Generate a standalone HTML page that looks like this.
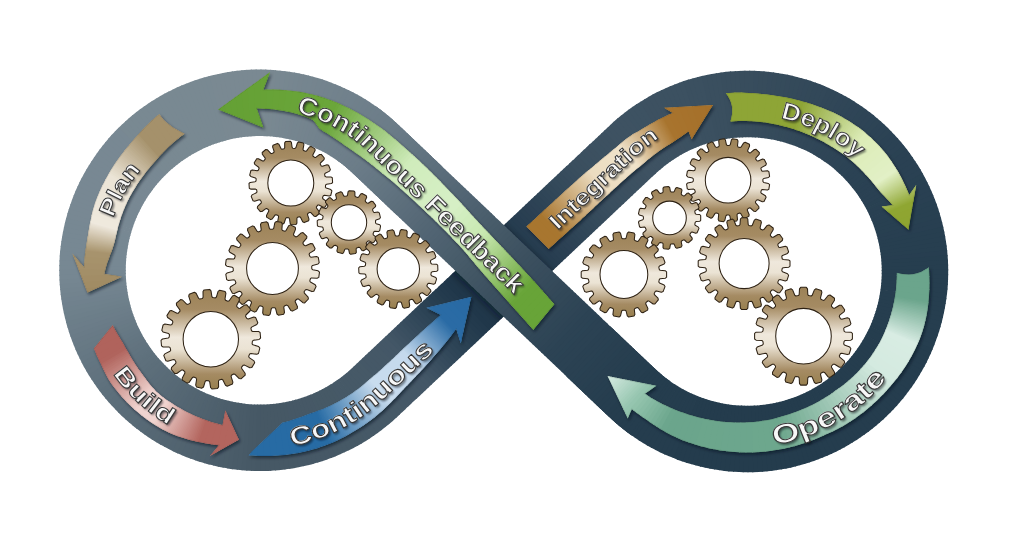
<!DOCTYPE html>
<html><head><meta charset="utf-8"><title>DevOps loop</title>
<style>html,body{margin:0;padding:0;background:#fff;overflow:hidden}svg{display:block}text{font-family:"Liberation Sans",sans-serif}</style>
</head><body>
<svg width="1024" height="544" viewBox="0 0 1024 544">
<defs>
<filter id="sh" x="-20%" y="-20%" width="140%" height="140%"><feGaussianBlur stdDeviation="1.8"/></filter>
<filter id="sh2" x="-20%" y="-20%" width="140%" height="140%"><feGaussianBlur stdDeviation="4"/></filter>
<filter id="tsh" x="-20%" y="-20%" width="140%" height="140%"><feGaussianBlur stdDeviation="0.9"/></filter>
<linearGradient id="gg" x1="0" y1="0" x2="0" y2="1">
<stop offset="0.000" stop-color="#9c8257"/>
<stop offset="0.200" stop-color="#a58b63"/>
<stop offset="0.480" stop-color="#efe8dc"/>
<stop offset="0.600" stop-color="#ebe3d4"/>
<stop offset="0.850" stop-color="#a58b63"/>
<stop offset="1.000" stop-color="#98804f"/>
</linearGradient>
<linearGradient id="tg" x1="0" y1="0" x2="0" y2="1"><stop offset="0" stop-color="#fff"/><stop offset="1" stop-color="#c4c4c4"/></linearGradient>
</defs>
<rect width="1024" height="544" fill="#fff"/>
<clipPath id="b1"><path d="M396.0,214.3 L393.1,211.6 L390.2,208.8 L387.3,206.1 L384.4,203.3 L381.5,200.5 L378.6,197.8 L375.7,195.0 L372.8,192.3 L369.9,189.5 L367.0,186.7 L364.1,184.0 L361.2,181.2 L358.3,178.5 L355.3,175.7 L352.5,173.0 L350.1,170.8 L347.7,168.7 L345.2,166.6 L342.7,164.6 L340.2,162.6 L337.6,160.7 L335.0,158.9 L332.3,157.2 L329.5,155.5 L326.8,153.8 L324.0,152.3 L321.1,150.8 L318.3,149.4 L315.4,148.0 L312.4,146.7 L309.4,145.5 L306.4,144.3 L303.4,143.3 L300.4,142.3 L297.3,141.3 L294.2,140.5 L291.1,139.7 L288.0,139.0 L284.8,138.4 L281.7,137.8 L278.5,137.3 L275.3,136.9 L272.1,136.6 L268.9,136.3 L265.7,136.2 L262.5,136.1 L259.3,136.1 L256.1,136.1 L252.9,136.2 L249.7,136.4 L246.5,136.7 L243.3,137.1 L240.1,137.5 L236.9,138.0 L233.8,138.6 L230.6,139.3 L227.5,140.0 L224.4,140.9 L221.3,141.7 L218.3,142.7 L215.2,143.7 L212.2,144.8 L209.2,146.0 L206.3,147.3 L203.3,148.6 L200.5,150.0 L197.6,151.4 L194.8,153.0 L192.0,154.6 L189.2,156.2 L186.5,157.9 L183.9,159.7 L181.2,161.6 L178.7,163.5 L176.1,165.5 L173.7,167.5 L171.2,169.6 L168.8,171.7 L166.5,174.0 L164.2,176.2 L162.0,178.5 L159.8,180.9 L157.7,183.3 L155.7,185.8 L153.7,188.3 L151.8,190.9 L149.9,193.5 L148.1,196.1 L146.4,198.8 L144.7,201.6 L143.1,204.3 L141.5,207.2 L140.1,210.0 L138.6,212.9 L137.3,215.8 L136.0,218.8 L134.8,221.7 L133.7,224.7 L132.7,227.8 L131.7,230.8 L130.8,233.9 L129.9,237.0 L129.2,240.1 L128.5,243.3 L127.9,246.4 L127.4,249.6 L126.9,252.8 L126.5,255.9 L126.2,259.1 L126.0,262.3 L125.8,265.5 L125.8,268.7 L125.8,272.0 L125.8,275.2 L126.0,278.4 L126.2,281.6 L126.5,284.8 L126.9,288.0 L127.4,291.1 L127.9,294.3 L128.5,297.4 L129.2,300.6 L130.0,303.7 L130.8,306.8 L131.7,309.9 L132.7,312.9 L133.8,316.0 L134.9,319.0 L136.1,321.9 L137.3,324.9 L138.7,327.8 L140.1,330.7 L141.6,333.5 L143.1,336.4 L144.7,339.1 L146.4,341.9 L148.2,344.6 L150.0,347.2 L151.8,349.8 L153.8,352.4 L155.8,354.9 L157.8,357.4 L159.9,359.8 L162.1,362.1 L164.3,364.5 L166.6,366.7 L168.9,368.9 L171.3,371.1 L173.7,373.2 L176.2,375.2 L178.8,377.2 L181.3,379.1 L184.0,380.9 L186.6,382.7 L189.3,384.4 L192.1,386.1 L194.9,387.7 L197.7,389.2 L200.5,390.7 L203.4,392.1 L206.4,393.4 L209.3,394.6 L212.3,395.8 L215.3,396.9 L218.4,397.9 L221.4,398.9 L224.5,399.8 L227.6,400.6 L230.7,401.3 L233.9,402.0 L237.0,402.6 L240.2,403.1 L243.4,403.5 L246.6,403.9 L249.8,404.2 L253.0,404.4 L256.2,404.5 L259.4,404.5 L262.6,404.5 L265.8,404.4 L269.0,404.2 L272.2,404.0 L275.4,403.7 L278.6,403.3 L281.8,402.8 L284.9,402.2 L288.1,401.6 L291.2,400.9 L294.3,400.1 L297.4,399.2 L300.5,398.3 L303.5,397.3 L306.5,396.2 L309.5,395.1 L312.5,393.9 L315.4,392.6 L318.4,391.2 L321.2,389.8 L324.1,388.3 L326.9,386.7 L329.6,385.1 L332.4,383.4 L335.0,381.6 L337.7,379.8 L340.3,377.9 L342.8,376.0 L345.3,373.9 L347.8,371.9 L350.2,369.8 L352.7,367.4 L355.6,364.7 L358.5,362.0 L361.4,359.2 L364.3,356.5 L367.2,353.7 L370.2,351.0 L373.1,348.2 L376.0,345.5 L378.9,342.7 L381.8,340.0 L384.7,337.3 L387.7,334.5 L390.6,331.8 L393.5,329.0 L396.4,326.3 L399.3,323.5 L402.2,320.8 L405.1,318.0 L408.1,315.3 L411.0,312.6 L413.9,309.8 L416.8,307.1 L419.7,304.3 L422.6,301.6 L425.6,298.8 L428.5,296.1 L431.4,293.3 L434.3,290.6 L437.2,287.9 L440.1,285.1 L443.1,282.4 L446.0,279.6 L448.9,276.9 L451.8,274.1 L454.7,271.4 L457.6,268.6 L460.5,265.9 L463.5,263.2 L466.4,260.4 L469.3,257.7 L472.2,254.9 L475.1,252.2 L478.0,249.4 L481.0,246.7 L483.9,243.9 L486.8,241.2 L489.7,238.5 L492.6,235.7 L495.5,233.0 L498.5,230.2 L501.4,227.5 L504.3,224.7 L507.2,222.0 L510.1,219.2 L513.0,216.5 L516.0,213.8 L518.9,211.0 L521.8,208.3 L524.7,205.5 L527.6,202.8 L530.5,200.0 L533.4,197.3 L536.4,194.5 L539.3,191.8 L542.2,189.1 L545.1,186.3 L548.0,183.6 L550.9,180.8 L553.9,178.1 L556.8,175.3 L559.7,172.6 L562.6,169.8 L565.5,167.1 L568.4,164.4 L571.4,161.6 L574.3,158.9 L577.2,156.1 L580.1,153.4 L583.0,150.6 L585.9,147.9 L588.8,145.1 L591.8,142.4 L594.7,139.7 L597.6,136.9 L600.5,134.2 L603.4,131.4 L606.3,128.7 L609.3,125.9 L612.6,122.8 L616.2,119.6 L619.9,116.5 L623.7,113.5 L627.5,110.6 L631.3,107.8 L635.3,105.0 L639.3,102.4 L643.4,99.9 L647.5,97.4 L651.7,95.1 L655.9,92.8 L660.2,90.7 L664.6,88.7 L669.0,86.7 L673.4,84.9 L677.9,83.2 L682.4,81.6 L687.0,80.1 L691.6,78.7 L696.2,77.4 L700.8,76.2 L705.5,75.2 L710.2,74.2 L715.0,73.4 L719.7,72.7 L724.5,72.1 L729.2,71.6 L734.0,71.2 L738.8,70.9 L743.6,70.8 L748.4,70.8 L753.2,70.8 L758.0,71.0 L762.8,71.3 L767.6,71.8 L772.3,72.3 L777.1,72.9 L781.8,73.7 L786.6,74.6 L791.2,75.6 L795.9,76.7 L800.6,77.9 L805.2,79.2 L809.8,80.6 L814.3,82.2 L818.8,83.8 L823.3,85.6 L827.7,87.5 L832.1,89.4 L836.4,91.5 L840.7,93.7 L844.9,96.0 L849.1,98.3 L853.2,100.8 L857.2,103.4 L861.2,106.1 L865.1,108.8 L869.0,111.7 L872.8,114.6 L876.5,117.7 L880.1,120.8 L883.7,124.0 L887.2,127.3 L890.6,130.7 L893.9,134.2 L897.2,137.7 L900.3,141.3 L903.4,145.0 L906.4,148.8 L909.2,152.6 L912.0,156.5 L914.7,160.5 L917.4,164.5 L919.9,168.6 L922.3,172.7 L924.6,176.9 L926.8,181.2 L928.9,185.5 L930.9,189.9 L932.8,194.3 L934.6,198.7 L936.3,203.2 L937.9,207.8 L939.3,212.3 L940.7,216.9 L941.9,221.6 L943.1,226.2 L944.1,230.9 L945.0,235.6 L945.8,240.4 L946.5,245.1 L947.1,249.9 L947.5,254.6 L947.9,259.4 L948.1,264.2 L948.2,269.0 L948.2,273.8 L948.1,278.6 L947.9,283.4 L947.6,288.2 L947.1,293.0 L946.5,297.7 L945.8,302.5 L945.0,307.2 L944.1,311.9 L943.1,316.6 L942.0,321.3 L940.7,325.9 L939.4,330.5 L937.9,335.1 L936.3,339.6 L934.7,344.1 L932.9,348.6 L931.0,353.0 L929.0,357.3 L926.9,361.7 L924.7,365.9 L922.4,370.1 L919.9,374.3 L917.4,378.4 L914.8,382.4 L912.1,386.4 L909.3,390.3 L906.5,394.1 L903.5,397.9 L900.4,401.6 L897.3,405.2 L894.0,408.7 L890.7,412.2 L887.3,415.6 L883.8,418.9 L880.3,422.1 L876.6,425.2 L872.9,428.3 L869.1,431.2 L865.3,434.1 L861.3,436.8 L857.4,439.5 L853.3,442.1 L849.2,444.6 L845.0,447.0 L840.8,449.2 L836.5,451.4 L832.2,453.5 L827.8,455.5 L823.4,457.3 L819.0,459.1 L814.5,460.8 L809.9,462.3 L805.3,463.7 L800.7,465.1 L796.1,466.3 L791.4,467.4 L786.7,468.4 L782.0,469.3 L777.3,470.0 L772.5,470.7 L767.7,471.2 L763.0,471.7 L758.2,472.0 L753.4,472.2 L748.6,472.2 L743.8,472.2 L739.0,472.1 L734.2,471.8 L729.4,471.4 L724.6,470.9 L719.9,470.3 L715.1,469.6 L710.4,468.8 L705.7,467.8 L701.0,466.8 L696.3,465.6 L691.7,464.3 L687.1,463.0 L682.6,461.5 L678.0,459.9 L673.6,458.1 L669.1,456.3 L664.7,454.4 L660.4,452.4 L656.1,450.2 L651.8,448.0 L647.6,445.7 L643.5,443.2 L639.4,440.7 L635.4,438.1 L631.5,435.3 L627.6,432.5 L623.8,429.6 L620.0,426.6 L616.4,423.5 L612.8,420.3 L609.2,417.1 L606.3,414.3 L603.4,411.5 L600.5,408.8 L597.6,406.0 L594.7,403.3 L591.8,400.5 L588.9,397.7 L586.0,395.0 L583.1,392.2 L580.2,389.5 L577.3,386.7 L574.4,383.9 L571.5,381.2 L568.6,378.4 L565.7,375.7 L611.5,327.5 L614.4,330.2 L617.3,333.0 L620.2,335.7 L623.1,338.5 L626.0,341.3 L628.9,344.0 L631.8,346.8 L634.7,349.5 L637.6,352.3 L640.5,355.1 L643.4,357.8 L646.3,360.6 L649.2,363.3 L652.2,366.1 L655.0,368.8 L657.4,371.0 L659.8,373.1 L662.3,375.2 L664.8,377.2 L667.3,379.2 L669.9,381.1 L672.5,382.9 L675.2,384.6 L678.0,386.3 L680.7,388.0 L683.5,389.5 L686.4,391.0 L689.2,392.4 L692.1,393.8 L695.1,395.1 L698.1,396.3 L701.1,397.5 L704.1,398.5 L707.1,399.5 L710.2,400.5 L713.3,401.3 L716.4,402.1 L719.5,402.8 L722.7,403.4 L725.8,404.0 L729.0,404.5 L732.2,404.9 L735.4,405.2 L738.6,405.5 L741.8,405.6 L745.0,405.7 L748.2,405.7 L751.4,405.7 L754.6,405.6 L757.8,405.4 L761.0,405.1 L764.2,404.7 L767.4,404.3 L770.6,403.8 L773.7,403.2 L776.9,402.5 L780.0,401.8 L783.1,400.9 L786.2,400.1 L789.2,399.1 L792.3,398.1 L795.3,397.0 L798.3,395.8 L801.2,394.5 L804.2,393.2 L807.0,391.8 L809.9,390.4 L812.7,388.8 L815.5,387.2 L818.3,385.6 L821.0,383.9 L823.6,382.1 L826.3,380.2 L828.8,378.3 L831.4,376.3 L833.8,374.3 L836.3,372.2 L838.7,370.1 L841.0,367.8 L843.3,365.6 L845.5,363.3 L847.7,360.9 L849.8,358.5 L851.8,356.0 L853.8,353.5 L855.7,350.9 L857.6,348.3 L859.4,345.7 L861.1,343.0 L862.8,340.2 L864.4,337.5 L866.0,334.6 L867.4,331.8 L868.9,328.9 L870.2,326.0 L871.5,323.0 L872.7,320.1 L873.8,317.1 L874.8,314.0 L875.8,311.0 L876.7,307.9 L877.6,304.8 L878.3,301.7 L879.0,298.5 L879.6,295.4 L880.1,292.2 L880.6,289.0 L881.0,285.9 L881.3,282.7 L881.5,279.5 L881.7,276.3 L881.7,273.1 L881.7,269.8 L881.7,266.6 L881.5,263.4 L881.3,260.2 L881.0,257.0 L880.6,253.8 L880.1,250.7 L879.6,247.5 L879.0,244.4 L878.3,241.2 L877.5,238.1 L876.7,235.0 L875.8,231.9 L874.8,228.9 L873.7,225.8 L872.6,222.8 L871.4,219.9 L870.2,216.9 L868.8,214.0 L867.4,211.1 L865.9,208.3 L864.4,205.4 L862.8,202.7 L861.1,199.9 L859.3,197.2 L857.5,194.6 L855.7,192.0 L853.7,189.4 L851.7,186.9 L849.7,184.4 L847.6,182.0 L845.4,179.7 L843.2,177.3 L840.9,175.1 L838.6,172.9 L836.2,170.7 L833.8,168.6 L831.3,166.6 L828.7,164.6 L826.2,162.7 L823.5,160.9 L820.9,159.1 L818.2,157.4 L815.4,155.7 L812.6,154.1 L809.8,152.6 L807.0,151.1 L804.1,149.7 L801.1,148.4 L798.2,147.2 L795.2,146.0 L792.2,144.9 L789.1,143.9 L786.1,142.9 L783.0,142.0 L779.9,141.2 L776.8,140.5 L773.6,139.8 L770.5,139.2 L767.3,138.7 L764.1,138.3 L760.9,137.9 L757.7,137.6 L754.5,137.4 L751.3,137.3 L748.1,137.3 L744.9,137.3 L741.7,137.4 L738.5,137.6 L735.3,137.8 L732.1,138.1 L728.9,138.5 L725.7,139.0 L722.6,139.6 L719.4,140.2 L716.3,140.9 L713.2,141.7 L710.1,142.6 L707.0,143.5 L704.0,144.5 L701.0,145.6 L698.0,146.7 L695.0,147.9 L692.1,149.2 L689.1,150.6 L686.3,152.0 L683.4,153.5 L680.6,155.1 L677.9,156.7 L675.1,158.4 L672.5,160.2 L669.8,162.0 L667.2,163.9 L664.7,165.8 L662.2,167.9 L659.7,169.9 L657.3,172.0 L654.8,174.4 L651.9,177.1 L649.0,179.8 L646.1,182.6 L643.2,185.3 L640.3,188.1 L637.3,190.8 L634.4,193.6 L631.5,196.3 L628.6,199.1 L625.7,201.8 L622.8,204.5 L619.8,207.3 L616.9,210.0 L614.0,212.8 L611.1,215.5 L608.2,218.3 L605.3,221.0 L602.4,223.8 L599.4,226.5 L596.5,229.2 L593.6,232.0 L590.7,234.7 L587.8,237.5 L584.9,240.2 L581.9,243.0 L579.0,245.7 L576.1,248.5 L573.2,251.2 L570.3,253.9 L567.4,256.7 L564.4,259.4 L561.5,262.2 L558.6,264.9 L555.7,267.7 L552.8,270.4 L549.9,273.2 L547.0,275.9 L544.0,278.6 L541.1,281.4 L538.2,284.1 L535.3,286.9 L532.4,289.6 L529.5,292.4 L526.5,295.1 L523.6,297.9 L520.7,300.6 L517.8,303.3 L514.9,306.1 L512.0,308.8 L509.0,311.6 L506.1,314.3 L503.2,317.1 L500.3,319.8 L497.4,322.6 L494.5,325.3 L491.5,328.0 L488.6,330.8 L485.7,333.5 L482.8,336.3 L479.9,339.0 L477.0,341.8 L474.1,344.5 L471.1,347.3 L468.2,350.0 L465.3,352.7 L462.4,355.5 L459.5,358.2 L456.6,361.0 L453.6,363.7 L450.7,366.5 L447.8,369.2 L444.9,372.0 L442.0,374.7 L439.1,377.4 L436.1,380.2 L433.2,382.9 L430.3,385.7 L427.4,388.4 L424.5,391.2 L421.6,393.9 L418.7,396.7 L415.7,399.4 L412.8,402.1 L409.9,404.9 L407.0,407.6 L404.1,410.4 L401.2,413.1 L398.2,415.9 L394.9,419.0 L391.3,422.2 L387.6,425.3 L383.8,428.3 L380.0,431.2 L376.2,434.0 L372.2,436.8 L368.2,439.4 L364.1,441.9 L360.0,444.4 L355.8,446.7 L351.6,449.0 L347.3,451.1 L342.9,453.1 L338.5,455.1 L334.1,456.9 L329.6,458.6 L325.1,460.2 L320.5,461.7 L315.9,463.1 L311.3,464.4 L306.7,465.6 L302.0,466.6 L297.3,467.6 L292.5,468.4 L287.8,469.1 L283.0,469.7 L278.3,470.2 L273.5,470.6 L268.7,470.9 L263.9,471.0 L259.1,471.0 L254.3,471.0 L249.5,470.8 L244.7,470.5 L239.9,470.0 L235.2,469.5 L230.4,468.9 L225.7,468.1 L220.9,467.2 L216.3,466.2 L211.6,465.1 L206.9,463.9 L202.3,462.6 L197.7,461.2 L193.2,459.6 L188.7,458.0 L184.2,456.2 L179.8,454.3 L175.4,452.4 L171.1,450.3 L166.8,448.1 L162.6,445.8 L158.4,443.5 L154.3,441.0 L150.3,438.4 L146.3,435.7 L142.4,433.0 L138.5,430.1 L134.7,427.2 L131.0,424.1 L127.4,421.0 L123.8,417.8 L120.3,414.5 L116.9,411.1 L113.6,407.6 L110.3,404.1 L107.2,400.5 L104.1,396.8 L101.1,393.0 L98.3,389.2 L95.5,385.3 L92.8,381.3 L90.1,377.3 L87.6,373.2 L85.2,369.1 L82.9,364.9 L80.7,360.6 L78.6,356.3 L76.6,351.9 L74.7,347.5 L72.9,343.1 L71.2,338.6 L69.6,334.0 L68.2,329.5 L66.8,324.9 L65.6,320.2 L64.4,315.6 L63.4,310.9 L62.5,306.2 L61.7,301.4 L61.0,296.7 L60.4,291.9 L60.0,287.2 L59.6,282.4 L59.4,277.6 L59.3,272.8 L59.3,268.0 L59.4,263.2 L59.6,258.4 L59.9,253.6 L60.4,248.8 L61.0,244.1 L61.7,239.3 L62.5,234.6 L63.4,229.9 L64.4,225.2 L65.5,220.5 L66.8,215.9 L68.1,211.3 L69.6,206.7 L71.2,202.2 L72.8,197.7 L74.6,193.2 L76.5,188.8 L78.5,184.5 L80.6,180.1 L82.8,175.9 L85.1,171.7 L87.6,167.5 L90.1,163.4 L92.7,159.4 L95.4,155.4 L98.2,151.5 L101.0,147.7 L104.0,143.9 L107.1,140.2 L110.2,136.6 L113.5,133.1 L116.8,129.6 L120.2,126.2 L123.7,122.9 L127.2,119.7 L130.9,116.6 L134.6,113.5 L138.4,110.6 L142.2,107.7 L146.2,105.0 L150.1,102.3 L154.2,99.7 L158.3,97.2 L162.5,94.8 L166.7,92.6 L171.0,90.4 L175.3,88.3 L179.7,86.3 L184.1,84.5 L188.5,82.7 L193.0,81.0 L197.6,79.5 L202.2,78.1 L206.8,76.7 L211.4,75.5 L216.1,74.4 L220.8,73.4 L225.5,72.5 L230.2,71.8 L235.0,71.1 L239.8,70.6 L244.5,70.1 L249.3,69.8 L254.1,69.6 L258.9,69.6 L263.7,69.6 L268.5,69.7 L273.3,70.0 L278.1,70.4 L282.9,70.9 L287.6,71.5 L292.4,72.2 L297.1,73.0 L301.8,74.0 L306.5,75.0 L311.2,76.2 L315.8,77.5 L320.4,78.8 L324.9,80.3 L329.5,81.9 L333.9,83.7 L338.4,85.5 L342.8,87.4 L347.1,89.4 L351.4,91.6 L355.7,93.8 L359.9,96.1 L364.0,98.6 L368.1,101.1 L372.1,103.7 L376.0,106.5 L379.9,109.3 L383.7,112.2 L387.5,115.2 L391.1,118.3 L394.7,121.5 L398.3,124.7 L401.2,127.5 L404.1,130.3 L407.0,133.0 L409.9,135.8 L412.8,138.5 L415.7,141.3 L418.6,144.1 L421.5,146.8 L424.4,149.6 L427.3,152.3 L430.2,155.1 L433.1,157.9 L436.0,160.6 L438.9,163.4 L441.8,166.1Z"/></clipPath>
<clipPath id="b2"><path d="M632.4,436.0 L628.5,433.2 L624.6,430.3 L620.9,427.3 L617.2,424.2 L613.6,421.1 L610.1,417.8 L607.0,414.9 L604.1,412.2 L601.2,409.4 L598.3,406.7 L595.4,403.9 L592.5,401.1 L589.6,398.4 L586.7,395.6 L583.8,392.9 L580.9,390.1 L578.0,387.4 L575.1,384.6 L572.2,381.8 L569.3,379.1 L566.4,376.3 L563.5,373.6 L560.6,370.8 L557.7,368.1 L554.8,365.3 L551.9,362.5 L549.0,359.8 L546.1,357.0 L543.2,354.3 L540.3,351.5 L537.4,348.8 L534.5,346.0 L531.6,343.2 L528.7,340.5 L525.8,337.7 L522.9,335.0 L520.0,332.2 L517.1,329.5 L514.2,326.7 L511.3,323.9 L508.4,321.2 L505.5,318.4 L502.6,315.7 L499.7,312.9 L496.8,310.2 L493.9,307.4 L491.0,304.6 L488.1,301.9 L485.2,299.1 L482.3,296.4 L479.4,293.6 L476.5,290.9 L473.6,288.1 L470.7,285.4 L467.8,282.6 L464.9,279.8 L462.0,277.1 L459.1,274.3 L456.2,271.6 L453.3,268.8 L450.4,266.1 L447.5,263.3 L444.6,260.5 L441.7,257.8 L438.8,255.0 L435.9,252.3 L433.0,249.5 L430.1,246.8 L427.2,244.0 L424.3,241.2 L421.4,238.5 L418.5,235.7 L415.6,233.0 L412.7,230.2 L409.8,227.5 L406.9,224.7 L404.0,221.9 L401.1,219.2 L398.2,216.4 L395.3,213.7 L392.4,210.9 L389.5,208.2 L386.6,205.4 L383.7,202.6 L380.8,199.9 L377.9,197.1 L375.0,194.4 L372.1,191.6 L369.2,188.9 L366.3,186.1 L363.4,183.3 L360.5,180.6 L357.6,177.8 L354.7,175.1 L351.9,172.5 L349.6,170.3 L347.1,168.2 L344.7,166.1 L342.2,164.1 L339.6,162.2 L337.0,160.3 L375.1,105.8 L379.0,108.6 L382.9,111.5 L386.6,114.5 L390.3,117.6 L393.9,120.7 L397.4,124.0 L400.5,126.9 L403.4,129.6 L406.3,132.4 L409.2,135.1 L412.1,137.9 L415.0,140.7 L417.9,143.4 L420.8,146.2 L423.7,148.9 L426.6,151.7 L429.5,154.4 L432.4,157.2 L435.3,160.0 L438.2,162.7 L441.1,165.5 L444.0,168.2 L446.9,171.0 L449.8,173.7 L452.7,176.5 L455.6,179.3 L458.5,182.0 L461.4,184.8 L464.3,187.5 L467.2,190.3 L470.1,193.0 L473.0,195.8 L475.9,198.6 L478.8,201.3 L481.7,204.1 L484.6,206.8 L487.5,209.6 L490.4,212.3 L493.3,215.1 L496.2,217.9 L499.1,220.6 L502.0,223.4 L504.9,226.1 L507.8,228.9 L510.7,231.6 L513.6,234.4 L516.5,237.2 L519.4,239.9 L522.3,242.7 L525.2,245.4 L528.1,248.2 L531.0,250.9 L533.9,253.7 L536.8,256.4 L539.7,259.2 L542.6,262.0 L545.5,264.7 L548.4,267.5 L551.3,270.2 L554.2,273.0 L557.1,275.7 L560.0,278.5 L562.9,281.3 L565.8,284.0 L568.7,286.8 L571.6,289.5 L574.5,292.3 L577.4,295.0 L580.3,297.8 L583.2,300.6 L586.1,303.3 L589.0,306.1 L591.9,308.8 L594.8,311.6 L597.7,314.3 L600.6,317.1 L603.5,319.9 L606.4,322.6 L609.3,325.4 L612.2,328.1 L615.1,330.9 L618.0,333.6 L620.9,336.4 L623.8,339.2 L626.7,341.9 L629.6,344.7 L632.5,347.4 L635.4,350.2 L638.3,352.9 L641.2,355.7 L644.1,358.5 L647.0,361.2 L649.9,364.0 L652.8,366.7 L655.6,369.3 L657.9,371.5 L660.4,373.6 L662.8,375.7 L665.3,377.7 L667.9,379.6 L670.5,381.5Z"/></clipPath>
<g clip-path="url(#b1)">
<path d="M395.4,217.9 L391.7,214.4 L441.7,161.9 L445.3,165.3Z" fill="#5b6e7b"/><path d="M392.5,215.1 L388.8,211.7 L438.8,159.1 L442.4,162.6Z" fill="#5d6f7c"/><path d="M389.6,212.4 L385.9,208.9 L435.9,156.4 L439.5,159.8Z" fill="#5e707d"/><path d="M386.7,209.6 L383.0,206.2 L433.0,153.6 L436.6,157.1Z" fill="#5f717e"/><path d="M383.8,206.9 L380.1,203.4 L430.1,150.9 L433.7,154.3Z" fill="#60727f"/><path d="M380.9,204.1 L377.2,200.7 L427.2,148.1 L430.8,151.6Z" fill="#61737f"/><path d="M378.0,201.4 L374.3,197.9 L424.3,145.4 L427.9,148.8Z" fill="#627480"/><path d="M375.1,198.6 L371.4,195.2 L421.4,142.6 L425.0,146.0Z" fill="#637481"/><path d="M372.2,195.8 L368.5,192.4 L418.5,139.8 L422.1,143.3Z" fill="#647582"/><path d="M369.3,193.1 L365.6,189.6 L415.6,137.1 L419.2,140.5Z" fill="#657683"/><path d="M366.4,190.3 L362.7,186.9 L412.7,134.3 L416.3,137.8Z" fill="#667784"/><path d="M363.5,187.6 L359.8,184.1 L409.8,131.6 L413.4,135.0Z" fill="#677885"/><path d="M360.6,184.8 L356.9,181.4 L406.9,128.8 L410.5,132.3Z" fill="#687985"/><path d="M357.7,182.1 L354.1,178.6 L404.0,126.1 L407.6,129.5Z" fill="#697a86"/><path d="M354.8,179.3 L351.2,175.9 L401.1,123.3 L404.7,126.8Z" fill="#6a7b87"/><path d="M351.9,176.5 L348.7,173.6 L397.7,120.1 L401.8,124.0Z" fill="#6b7c88"/><path d="M349.3,174.1 L346.4,171.5 L394.1,116.9 L398.6,121.0Z" fill="#6c7c88"/><path d="M347.0,172.0 L344.0,169.4 L390.4,113.7 L395.0,117.7Z" fill="#6c7d89"/><path d="M344.6,169.9 L341.6,167.5 L386.6,110.7 L391.3,114.5Z" fill="#6c7d89"/><path d="M342.2,168.0 L339.1,165.5 L382.8,107.7 L387.6,111.4Z" fill="#6d7e89"/><path d="M339.7,166.0 L336.6,163.7 L378.8,104.8 L383.7,108.4Z" fill="#6d7e8a"/><path d="M337.2,164.1 L334.0,161.9 L374.9,102.0 L379.8,105.5Z" fill="#6e7f8a"/><path d="M334.6,162.3 L331.4,160.2 L370.8,99.3 L375.9,102.7Z" fill="#6e7f8a"/><path d="M332.0,160.6 L328.7,158.5 L366.7,96.7 L371.8,100.0Z" fill="#6f7f8b"/><path d="M329.4,158.9 L326.0,156.9 L362.5,94.2 L367.7,97.4Z" fill="#6f808b"/><path d="M326.7,157.3 L323.3,155.3 L358.3,91.8 L363.6,94.8Z" fill="#70808b"/><path d="M324.0,155.7 L320.5,153.8 L354.0,89.5 L359.3,92.4Z" fill="#70818c"/><path d="M321.2,154.2 L317.7,152.4 L349.6,87.3 L355.1,90.1Z" fill="#71818c"/><path d="M318.5,152.8 L314.9,151.1 L345.3,85.2 L350.7,87.9Z" fill="#71818c"/><path d="M315.6,151.4 L312.1,149.8 L340.8,83.3 L346.4,85.8Z" fill="#72828c"/><path d="M312.8,150.1 L309.2,148.6 L336.3,81.4 L341.9,83.7Z" fill="#72828d"/><path d="M309.9,148.9 L306.2,147.5 L331.8,79.6 L337.4,81.8Z" fill="#73838d"/><path d="M307.0,147.7 L303.3,146.4 L327.2,78.0 L332.9,80.0Z" fill="#73838d"/><path d="M304.0,146.7 L300.3,145.4 L322.6,76.4 L328.4,78.4Z" fill="#74838e"/><path d="M301.1,145.6 L297.3,144.5 L318.0,75.0 L323.8,76.8Z" fill="#74848e"/><path d="M298.1,144.7 L294.3,143.6 L313.3,73.6 L319.1,75.3Z" fill="#75848e"/><path d="M295.1,143.8 L291.3,142.8 L308.6,72.4 L314.4,74.0Z" fill="#75858f"/><path d="M292.0,143.0 L288.2,142.1 L303.8,71.3 L309.7,72.7Z" fill="#75858f"/><path d="M289.0,142.3 L285.2,141.5 L299.1,70.3 L305.0,71.6Z" fill="#76858f"/><path d="M285.9,141.6 L282.1,140.9 L294.3,69.5 L300.3,70.6Z" fill="#768690"/><path d="M282.8,141.1 L279.0,140.4 L289.5,68.7 L295.5,69.7Z" fill="#778690"/><path d="M279.8,140.5 L275.9,140.0 L284.6,68.0 L290.7,68.9Z" fill="#778790"/><path d="M276.7,140.1 L272.8,139.7 L279.8,67.5 L285.9,68.2Z" fill="#788791"/><path d="M273.5,139.8 L269.6,139.4 L275.0,67.1 L281.0,67.6Z" fill="#788891"/><path d="M270.4,139.5 L266.5,139.2 L270.1,66.8 L276.2,67.2Z" fill="#798891"/><path d="M267.3,139.3 L263.4,139.1 L265.2,66.6 L271.3,66.9Z" fill="#798891"/><path d="M264.2,139.1 L260.2,139.1 L260.4,66.6 L266.5,66.7Z" fill="#7a8992"/><path d="M261.0,139.1 L257.1,139.1 L255.5,66.6 L261.6,66.6Z" fill="#7a8992"/><path d="M257.9,139.1 L254.0,139.2 L250.6,66.8 L256.7,66.6Z" fill="#7a8992"/><path d="M254.8,139.2 L250.8,139.4 L245.8,67.0 L251.9,66.7Z" fill="#7a8992"/><path d="M251.6,139.3 L247.7,139.6 L240.9,67.4 L247.0,67.0Z" fill="#7a8992"/><path d="M248.5,139.6 L244.6,140.0 L236.1,68.0 L242.2,67.3Z" fill="#7a8992"/><path d="M245.4,139.9 L241.5,140.4 L231.3,68.6 L237.3,67.8Z" fill="#7a8992"/><path d="M242.3,140.3 L238.4,140.8 L226.5,69.3 L232.5,68.4Z" fill="#7a8992"/><path d="M239.2,140.7 L235.3,141.4 L221.7,70.2 L227.7,69.1Z" fill="#7a8992"/><path d="M236.1,141.2 L232.2,142.0 L216.9,71.2 L222.9,70.0Z" fill="#7a8992"/><path d="M233.0,141.9 L229.2,142.7 L212.2,72.2 L218.1,70.9Z" fill="#7a8992"/><path d="M230.0,142.5 L226.2,143.5 L207.5,73.4 L213.4,72.0Z" fill="#7a8992"/><path d="M226.9,143.3 L223.1,144.3 L202.8,74.8 L208.6,73.1Z" fill="#798992"/><path d="M223.9,144.1 L220.1,145.3 L198.1,76.2 L203.9,74.4Z" fill="#798992"/><path d="M220.9,145.0 L217.2,146.2 L193.5,77.7 L199.3,75.8Z" fill="#798992"/><path d="M217.9,146.0 L214.2,147.3 L188.9,79.4 L194.6,77.3Z" fill="#798992"/><path d="M214.9,147.0 L211.3,148.4 L184.4,81.1 L190.1,78.9Z" fill="#798992"/><path d="M212.0,148.1 L208.4,149.6 L179.9,83.0 L185.5,80.7Z" fill="#798992"/><path d="M209.1,149.3 L205.5,150.9 L175.4,84.9 L181.0,82.5Z" fill="#798992"/><path d="M206.2,150.6 L202.7,152.2 L171.0,87.0 L176.5,84.4Z" fill="#798992"/><path d="M203.4,151.9 L199.9,153.6 L166.7,89.2 L172.1,86.5Z" fill="#798992"/><path d="M200.6,153.3 L197.1,155.1 L162.4,91.5 L167.8,88.6Z" fill="#798992"/><path d="M197.8,154.7 L194.4,156.6 L158.1,93.8 L163.5,90.9Z" fill="#798992"/><path d="M195.1,156.2 L191.7,158.2 L154.0,96.3 L159.2,93.2Z" fill="#798992"/><path d="M192.4,157.8 L189.0,159.9 L149.8,98.9 L155.0,95.7Z" fill="#798992"/><path d="M189.7,159.5 L186.4,161.6 L145.8,101.6 L150.9,98.2Z" fill="#798992"/><path d="M187.1,161.2 L183.8,163.4 L141.8,104.4 L146.8,100.9Z" fill="#798992"/><path d="M184.5,163.0 L181.3,165.3 L137.8,107.2 L142.8,103.7Z" fill="#798992"/><path d="M181.9,164.8 L178.8,167.2 L134.0,110.2 L138.8,106.5Z" fill="#798992"/><path d="M179.4,166.7 L176.4,169.1 L130.2,113.2 L134.9,109.4Z" fill="#798992"/><path d="M177.0,168.6 L174.0,171.2 L126.5,116.4 L131.1,112.5Z" fill="#798992"/><path d="M174.6,170.6 L171.7,173.2 L122.8,119.6 L127.4,115.6Z" fill="#798992"/><path d="M172.2,172.7 L169.4,175.4 L119.3,122.9 L123.7,118.8Z" fill="#798992"/><path d="M169.9,174.8 L167.1,177.6 L115.8,126.3 L120.2,122.1Z" fill="#798992"/><path d="M167.7,177.0 L164.9,179.8 L112.4,129.8 L116.7,125.5Z" fill="#788893"/><path d="M165.5,179.2 L162.8,182.1 L109.1,133.4 L113.3,128.9Z" fill="#788893"/><path d="M163.3,181.5 L160.7,184.5 L105.9,137.0 L109.9,132.5Z" fill="#788893"/><path d="M161.2,183.9 L158.7,186.8 L102.7,140.8 L106.7,136.1Z" fill="#788893"/><path d="M159.2,186.2 L156.7,189.3 L99.7,144.5 L103.5,139.8Z" fill="#788893"/><path d="M157.2,188.7 L154.8,191.8 L96.7,148.4 L100.4,143.6Z" fill="#788893"/><path d="M155.3,191.2 L153.0,194.3 L93.9,152.3 L97.5,147.4Z" fill="#788893"/><path d="M153.4,193.7 L151.2,196.9 L91.1,156.3 L94.6,151.4Z" fill="#788893"/><path d="M151.6,196.2 L149.5,199.5 L88.4,160.4 L91.8,155.3Z" fill="#788893"/><path d="M149.9,198.9 L147.8,202.2 L85.9,164.5 L89.1,159.4Z" fill="#788893"/><path d="M148.2,201.5 L146.2,204.9 L83.4,168.7 L86.5,163.5Z" fill="#788893"/><path d="M146.6,204.2 L144.7,207.6 L81.0,173.0 L84.0,167.7Z" fill="#788893"/><path d="M145.1,206.9 L143.2,210.4 L78.7,177.3 L81.6,171.9Z" fill="#788893"/><path d="M143.6,209.7 L141.8,213.2 L76.6,181.6 L79.3,176.2Z" fill="#788893"/><path d="M142.2,212.5 L140.5,216.0 L74.5,186.0 L77.1,180.5Z" fill="#788893"/><path d="M140.8,215.3 L139.2,218.9 L72.5,190.5 L75.0,184.9Z" fill="#788893"/><path d="M139.5,218.2 L138.0,221.8 L70.7,195.0 L73.0,189.4Z" fill="#788893"/><path d="M138.3,221.1 L136.9,224.7 L68.9,199.5 L71.1,193.9Z" fill="#788893"/><path d="M137.2,224.0 L135.9,227.7 L67.3,204.1 L69.4,198.4Z" fill="#788893"/><path d="M136.1,226.9 L134.9,230.6 L65.8,208.7 L67.7,203.0Z" fill="#788893"/><path d="M135.1,229.9 L134.0,233.6 L64.4,213.4 L66.1,207.6Z" fill="#788893"/><path d="M134.2,232.9 L133.1,236.7 L63.1,218.1 L64.7,212.2Z" fill="#788893"/><path d="M133.3,235.9 L132.4,239.7 L61.9,222.8 L63.4,216.9Z" fill="#778893"/><path d="M132.6,238.9 L131.7,242.8 L60.8,227.5 L62.2,221.6Z" fill="#778893"/><path d="M131.8,242.0 L131.1,245.8 L59.8,232.3 L61.0,226.3Z" fill="#778893"/><path d="M131.2,245.1 L130.5,248.9 L59.0,237.1 L60.1,231.1Z" fill="#778893"/><path d="M130.6,248.1 L130.0,252.0 L58.2,241.9 L59.2,235.9Z" fill="#778893"/><path d="M130.1,251.2 L129.6,255.1 L57.6,246.7 L58.4,240.7Z" fill="#778893"/><path d="M129.7,254.3 L129.3,258.2 L57.1,251.6 L57.8,245.5Z" fill="#778893"/><path d="M129.4,257.5 L129.1,261.4 L56.7,256.4 L57.2,250.4Z" fill="#778893"/><path d="M129.1,260.6 L128.9,264.5 L56.4,261.3 L56.8,255.2Z" fill="#778893"/><path d="M128.9,263.7 L128.8,267.6 L56.3,266.1 L56.5,260.1Z" fill="#778893"/><path d="M128.8,266.8 L128.8,270.8 L56.3,271.0 L56.3,264.9Z" fill="#778893"/><path d="M128.8,270.0 L128.8,273.9 L56.3,275.9 L56.3,269.8Z" fill="#768792"/><path d="M128.8,273.1 L128.9,277.0 L56.5,280.7 L56.3,274.7Z" fill="#768792"/><path d="M128.9,276.2 L129.1,280.1 L56.8,285.6 L56.5,279.5Z" fill="#758691"/><path d="M129.1,279.4 L129.4,283.3 L57.2,290.4 L56.7,284.4Z" fill="#748590"/><path d="M129.3,282.5 L129.7,286.4 L57.8,295.3 L57.1,289.2Z" fill="#73848f"/><path d="M129.6,285.6 L130.2,289.5 L58.4,300.1 L57.6,294.1Z" fill="#72838e"/><path d="M130.0,288.7 L130.7,292.6 L59.2,304.9 L58.3,298.9Z" fill="#71828e"/><path d="M130.5,291.8 L131.2,295.7 L60.1,309.7 L59.0,303.7Z" fill="#70818d"/><path d="M131.1,294.9 L131.9,298.7 L61.1,314.4 L59.9,308.5Z" fill="#6f818c"/><path d="M131.7,298.0 L132.6,301.8 L62.2,319.2 L60.8,313.3Z" fill="#6e808b"/><path d="M132.4,301.0 L133.4,304.8 L63.4,323.9 L61.9,318.0Z" fill="#6d7f8a"/><path d="M133.2,304.1 L134.2,307.8 L64.8,328.6 L63.1,322.7Z" fill="#6c7e89"/><path d="M134.0,307.1 L135.2,310.8 L66.2,333.2 L64.4,327.4Z" fill="#6c7d89"/><path d="M134.9,310.1 L136.2,313.8 L67.8,337.8 L65.8,332.1Z" fill="#6b7c88"/><path d="M135.9,313.1 L137.2,316.7 L69.4,342.4 L67.4,336.7Z" fill="#6a7b87"/><path d="M137.0,316.0 L138.4,319.7 L71.2,346.9 L69.0,341.3Z" fill="#697a86"/><path d="M138.1,318.9 L139.6,322.6 L73.1,351.4 L70.8,345.8Z" fill="#687a85"/><path d="M139.3,321.8 L140.9,325.4 L75.1,355.9 L72.6,350.3Z" fill="#677984"/><path d="M140.6,324.7 L142.2,328.2 L77.2,360.2 L74.6,354.7Z" fill="#667884"/><path d="M141.9,327.5 L143.6,331.0 L79.4,364.6 L76.6,359.2Z" fill="#657783"/><path d="M143.3,330.3 L145.1,333.8 L81.7,368.9 L78.8,363.5Z" fill="#647682"/><path d="M144.8,333.1 L146.7,336.5 L84.1,373.1 L81.1,367.8Z" fill="#637581"/><path d="M146.3,335.8 L148.3,339.2 L86.6,377.3 L83.5,372.0Z" fill="#637480"/><path d="M147.9,338.5 L150.0,341.9 L89.2,381.4 L86.0,376.2Z" fill="#62737f"/><path d="M149.5,341.2 L151.7,344.5 L91.9,385.4 L88.5,380.4Z" fill="#61737f"/><path d="M151.3,343.8 L153.5,347.0 L94.7,389.4 L91.2,384.4Z" fill="#60727e"/><path d="M153.1,346.4 L155.4,349.5 L97.6,393.3 L94.0,388.4Z" fill="#5f717d"/><path d="M154.9,348.9 L157.3,352.0 L100.6,397.2 L96.9,392.4Z" fill="#5e707c"/><path d="M156.8,351.4 L159.3,354.5 L103.6,400.9 L99.8,396.2Z" fill="#5e707c"/><path d="M158.8,353.8 L161.3,356.8 L106.8,404.6 L102.9,400.0Z" fill="#5d6f7b"/><path d="M160.8,356.2 L163.4,359.2 L110.1,408.3 L106.0,403.7Z" fill="#5c6e7a"/><path d="M162.9,358.6 L165.6,361.4 L113.4,411.8 L109.2,407.4Z" fill="#5c6e7a"/><path d="M165.0,360.9 L167.8,363.7 L116.8,415.3 L112.6,410.9Z" fill="#5b6d79"/><path d="M167.2,363.1 L170.0,365.9 L120.3,418.6 L116.0,414.4Z" fill="#5a6c79"/><path d="M169.5,365.3 L172.3,368.0 L123.9,421.9 L119.4,417.8Z" fill="#5a6c78"/><path d="M171.7,367.4 L174.7,370.0 L127.6,425.1 L123.0,421.1Z" fill="#596b77"/><path d="M174.1,369.5 L177.1,372.0 L131.3,428.3 L126.6,424.3Z" fill="#596b77"/><path d="M176.5,371.6 L179.5,374.0 L135.1,431.3 L130.4,427.5Z" fill="#586a76"/><path d="M178.9,373.5 L182.0,375.9 L139.0,434.2 L134.1,430.5Z" fill="#576976"/><path d="M181.4,375.4 L184.6,377.7 L142.9,437.1 L138.0,433.5Z" fill="#576975"/><path d="M183.9,377.3 L187.2,379.5 L146.9,439.8 L141.9,436.4Z" fill="#566874"/><path d="M186.5,379.1 L189.8,381.2 L151.0,442.5 L145.9,439.1Z" fill="#556774"/><path d="M189.1,380.8 L192.5,382.8 L155.2,445.0 L150.0,441.8Z" fill="#556773"/><path d="M191.8,382.4 L195.2,384.4 L159.4,447.5 L154.1,444.4Z" fill="#546673"/><path d="M194.5,384.0 L197.9,385.9 L163.6,449.8 L158.3,446.9Z" fill="#536572"/><path d="M197.2,385.6 L200.7,387.4 L167.9,452.1 L162.6,449.2Z" fill="#536571"/><path d="M200.0,387.0 L203.5,388.8 L172.3,454.2 L166.9,451.5Z" fill="#526471"/><path d="M202.8,388.4 L206.4,390.1 L176.7,456.3 L171.2,453.7Z" fill="#526470"/><path d="M205.6,389.8 L209.2,391.3 L181.2,458.2 L175.6,455.8Z" fill="#51636f"/><path d="M208.5,391.0 L212.1,392.5 L185.7,460.0 L180.1,457.7Z" fill="#50626f"/><path d="M211.4,392.2 L215.1,393.6 L190.2,461.7 L184.6,459.6Z" fill="#50626e"/><path d="M214.3,393.3 L218.0,394.7 L194.8,463.3 L189.1,461.3Z" fill="#4f616e"/><path d="M217.3,394.4 L221.0,395.6 L199.5,464.9 L193.7,463.0Z" fill="#4e606d"/><path d="M220.3,395.4 L224.0,396.5 L204.1,466.2 L198.3,464.5Z" fill="#4e606c"/><path d="M223.3,396.3 L227.0,397.3 L208.8,467.5 L203.0,465.9Z" fill="#4d5f6c"/><path d="M226.3,397.1 L230.1,398.1 L213.5,468.7 L207.6,467.2Z" fill="#4c5e6b"/><path d="M229.3,397.9 L233.1,398.8 L218.3,469.7 L212.4,468.4Z" fill="#4c5e6b"/><path d="M232.4,398.6 L236.2,399.4 L223.1,470.7 L217.1,469.5Z" fill="#4b5d6a"/><path d="M235.4,399.2 L239.3,399.9 L227.9,471.5 L221.9,470.5Z" fill="#4b5d69"/><path d="M238.5,399.8 L242.4,400.4 L232.7,472.2 L226.7,471.3Z" fill="#4a5c69"/><path d="M241.6,400.3 L245.5,400.7 L237.5,472.8 L231.5,472.0Z" fill="#495b68"/><path d="M244.7,400.7 L248.6,401.1 L242.4,473.3 L236.3,472.7Z" fill="#495b68"/><path d="M247.9,401.0 L251.8,401.3 L247.2,473.6 L241.1,473.2Z" fill="#485a67"/><path d="M251.0,401.2 L254.9,401.5 L252.1,473.9 L246.0,473.6Z" fill="#475966"/><path d="M254.1,401.4 L258.0,401.5 L256.9,474.0 L250.8,473.8Z" fill="#475966"/><path d="M257.2,401.5 L261.2,401.5 L261.8,474.0 L255.7,474.0Z" fill="#465865"/><path d="M260.4,401.5 L264.3,401.5 L266.7,473.9 L260.6,474.0Z" fill="#465865"/><path d="M263.5,401.5 L267.4,401.3 L271.5,473.7 L265.4,474.0Z" fill="#465865"/><path d="M266.6,401.4 L270.5,401.1 L276.4,473.4 L270.3,473.8Z" fill="#465865"/><path d="M269.8,401.2 L273.7,400.8 L281.2,472.9 L275.2,473.5Z" fill="#465865"/><path d="M272.9,400.9 L276.8,400.5 L286.0,472.4 L280.0,473.1Z" fill="#465865"/><path d="M276.0,400.6 L279.9,400.0 L290.9,471.7 L284.8,472.5Z" fill="#465865"/><path d="M279.1,400.2 L283.0,399.5 L295.7,470.9 L289.7,471.9Z" fill="#465865"/><path d="M282.2,399.7 L286.1,398.9 L300.4,470.0 L294.5,471.1Z" fill="#465865"/><path d="M285.3,399.1 L289.1,398.3 L305.2,469.0 L299.3,470.2Z" fill="#465866"/><path d="M288.4,398.5 L292.2,397.5 L309.9,467.8 L304.0,469.2Z" fill="#465866"/><path d="M291.4,397.7 L295.2,396.7 L314.6,466.6 L308.8,468.1Z" fill="#465866"/><path d="M294.4,397.0 L298.2,395.9 L319.3,465.2 L313.5,466.9Z" fill="#465866"/><path d="M297.5,396.1 L301.2,394.9 L323.9,463.8 L318.1,465.6Z" fill="#465866"/><path d="M300.4,395.2 L304.2,393.9 L328.5,462.2 L322.8,464.1Z" fill="#465866"/><path d="M303.4,394.2 L307.1,392.8 L333.1,460.5 L327.4,462.6Z" fill="#465866"/><path d="M306.4,393.1 L310.0,391.7 L337.6,458.7 L332.0,460.9Z" fill="#465866"/><path d="M309.3,391.9 L312.9,390.4 L342.1,456.8 L336.5,459.1Z" fill="#465966"/><path d="M312.2,390.7 L315.7,389.1 L346.5,454.8 L341.0,457.3Z" fill="#465966"/><path d="M315.0,389.5 L318.6,387.8 L350.9,452.6 L345.4,455.3Z" fill="#465966"/><path d="M317.9,388.1 L321.4,386.3 L355.2,450.4 L349.8,453.2Z" fill="#465966"/><path d="M320.7,386.7 L324.1,384.8 L359.5,448.1 L354.2,451.0Z" fill="#465966"/><path d="M323.4,385.2 L326.8,383.3 L363.7,445.7 L358.5,448.7Z" fill="#465966"/><path d="M326.1,383.7 L329.5,381.6 L367.9,443.1 L362.7,446.3Z" fill="#465966"/><path d="M328.8,382.1 L332.1,379.9 L372.0,440.5 L366.9,443.8Z" fill="#465967"/><path d="M331.5,380.4 L334.7,378.2 L376.0,437.8 L371.0,441.2Z" fill="#465967"/><path d="M334.1,378.6 L337.3,376.4 L380.0,435.0 L375.0,438.5Z" fill="#465967"/><path d="M336.7,376.8 L339.8,374.5 L383.9,432.1 L379.0,435.7Z" fill="#465967"/><path d="M339.2,375.0 L342.3,372.6 L387.7,429.1 L382.9,432.8Z" fill="#465967"/><path d="M341.7,373.1 L344.7,370.6 L391.5,426.0 L386.8,429.8Z" fill="#465967"/><path d="M344.1,371.1 L347.1,368.5 L395.1,422.8 L390.5,426.7Z" fill="#465967"/><path d="M346.5,369.0 L349.4,366.4 L398.7,419.5 L394.2,423.6Z" fill="#465967"/><path d="M348.8,366.9 L352.1,363.8 L401.8,416.6 L397.9,420.3Z" fill="#465967"/><path d="M351.4,364.5 L355.0,361.1 L404.7,413.9 L401.1,417.3Z" fill="#465967"/><path d="M354.3,361.8 L358.0,358.3 L407.6,411.1 L404.0,414.6Z" fill="#465967"/><path d="M357.2,359.0 L360.9,355.6 L410.6,408.4 L406.9,411.8Z" fill="#455867"/><path d="M360.1,356.3 L363.8,352.9 L413.5,405.7 L409.8,409.1Z" fill="#455867"/><path d="M363.1,353.5 L366.7,350.1 L416.4,402.9 L412.7,406.3Z" fill="#455867"/><path d="M366.0,350.8 L369.6,347.4 L419.3,400.2 L415.7,403.6Z" fill="#455867"/><path d="M368.9,348.1 L372.5,344.6 L422.2,397.4 L418.6,400.9Z" fill="#455867"/><path d="M371.8,345.3 L375.4,341.9 L425.1,394.7 L421.5,398.1Z" fill="#455867"/><path d="M374.7,342.6 L378.3,339.2 L428.0,391.9 L424.4,395.4Z" fill="#445767"/><path d="M377.6,339.8 L381.3,336.4 L431.0,389.2 L427.3,392.6Z" fill="#445767"/><path d="M380.5,337.1 L384.2,333.7 L433.9,386.5 L430.2,389.9Z" fill="#445767"/><path d="M383.4,334.4 L387.1,330.9 L436.8,383.7 L433.1,387.1Z" fill="#425666"/><path d="M386.4,331.6 L390.0,328.2 L439.7,381.0 L436.0,384.4Z" fill="#405464"/><path d="M389.3,328.9 L392.9,325.4 L442.6,378.2 L439.0,381.7Z" fill="#3e5263"/><path d="M392.2,326.1 L395.8,322.7 L445.5,375.5 L441.9,378.9Z" fill="#3c5061"/><path d="M395.1,323.4 L398.7,320.0 L448.4,372.8 L444.8,376.2Z" fill="#3a4f60"/><path d="M398.0,320.6 L401.6,317.2 L451.3,370.0 L447.7,373.4Z" fill="#384d5e"/><path d="M400.9,317.9 L404.6,314.5 L454.3,367.3 L450.6,370.7Z" fill="#364b5d"/><path d="M403.8,315.2 L407.5,311.7 L457.2,364.5 L453.5,368.0Z" fill="#344a5b"/><path d="M406.7,312.4 L410.4,309.0 L460.1,361.8 L456.4,365.2Z" fill="#32485a"/><path d="M409.7,309.7 L413.3,306.3 L463.0,359.0 L459.3,362.5Z" fill="#304658"/><path d="M412.6,306.9 L416.2,303.5 L465.9,356.3 L462.3,359.7Z" fill="#2e4557"/><path d="M415.5,304.2 L419.1,300.8 L468.8,353.6 L465.2,357.0Z" fill="#2c4355"/><path d="M418.4,301.5 L422.0,298.0 L471.7,350.8 L468.1,354.2Z" fill="#2b4254"/><path d="M421.3,298.7 L425.0,295.3 L474.6,348.1 L471.0,351.5Z" fill="#2a4153"/><path d="M424.2,296.0 L427.9,292.5 L477.6,345.3 L473.9,348.8Z" fill="#283f52"/><path d="M427.1,293.2 L430.8,289.8 L480.5,342.6 L476.8,346.0Z" fill="#273e50"/><path d="M430.0,290.5 L433.7,287.1 L483.4,339.9 L479.7,343.3Z" fill="#263d4f"/><path d="M433.0,287.7 L436.6,284.3 L486.3,337.1 L482.7,340.5Z" fill="#243b4e"/><path d="M435.9,285.0 L439.5,281.6 L489.2,334.4 L485.6,337.8Z" fill="#233a4d"/><path d="M438.8,282.3 L442.4,278.8 L492.1,331.6 L488.5,335.1Z" fill="#22394c"/><path d="M441.7,279.5 L445.3,276.1 L495.0,328.9 L491.4,332.3Z" fill="#20374a"/><path d="M444.6,276.8 L448.3,273.4 L497.9,326.1 L494.3,329.6Z" fill="#20374a"/><path d="M447.5,274.0 L451.2,270.6 L500.9,323.4 L497.2,326.8Z" fill="#20374a"/><path d="M450.4,271.3 L454.1,267.9 L503.8,320.7 L500.1,324.1Z" fill="#1f3649"/><path d="M453.3,268.6 L457.0,265.1 L506.7,317.9 L503.0,321.3Z" fill="#1f3649"/><path d="M456.3,265.8 L459.9,262.4 L509.6,315.2 L506.0,318.6Z" fill="#1f3649"/><path d="M459.2,263.1 L462.8,259.6 L512.5,312.4 L508.9,315.9Z" fill="#1e3648"/><path d="M462.1,260.3 L465.7,256.9 L515.4,309.7 L511.8,313.1Z" fill="#1e3548"/><path d="M465.0,257.6 L468.6,254.2 L518.3,307.0 L514.7,310.4Z" fill="#1e3548"/><path d="M467.9,254.8 L471.6,251.4 L521.2,304.2 L517.6,307.6Z" fill="#1e3649"/><path d="M470.8,252.1 L474.5,248.7 L524.2,301.5 L520.5,304.9Z" fill="#1f3649"/><path d="M473.7,249.4 L477.4,245.9 L527.1,298.7 L523.4,302.2Z" fill="#1f3649"/><path d="M476.7,246.6 L480.3,243.2 L530.0,296.0 L526.3,299.4Z" fill="#1f374a"/><path d="M479.6,243.9 L483.2,240.5 L532.9,293.2 L529.3,296.7Z" fill="#20374a"/><path d="M482.5,241.1 L486.1,237.7 L535.8,290.5 L532.2,293.9Z" fill="#20384b"/><path d="M485.4,238.4 L489.0,235.0 L538.7,287.8 L535.1,291.2Z" fill="#20384b"/><path d="M488.3,235.7 L491.9,232.2 L541.6,285.0 L538.0,288.5Z" fill="#21394c"/><path d="M491.2,232.9 L494.9,229.5 L544.5,282.3 L540.9,285.7Z" fill="#21394c"/><path d="M494.1,230.2 L497.8,226.7 L547.5,279.5 L543.8,283.0Z" fill="#223a4d"/><path d="M497.0,227.4 L500.7,224.0 L550.4,276.8 L546.7,280.2Z" fill="#233b4e"/><path d="M500.0,224.7 L503.6,221.3 L553.3,274.1 L549.6,277.5Z" fill="#243b4e"/><path d="M502.9,222.0 L506.5,218.5 L556.2,271.3 L552.6,274.7Z" fill="#253c4f"/><path d="M505.8,219.2 L509.4,215.8 L559.1,268.6 L555.5,272.0Z" fill="#263d50"/><path d="M508.7,216.5 L512.3,213.0 L562.0,265.8 L558.4,269.3Z" fill="#273d50"/><path d="M511.6,213.7 L515.2,210.3 L564.9,263.1 L561.3,266.5Z" fill="#283e51"/><path d="M514.5,211.0 L518.2,207.6 L567.8,260.4 L564.2,263.8Z" fill="#293f52"/><path d="M517.4,208.2 L521.1,204.8 L570.8,257.6 L567.1,261.0Z" fill="#2a4052"/><path d="M520.3,205.5 L524.0,202.1 L573.7,254.9 L570.0,258.3Z" fill="#2b4053"/><path d="M523.3,202.8 L526.9,199.3 L576.6,252.1 L572.9,255.6Z" fill="#2c4154"/><path d="M526.2,200.0 L529.8,196.6 L579.5,249.4 L575.9,252.8Z" fill="#2d4255"/><path d="M529.1,197.3 L532.7,193.8 L582.4,246.6 L578.8,250.1Z" fill="#2d4355"/><path d="M532.0,194.5 L535.6,191.1 L585.3,243.9 L581.7,247.3Z" fill="#2e4456"/><path d="M534.9,191.8 L538.5,188.4 L588.2,241.2 L584.6,244.6Z" fill="#2f4557"/><path d="M537.8,189.1 L541.5,185.6 L591.2,238.4 L587.5,241.8Z" fill="#304658"/><path d="M540.7,186.3 L544.4,182.9 L594.1,235.7 L590.4,239.1Z" fill="#314758"/><path d="M543.6,183.6 L547.3,180.1 L597.0,232.9 L593.3,236.4Z" fill="#324859"/><path d="M546.6,180.8 L550.2,177.4 L599.9,230.2 L596.2,233.6Z" fill="#33495a"/><path d="M549.5,178.1 L553.1,174.7 L602.8,227.5 L599.2,230.9Z" fill="#344a5b"/><path d="M552.4,175.3 L556.0,171.9 L605.7,224.7 L602.1,228.1Z" fill="#354b5b"/><path d="M555.3,172.6 L558.9,169.2 L608.6,222.0 L605.0,225.4Z" fill="#364b5c"/><path d="M558.2,169.9 L561.8,166.4 L611.5,219.2 L607.9,222.7Z" fill="#374c5d"/><path d="M561.1,167.1 L564.8,163.7 L614.5,216.5 L610.8,219.9Z" fill="#384d5e"/><path d="M564.0,164.4 L567.7,161.0 L617.4,213.7 L613.7,217.2Z" fill="#394e5e"/><path d="M566.9,161.6 L570.6,158.2 L620.3,211.0 L616.6,214.4Z" fill="#3a4f5f"/><path d="M569.9,158.9 L573.5,155.5 L623.2,208.3 L619.5,211.7Z" fill="#3a4f5f"/><path d="M572.8,156.2 L576.4,152.7 L626.1,205.5 L622.5,208.9Z" fill="#3b4f5f"/><path d="M575.7,153.4 L579.3,150.0 L629.0,202.8 L625.4,206.2Z" fill="#3b5060"/><path d="M578.6,150.7 L582.2,147.2 L631.9,200.0 L628.3,203.5Z" fill="#3b5060"/><path d="M581.5,147.9 L585.2,144.5 L634.8,197.3 L631.2,200.7Z" fill="#3c5060"/><path d="M584.4,145.2 L588.1,141.8 L637.8,194.6 L634.1,198.0Z" fill="#3c5060"/><path d="M587.3,142.4 L591.0,139.0 L640.7,191.8 L637.0,195.2Z" fill="#3c5161"/><path d="M590.2,139.7 L593.9,136.3 L643.6,189.1 L639.9,192.5Z" fill="#3c5161"/><path d="M593.2,137.0 L596.8,133.5 L646.5,186.3 L642.9,189.8Z" fill="#3d5161"/><path d="M596.1,134.2 L599.7,130.8 L649.4,183.6 L645.8,187.0Z" fill="#3d5161"/><path d="M599.0,131.5 L602.6,128.1 L652.3,180.8 L648.7,184.3Z" fill="#3d5161"/><path d="M601.9,128.7 L605.5,125.3 L655.2,178.1 L651.6,181.5Z" fill="#3e5262"/><path d="M604.8,126.0 L608.6,122.4 L658.0,175.5 L654.5,178.8Z" fill="#3e5262"/><path d="M607.7,123.3 L612.2,119.2 L660.3,173.4 L657.4,176.0Z" fill="#3e5262"/><path d="M611.3,120.0 L615.9,116.0 L662.7,171.3 L659.7,173.9Z" fill="#3e5262"/><path d="M614.9,116.8 L619.6,112.9 L665.1,169.3 L662.1,171.8Z" fill="#3e5262"/><path d="M618.7,113.7 L623.4,109.9 L667.6,167.4 L664.5,169.8Z" fill="#3e5262"/><path d="M622.5,110.6 L627.3,107.0 L670.1,165.5 L667.0,167.9Z" fill="#3d5262"/><path d="M626.3,107.7 L631.3,104.1 L672.6,163.7 L669.5,166.0Z" fill="#3d5262"/><path d="M630.3,104.8 L635.3,101.4 L675.2,161.9 L672.0,164.1Z" fill="#3d5262"/><path d="M634.3,102.1 L639.4,98.8 L677.9,160.2 L674.6,162.4Z" fill="#3d5262"/><path d="M638.4,99.4 L643.6,96.3 L680.6,158.6 L677.2,160.7Z" fill="#3d5161"/><path d="M642.5,96.9 L647.8,93.8 L683.3,157.0 L679.9,159.0Z" fill="#3d5161"/><path d="M646.7,94.4 L652.1,91.5 L686.0,155.5 L682.6,157.4Z" fill="#3d5161"/><path d="M651.0,92.1 L656.4,89.3 L688.8,154.1 L685.3,155.9Z" fill="#3d5161"/><path d="M655.3,89.8 L660.8,87.1 L691.6,152.7 L688.1,154.5Z" fill="#3c5161"/><path d="M659.7,87.7 L665.2,85.1 L694.5,151.4 L690.9,153.1Z" fill="#3c5161"/><path d="M664.1,85.6 L669.7,83.2 L697.4,150.2 L693.8,151.8Z" fill="#3c5161"/><path d="M668.5,83.7 L674.2,81.4 L700.3,149.0 L696.6,150.5Z" fill="#3c5161"/><path d="M673.0,81.8 L678.7,79.7 L703.2,148.0 L699.5,149.3Z" fill="#3c5161"/><path d="M677.6,80.1 L683.3,78.1 L706.2,146.9 L702.5,148.2Z" fill="#3c5161"/><path d="M682.2,78.5 L688.0,76.6 L709.2,146.0 L705.4,147.2Z" fill="#3b5060"/><path d="M686.8,77.0 L692.6,75.3 L712.2,145.1 L708.4,146.2Z" fill="#3b5060"/><path d="M691.5,75.6 L697.3,74.0 L715.2,144.3 L711.4,145.3Z" fill="#3b5060"/><path d="M696.2,74.3 L702.1,72.9 L718.2,143.6 L714.4,144.5Z" fill="#3b5060"/><path d="M700.9,73.2 L706.8,71.9 L721.3,142.9 L717.5,143.7Z" fill="#3a4f5f"/><path d="M705.6,72.1 L711.6,70.9 L724.4,142.3 L720.5,143.1Z" fill="#3a4f5f"/><path d="M710.4,71.2 L716.4,70.1 L727.5,141.8 L723.6,142.4Z" fill="#3a4f5f"/><path d="M715.2,70.3 L721.2,69.5 L730.6,141.3 L726.7,141.9Z" fill="#3a4f5f"/><path d="M720.0,69.6 L726.1,68.9 L733.7,141.0 L729.8,141.4Z" fill="#394e5e"/><path d="M724.8,69.0 L730.9,68.4 L736.8,140.7 L732.9,141.1Z" fill="#394e5e"/><path d="M729.7,68.5 L735.8,68.1 L739.9,140.5 L736.0,140.8Z" fill="#394e5e"/><path d="M734.5,68.2 L740.6,67.9 L743.1,140.3 L739.2,140.5Z" fill="#394e5e"/><path d="M739.4,67.9 L745.5,67.8 L746.2,140.3 L742.3,140.4Z" fill="#384d5d"/><path d="M744.3,67.8 L750.3,67.8 L749.3,140.3 L745.4,140.3Z" fill="#384d5d"/><path d="M749.1,67.8 L755.2,67.9 L752.5,140.3 L748.5,140.3Z" fill="#384d5d"/><path d="M754.0,67.9 L760.1,68.1 L755.6,140.5 L751.7,140.3Z" fill="#374c5d"/><path d="M758.9,68.1 L764.9,68.5 L758.7,140.7 L754.8,140.5Z" fill="#374c5c"/><path d="M763.7,68.4 L769.8,69.0 L761.8,141.0 L757.9,140.7Z" fill="#374c5c"/><path d="M768.6,68.8 L774.6,69.6 L765.0,141.4 L761.1,141.0Z" fill="#364b5c"/><path d="M773.4,69.4 L779.4,70.3 L768.1,141.9 L764.2,141.3Z" fill="#364b5b"/><path d="M778.2,70.1 L784.2,71.1 L771.1,142.4 L767.3,141.7Z" fill="#354b5b"/><path d="M783.0,70.9 L789.0,72.0 L774.2,143.0 L770.4,142.3Z" fill="#354b5b"/><path d="M787.8,71.8 L793.7,73.1 L777.3,143.7 L773.5,142.8Z" fill="#354a5b"/><path d="M792.5,72.8 L798.5,74.2 L780.3,144.4 L776.5,143.5Z" fill="#344a5a"/><path d="M797.3,73.9 L803.2,75.5 L783.3,145.2 L779.6,144.2Z" fill="#344a5a"/><path d="M802.0,75.2 L807.8,76.9 L786.4,146.1 L782.6,145.0Z" fill="#34495a"/><path d="M806.7,76.5 L812.4,78.4 L789.3,147.1 L785.6,145.9Z" fill="#33495a"/><path d="M811.3,78.0 L817.0,80.0 L792.3,148.1 L788.6,146.8Z" fill="#334959"/><path d="M815.9,79.6 L821.6,81.7 L795.2,149.2 L791.6,147.9Z" fill="#324859"/><path d="M820.5,81.3 L826.1,83.5 L798.1,150.4 L794.5,149.0Z" fill="#324859"/><path d="M825.0,83.1 L830.6,85.5 L801.0,151.7 L797.4,150.1Z" fill="#324859"/><path d="M829.5,85.0 L835.0,87.5 L803.9,153.0 L800.3,151.3Z" fill="#314758"/><path d="M833.9,87.0 L839.4,89.6 L806.7,154.3 L803.1,152.6Z" fill="#314758"/><path d="M838.3,89.1 L843.7,91.9 L809.5,155.8 L806.0,154.0Z" fill="#314758"/><path d="M842.6,91.3 L847.9,94.2 L812.2,157.3 L808.8,155.4Z" fill="#304658"/><path d="M846.9,93.6 L852.1,96.7 L814.9,158.9 L811.5,156.9Z" fill="#304657"/><path d="M851.1,96.1 L856.3,99.2 L817.6,160.5 L814.2,158.5Z" fill="#2f4657"/><path d="M855.3,98.6 L860.4,101.9 L820.2,162.2 L816.9,160.1Z" fill="#2f4557"/><path d="M859.4,101.2 L864.4,104.6 L822.8,164.0 L819.6,161.8Z" fill="#2f4557"/><path d="M863.4,103.9 L868.3,107.4 L825.3,165.8 L822.2,163.5Z" fill="#2e4556"/><path d="M867.4,106.7 L872.2,110.4 L827.8,167.7 L824.7,165.4Z" fill="#2e4456"/><path d="M871.3,109.6 L876.0,113.4 L830.3,169.7 L827.2,167.2Z" fill="#2e4456"/><path d="M875.1,112.6 L879.8,116.5 L832.7,171.7 L829.7,169.2Z" fill="#2d4456"/><path d="M878.8,115.7 L883.4,119.7 L835.1,173.7 L832.1,171.2Z" fill="#2d4455"/><path d="M882.5,118.9 L887.0,123.0 L837.4,175.8 L834.5,173.2Z" fill="#2c4355"/><path d="M886.1,122.2 L890.5,126.4 L839.6,178.0 L836.8,175.3Z" fill="#2c4355"/><path d="M889.7,125.5 L893.9,129.8 L841.8,180.2 L839.1,177.5Z" fill="#2c4354"/><path d="M893.1,129.0 L897.3,133.4 L844.0,182.5 L841.3,179.7Z" fill="#2b4254"/><path d="M896.5,132.5 L900.5,137.0 L846.1,184.9 L843.5,182.0Z" fill="#2b4254"/><path d="M899.7,136.1 L903.7,140.7 L848.1,187.2 L845.6,184.3Z" fill="#2b4254"/><path d="M902.9,139.8 L906.8,144.5 L850.1,189.7 L847.6,186.6Z" fill="#2b4254"/><path d="M906.0,143.5 L909.8,148.3 L852.0,192.1 L849.6,189.1Z" fill="#2a4253"/><path d="M909.0,147.3 L912.7,152.2 L853.9,194.7 L851.6,191.5Z" fill="#2a4153"/><path d="M912.0,151.2 L915.5,156.2 L855.7,197.2 L853.4,194.0Z" fill="#2a4153"/><path d="M914.8,155.2 L918.2,160.2 L857.4,199.8 L855.3,196.6Z" fill="#2a4153"/><path d="M917.5,159.2 L920.8,164.3 L859.1,202.5 L857.0,199.2Z" fill="#2a4153"/><path d="M920.1,163.3 L923.3,168.5 L860.7,205.2 L858.7,201.8Z" fill="#2a4153"/><path d="M922.7,167.5 L925.7,172.7 L862.3,207.9 L860.3,204.5Z" fill="#2a4153"/><path d="M925.1,171.7 L928.0,177.0 L863.8,210.6 L861.9,207.2Z" fill="#294152"/><path d="M927.4,175.9 L930.2,181.4 L865.2,213.4 L863.4,209.9Z" fill="#294152"/><path d="M929.7,180.3 L932.3,185.7 L866.6,216.3 L864.9,212.7Z" fill="#294052"/><path d="M931.8,184.6 L934.3,190.2 L867.8,219.1 L866.2,215.5Z" fill="#294052"/><path d="M933.8,189.1 L936.2,194.7 L869.1,222.0 L867.5,218.4Z" fill="#294052"/><path d="M935.7,193.5 L938.0,199.2 L870.2,224.9 L868.8,221.3Z" fill="#294052"/><path d="M937.6,198.1 L939.7,203.8 L871.3,227.9 L869.9,224.2Z" fill="#284051"/><path d="M939.3,202.6 L941.2,208.4 L872.3,230.8 L871.0,227.1Z" fill="#284051"/><path d="M940.8,207.2 L942.7,213.0 L873.2,233.8 L872.0,230.1Z" fill="#284051"/><path d="M942.3,211.8 L944.0,217.7 L874.1,236.8 L873.0,233.1Z" fill="#284051"/><path d="M943.7,216.5 L945.2,222.4 L874.9,239.9 L873.9,236.1Z" fill="#283f51"/><path d="M944.9,221.2 L946.4,227.1 L875.6,242.9 L874.7,239.1Z" fill="#283f51"/><path d="M946.1,225.9 L947.4,231.9 L876.2,246.0 L875.4,242.2Z" fill="#273f50"/><path d="M947.1,230.7 L948.3,236.7 L876.8,249.1 L876.1,245.2Z" fill="#273f50"/><path d="M948.0,235.5 L949.0,241.5 L877.3,252.2 L876.7,248.3Z" fill="#273f50"/><path d="M948.8,240.3 L949.7,246.3 L877.7,255.3 L877.2,251.4Z" fill="#273f50"/><path d="M949.5,245.1 L950.2,251.1 L878.1,258.4 L877.6,254.5Z" fill="#273f50"/><path d="M950.1,249.9 L950.7,256.0 L878.4,261.5 L878.0,257.6Z" fill="#273e50"/><path d="M950.6,254.8 L951.0,260.8 L878.6,264.6 L878.3,260.7Z" fill="#263e4f"/><path d="M950.9,259.6 L951.2,265.7 L878.7,267.8 L878.5,263.8Z" fill="#263e4f"/><path d="M951.1,264.5 L951.2,270.6 L878.7,270.9 L878.7,267.0Z" fill="#263e4f"/><path d="M951.2,269.3 L951.2,275.4 L878.7,274.0 L878.7,270.1Z" fill="#263e4f"/><path d="M951.2,274.2 L951.1,280.3 L878.6,277.2 L878.7,273.2Z" fill="#263e4f"/><path d="M951.1,279.1 L950.8,285.2 L878.5,280.3 L878.7,276.4Z" fill="#263e4f"/><path d="M950.9,283.9 L950.4,290.0 L878.2,283.4 L878.5,279.5Z" fill="#263e4f"/><path d="M950.5,288.8 L949.9,294.8 L877.9,286.5 L878.3,282.6Z" fill="#263e4f"/><path d="M950.0,293.6 L949.3,299.7 L877.5,289.6 L878.0,285.8Z" fill="#263e4f"/><path d="M949.5,298.5 L948.6,304.5 L877.0,292.7 L877.6,288.9Z" fill="#263e4f"/><path d="M948.8,303.3 L947.7,309.3 L876.5,295.8 L877.1,292.0Z" fill="#263e4f"/><path d="M947.9,308.1 L946.8,314.0 L875.9,298.9 L876.6,295.1Z" fill="#263e4f"/><path d="M947.0,312.8 L945.7,318.8 L875.2,302.0 L876.0,298.1Z" fill="#263e4f"/><path d="M946.0,317.6 L944.5,323.5 L874.4,305.0 L875.3,301.2Z" fill="#263e4f"/><path d="M944.8,322.3 L943.2,328.2 L873.6,308.0 L874.6,304.2Z" fill="#263e4f"/><path d="M943.5,327.0 L941.8,332.9 L872.7,311.0 L873.8,307.3Z" fill="#263e4f"/><path d="M942.2,331.7 L940.3,337.5 L871.7,314.0 L872.9,310.3Z" fill="#263e4f"/><path d="M940.7,336.3 L938.6,342.1 L870.6,317.0 L871.9,313.3Z" fill="#263e4f"/><path d="M939.1,340.9 L936.9,346.6 L869.5,319.9 L870.9,316.2Z" fill="#263e4f"/><path d="M937.3,345.5 L935.1,351.1 L868.3,322.8 L869.8,319.1Z" fill="#263e4f"/><path d="M935.5,350.0 L933.1,355.6 L867.1,325.6 L868.6,322.1Z" fill="#253d4e"/><path d="M933.6,354.4 L931.0,360.0 L865.7,328.5 L867.4,324.9Z" fill="#253d4e"/><path d="M931.6,358.9 L928.9,364.3 L864.3,331.3 L866.1,327.8Z" fill="#253d4e"/><path d="M929.4,363.2 L926.6,368.6 L862.9,334.1 L864.7,330.6Z" fill="#253d4e"/><path d="M927.2,367.6 L924.2,372.9 L861.4,336.8 L863.2,333.4Z" fill="#253d4e"/><path d="M924.8,371.8 L921.8,377.1 L859.8,339.5 L861.7,336.1Z" fill="#253d4e"/><path d="M922.4,376.0 L919.2,381.2 L858.1,342.2 L860.2,338.8Z" fill="#253d4e"/><path d="M919.8,380.2 L916.5,385.3 L856.4,344.8 L858.5,341.5Z" fill="#253d4e"/><path d="M917.2,384.3 L913.8,389.3 L854.6,347.4 L856.8,344.1Z" fill="#253d4e"/><path d="M914.5,388.3 L910.9,393.2 L852.8,349.9 L855.1,346.7Z" fill="#253d4e"/><path d="M911.6,392.2 L908.0,397.1 L850.9,352.4 L853.2,349.3Z" fill="#253d4e"/><path d="M908.7,396.1 L904.9,400.9 L848.9,354.8 L851.3,351.8Z" fill="#253d4e"/><path d="M905.7,399.9 L901.8,404.6 L846.9,357.2 L849.4,354.2Z" fill="#253d4e"/><path d="M902.6,403.7 L898.6,408.2 L844.8,359.6 L847.4,356.6Z" fill="#253d4e"/><path d="M899.4,407.3 L895.2,411.8 L842.7,361.9 L845.3,359.0Z" fill="#253d4e"/><path d="M896.1,410.9 L891.9,415.3 L840.5,364.1 L843.2,361.3Z" fill="#253d4e"/><path d="M892.7,414.4 L888.4,418.7 L838.2,366.3 L841.0,363.6Z" fill="#253d4e"/><path d="M889.3,417.9 L884.8,422.0 L836.0,368.5 L838.8,365.8Z" fill="#253d4e"/><path d="M885.7,421.2 L881.2,425.3 L833.6,370.5 L836.5,367.9Z" fill="#253d4e"/><path d="M882.1,424.5 L877.5,428.4 L831.2,372.6 L834.2,370.0Z" fill="#253d4e"/><path d="M878.4,427.6 L873.7,431.5 L828.8,374.5 L831.8,372.1Z" fill="#253d4e"/><path d="M874.6,430.7 L869.8,434.4 L826.3,376.5 L829.4,374.1Z" fill="#253d4e"/><path d="M870.8,433.7 L865.9,437.3 L823.8,378.3 L826.9,376.0Z" fill="#253d4e"/><path d="M866.9,436.6 L861.9,440.1 L821.2,380.1 L824.4,377.9Z" fill="#253d4e"/><path d="M862.9,439.4 L857.9,442.8 L818.6,381.8 L821.9,379.7Z" fill="#253d4e"/><path d="M858.9,442.1 L853.7,445.4 L815.9,383.5 L819.2,381.4Z" fill="#253d4e"/><path d="M854.8,444.7 L849.6,447.8 L813.2,385.1 L816.6,383.1Z" fill="#253d4e"/><path d="M850.6,447.2 L845.3,450.2 L810.5,386.6 L813.9,384.7Z" fill="#253d4e"/><path d="M846.4,449.6 L841.0,452.5 L807.7,388.1 L811.2,386.3Z" fill="#253d4e"/><path d="M842.1,452.0 L836.7,454.7 L804.9,389.5 L808.4,387.7Z" fill="#253d4e"/><path d="M837.8,454.2 L832.3,456.8 L802.1,390.8 L805.6,389.2Z" fill="#253d4e"/><path d="M833.4,456.3 L827.8,458.7 L799.2,392.1 L802.8,390.5Z" fill="#253d4e"/><path d="M828.9,458.3 L823.3,460.6 L796.3,393.3 L800.0,391.8Z" fill="#253d4e"/><path d="M824.5,460.2 L818.8,462.4 L793.4,394.5 L797.1,393.0Z" fill="#243c4d"/><path d="M819.9,461.9 L814.2,464.0 L790.5,395.5 L794.2,394.2Z" fill="#243c4d"/><path d="M815.4,463.6 L809.6,465.6 L787.5,396.5 L791.2,395.3Z" fill="#243c4d"/><path d="M810.8,465.2 L805.0,467.0 L784.5,397.4 L788.2,396.3Z" fill="#243c4d"/><path d="M806.1,466.6 L800.3,468.3 L781.5,398.3 L785.3,397.2Z" fill="#243c4d"/><path d="M801.4,468.0 L795.6,469.5 L778.5,399.0 L782.2,398.1Z" fill="#243c4d"/><path d="M796.7,469.2 L790.8,470.6 L775.4,399.8 L779.2,398.9Z" fill="#243c4d"/><path d="M792.0,470.3 L786.0,471.6 L772.3,400.4 L776.2,399.6Z" fill="#243c4d"/><path d="M787.2,471.3 L781.3,472.4 L769.2,400.9 L773.1,400.2Z" fill="#243c4d"/><path d="M782.5,472.2 L776.4,473.2 L766.1,401.4 L770.0,400.8Z" fill="#243c4d"/><path d="M777.7,473.0 L771.6,473.8 L763.0,401.8 L766.9,401.3Z" fill="#243c4d"/><path d="M772.8,473.7 L766.8,474.3 L759.9,402.2 L763.8,401.7Z" fill="#243c4d"/><path d="M768.0,474.2 L761.9,474.7 L756.8,402.4 L760.7,402.1Z" fill="#243c4d"/><path d="M763.1,474.6 L757.1,475.0 L753.7,402.6 L757.6,402.4Z" fill="#243c4d"/><path d="M758.3,475.0 L752.2,475.2 L750.5,402.7 L754.5,402.6Z" fill="#243c4d"/><path d="M753.4,475.2 L747.4,475.2 L747.4,402.7 L751.3,402.7Z" fill="#243c4d"/><path d="M748.6,475.2 L742.5,475.2 L744.3,402.7 L748.2,402.7Z" fill="#243c4d"/><path d="M743.7,475.2 L737.6,475.0 L741.1,402.6 L745.1,402.7Z" fill="#243c4d"/><path d="M738.8,475.1 L732.8,474.7 L738.0,402.4 L741.9,402.6Z" fill="#243c4d"/><path d="M734.0,474.8 L727.9,474.3 L734.9,402.1 L738.8,402.5Z" fill="#243c4d"/><path d="M729.1,474.4 L723.1,473.8 L731.8,401.8 L735.7,402.2Z" fill="#243c4d"/><path d="M724.3,473.9 L718.3,473.1 L728.7,401.4 L732.5,401.9Z" fill="#243c4d"/><path d="M719.5,473.3 L713.5,472.4 L725.6,400.9 L729.4,401.5Z" fill="#243c4d"/><path d="M714.7,472.6 L708.7,471.5 L722.5,400.3 L726.3,401.0Z" fill="#243c4d"/><path d="M709.9,471.7 L703.9,470.5 L719.4,399.7 L723.3,400.5Z" fill="#243c4d"/><path d="M705.1,470.8 L699.2,469.4 L716.4,399.0 L720.2,399.9Z" fill="#243c4d"/><path d="M700.3,469.7 L694.4,468.2 L713.3,398.2 L717.1,399.2Z" fill="#243c4d"/><path d="M695.6,468.5 L689.8,466.9 L710.3,397.4 L714.1,398.4Z" fill="#243c4d"/><path d="M690.9,467.2 L685.1,465.5 L707.3,396.4 L711.1,397.6Z" fill="#243c4d"/><path d="M686.3,465.8 L680.5,463.9 L704.3,395.5 L708.1,396.7Z" fill="#243c4d"/><path d="M681.7,464.3 L675.9,462.3 L701.4,394.4 L705.1,395.7Z" fill="#243c4d"/><path d="M677.1,462.7 L671.4,460.5 L698.5,393.2 L702.1,394.7Z" fill="#243c4d"/><path d="M672.5,461.0 L666.9,458.6 L695.6,392.0 L699.2,393.5Z" fill="#253d4e"/><path d="M668.0,459.1 L662.5,456.7 L692.7,390.8 L696.3,392.4Z" fill="#253d4e"/><path d="M663.6,457.2 L658.1,454.6 L689.9,389.4 L693.4,391.1Z" fill="#253d4e"/><path d="M659.2,455.1 L653.7,452.4 L687.1,388.0 L690.6,389.8Z" fill="#253d4e"/><path d="M654.8,452.9 L649.4,450.1 L684.3,386.5 L687.8,388.4Z" fill="#253d4e"/><path d="M650.5,450.7 L645.2,447.7 L681.6,385.0 L685.0,386.9Z" fill="#253d4e"/><path d="M646.2,448.3 L641.0,445.2 L678.9,383.4 L682.3,385.4Z" fill="#253d4e"/><path d="M642.0,445.8 L636.9,442.6 L676.2,381.7 L679.6,383.8Z" fill="#253d4e"/><path d="M637.9,443.3 L632.8,439.9 L673.6,380.0 L676.9,382.1Z" fill="#253d4e"/><path d="M633.8,440.6 L628.8,437.1 L671.1,378.2 L674.3,380.4Z" fill="#253d4e"/><path d="M629.8,437.8 L624.9,434.3 L668.5,376.3 L671.7,378.7Z" fill="#253d4e"/><path d="M625.9,435.0 L621.1,431.3 L666.1,374.4 L669.2,376.8Z" fill="#253d4e"/><path d="M622.0,432.0 L617.3,428.2 L663.6,372.5 L666.7,374.9Z" fill="#253d4e"/><path d="M618.2,429.0 L613.6,425.1 L661.2,370.4 L664.2,373.0Z" fill="#253d4e"/><path d="M614.5,425.9 L610.0,421.8 L658.9,368.3 L661.8,370.9Z" fill="#253d4e"/><path d="M610.9,422.6 L606.5,418.6 L656.5,366.1 L659.5,368.9Z" fill="#253d4e"/><path d="M607.3,419.3 L603.6,415.9 L653.6,363.3 L657.2,366.7Z" fill="#253d4e"/><path d="M604.4,416.6 L600.7,413.1 L650.7,360.6 L654.3,364.0Z" fill="#263d4e"/><path d="M601.5,413.8 L597.8,410.4 L647.8,357.8 L651.4,361.2Z" fill="#263e4f"/><path d="M598.6,411.0 L594.9,407.6 L644.9,355.0 L648.5,358.5Z" fill="#263e4f"/><path d="M595.7,408.3 L592.0,404.8 L642.0,352.3 L645.6,355.7Z" fill="#273e4f"/><path d="M592.8,405.5 L589.1,402.1 L639.1,349.5 L642.7,353.0Z" fill="#273f50"/><path d="M589.9,402.8 L586.2,399.3 L636.2,346.8 L639.8,350.2Z" fill="#273f50"/><path d="M587.0,400.0 L583.3,396.6 L633.3,344.0 L636.9,347.5Z" fill="#273f50"/><path d="M584.1,397.3 L580.4,393.8 L630.4,341.3 L634.0,344.7Z" fill="#283f50"/><path d="M581.2,394.5 L577.5,391.1 L627.5,338.5 L631.1,342.0Z" fill="#284051"/><path d="M578.3,391.7 L574.6,388.3 L624.6,335.8 L628.2,339.2Z" fill="#284051"/><path d="M575.4,389.0 L571.7,385.5 L621.7,333.0 L625.3,336.4Z" fill="#294051"/><path d="M572.5,386.2 L568.8,382.8 L618.8,330.2 L622.4,333.7Z" fill="#294152"/><path d="M569.6,383.5 L565.9,380.0 L615.9,327.5 L619.5,330.9Z" fill="#294152"/><path d="M566.7,380.7 L563.0,377.3 L613.0,324.7 L616.6,328.2Z" fill="#2a4152"/><path d="M563.8,378.0 L561.5,375.8 L611.4,323.2 L613.7,325.4Z" fill="#2a4152"/>
</g>
<clipPath id="b3"><path d="M381.1,340.6 L384.1,337.9 L387.0,335.1 L389.9,332.4 L392.9,329.6 L395.8,326.8 L398.8,324.1 L401.7,321.3 L404.6,318.5 L407.6,315.8 L410.5,313.0 L413.4,310.2 L416.4,307.5 L419.3,304.7 L422.2,302.0 L425.2,299.2 L428.1,296.4 L431.1,293.7 L434.0,290.9 L436.9,288.1 L439.9,285.4 L442.8,282.6 L445.7,279.8 L448.7,277.1 L451.6,274.3 L454.5,271.6 L457.5,268.8 L460.4,266.0 L463.3,263.3 L466.3,260.5 L469.2,257.7 L472.2,255.0 L475.1,252.2 L478.0,249.5 L481.0,246.7 L483.9,243.9 L486.8,241.2 L489.8,238.4 L492.7,235.6 L495.6,232.9 L498.6,230.1 L501.5,227.3 L504.4,224.6 L507.4,221.8 L510.3,219.1 L513.3,216.3 L516.2,213.5 L519.1,210.8 L522.1,208.0 L525.0,205.2 L527.9,202.5 L530.9,199.7 L533.8,196.9 L536.7,194.2 L539.7,191.4 L542.6,188.7 L545.6,185.9 L548.5,183.1 L551.4,180.4 L554.4,177.6 L557.3,174.8 L560.2,172.1 L563.2,169.3 L566.1,166.6 L569.0,163.8 L572.0,161.0 L574.9,158.3 L577.8,155.5 L580.8,152.7 L626.4,201.2 L623.4,203.9 L620.5,206.7 L617.6,209.4 L614.6,212.2 L611.7,215.0 L608.7,217.7 L605.8,220.5 L602.9,223.3 L599.9,226.0 L597.0,228.8 L594.1,231.6 L591.1,234.3 L588.2,237.1 L585.3,239.8 L582.3,242.6 L579.4,245.4 L576.4,248.1 L573.5,250.9 L570.6,253.7 L567.6,256.4 L564.7,259.2 L561.8,262.0 L558.8,264.7 L555.9,267.5 L553.0,270.2 L550.0,273.0 L547.1,275.8 L544.2,278.5 L541.2,281.3 L538.3,284.1 L535.3,286.8 L532.4,289.6 L529.5,292.3 L526.5,295.1 L523.6,297.9 L520.7,300.6 L517.7,303.4 L514.8,306.2 L511.9,308.9 L508.9,311.7 L506.0,314.5 L503.1,317.2 L500.1,320.0 L497.2,322.7 L494.2,325.5 L491.3,328.3 L488.4,331.0 L485.4,333.8 L482.5,336.6 L479.6,339.3 L476.6,342.1 L473.7,344.9 L470.8,347.6 L467.8,350.4 L464.9,353.1 L461.9,355.9 L459.0,358.7 L456.1,361.4 L453.1,364.2 L450.2,367.0 L447.3,369.7 L444.3,372.5 L441.4,375.2 L438.5,378.0 L435.5,380.8 L432.6,383.5 L429.7,386.3 L426.7,389.1Z"/></clipPath>
<g clip-path="url(#b3)"><path d="M664.1,416.8 L651.9,409.0 L640.4,400.3 L629.6,390.5 L619.1,380.6 L608.6,370.6 L598.2,360.6 L587.7,350.7 L577.2,340.7 L566.7,330.7 L556.2,320.8 L545.7,310.8 L535.2,300.8 L524.7,290.8 L514.2,280.9 L503.7,270.9 L493.3,260.9 L482.8,251.0 L472.3,241.0 L461.8,231.0 L451.3,221.0 L440.8,211.1 L430.3,201.1 L419.8,191.1 L409.3,181.2 L398.9,171.2 L388.4,161.2 L377.9,151.3 L367.1,141.5 L355.6,132.8 L343.4,125.0" fill="none" stroke="#06121e" stroke-opacity="0.6" stroke-width="66.5" filter="url(#sh2)" transform="translate(0,3)"/></g>
<g clip-path="url(#b2)">
<path d="M632.6,439.8 L627.7,436.3 L670.3,377.7 L673.5,379.9Z" fill="#253d4e"/><path d="M628.7,437.0 L623.8,433.4 L667.8,375.8 L670.9,378.1Z" fill="#253d4e"/><path d="M624.7,434.1 L619.9,430.4 L665.3,373.8 L668.4,376.3Z" fill="#253d4e"/><path d="M620.9,431.1 L616.2,427.3 L662.9,371.9 L665.9,374.3Z" fill="#253d4e"/><path d="M617.1,428.1 L612.5,424.1 L660.5,369.8 L663.5,372.4Z" fill="#253d4e"/><path d="M613.4,424.9 L608.9,420.8 L658.2,367.7 L661.1,370.3Z" fill="#253d4e"/><path d="M609.8,421.7 L605.7,417.8 L655.6,365.3 L658.8,368.2Z" fill="#253d4e"/><path d="M606.4,418.5 L602.8,415.0 L652.7,362.5 L656.3,365.9Z" fill="#253d4e"/><path d="M603.5,415.7 L599.9,412.3 L649.8,359.7 L653.4,363.2Z" fill="#263e4f"/><path d="M600.6,413.0 L597.0,409.5 L646.9,357.0 L650.6,360.4Z" fill="#263e4f"/><path d="M597.7,410.2 L594.1,406.8 L644.0,354.2 L647.7,357.7Z" fill="#263e4f"/><path d="M594.8,407.5 L591.2,404.0 L641.1,351.5 L644.8,354.9Z" fill="#273e4f"/><path d="M591.9,404.7 L588.3,401.3 L638.2,348.7 L641.9,352.2Z" fill="#273f50"/><path d="M589.0,402.0 L585.4,398.5 L635.3,346.0 L639.0,349.4Z" fill="#273f50"/><path d="M586.1,399.2 L582.5,395.8 L632.4,343.2 L636.1,346.6Z" fill="#283f50"/><path d="M583.2,396.4 L579.6,393.0 L629.5,340.4 L633.2,343.9Z" fill="#283f50"/><path d="M580.3,393.7 L576.7,390.2 L626.6,337.7 L630.3,341.1Z" fill="#284051"/><path d="M577.4,390.9 L573.8,387.5 L623.7,334.9 L627.4,338.4Z" fill="#294051"/><path d="M574.5,388.2 L570.9,384.7 L620.8,332.2 L624.5,335.6Z" fill="#294051"/><path d="M571.6,385.4 L568.0,382.0 L617.9,329.4 L621.6,332.9Z" fill="#294152"/><path d="M568.7,382.7 L565.1,379.2 L615.0,326.7 L618.7,330.1Z" fill="#2a4152"/><path d="M565.8,379.9 L562.2,376.5 L612.1,323.9 L615.8,327.4Z" fill="#2a4152"/><path d="M562.9,377.2 L559.3,373.7 L609.2,321.2 L612.9,324.6Z" fill="#2a4152"/><path d="M560.0,374.4 L556.4,370.9 L606.3,318.4 L610.0,321.8Z" fill="#2b4253"/><path d="M557.1,371.6 L553.5,368.2 L603.4,315.6 L607.1,319.1Z" fill="#2b4253"/><path d="M554.2,368.9 L550.6,365.4 L600.5,312.9 L604.2,316.3Z" fill="#2b4253"/><path d="M551.3,366.1 L547.7,362.7 L597.6,310.1 L601.3,313.6Z" fill="#2b4354"/><path d="M548.4,363.4 L544.8,359.9 L594.7,307.4 L598.4,310.8Z" fill="#2c4354"/><path d="M545.5,360.6 L541.9,357.2 L591.8,304.6 L595.5,308.1Z" fill="#2c4354"/><path d="M542.6,357.9 L539.0,354.4 L588.9,301.9 L592.6,305.3Z" fill="#2d4455"/><path d="M539.7,355.1 L536.1,351.7 L586.0,299.1 L589.7,302.6Z" fill="#2e4455"/><path d="M536.8,352.3 L533.2,348.9 L583.1,296.4 L586.8,299.8Z" fill="#2f4556"/><path d="M533.9,349.6 L530.3,346.1 L580.2,293.6 L583.9,297.0Z" fill="#2f4656"/><path d="M531.0,346.8 L527.4,343.4 L577.3,290.8 L581.0,294.3Z" fill="#304657"/><path d="M528.1,344.1 L524.5,340.6 L574.4,288.1 L578.1,291.5Z" fill="#314757"/><path d="M525.2,341.3 L521.6,337.9 L571.5,285.3 L575.2,288.8Z" fill="#324858"/><path d="M522.3,338.6 L518.7,335.1 L568.6,282.6 L572.3,286.0Z" fill="#324858"/><path d="M519.4,335.8 L515.8,332.4 L565.7,279.8 L569.4,283.3Z" fill="#334959"/><path d="M516.5,333.1 L512.9,329.6 L562.9,277.1 L566.5,280.5Z" fill="#344959"/><path d="M513.6,330.3 L510.0,326.9 L560.0,274.3 L563.6,277.8Z" fill="#354a5a"/><path d="M510.7,327.5 L507.1,324.1 L557.1,271.6 L560.7,275.0Z" fill="#354b5b"/><path d="M507.8,324.8 L504.2,321.3 L554.2,268.8 L557.8,272.2Z" fill="#364b5b"/><path d="M504.9,322.0 L501.3,318.6 L551.3,266.0 L554.9,269.5Z" fill="#374c5c"/><path d="M502.0,319.3 L498.4,315.8 L548.4,263.3 L552.0,266.7Z" fill="#384c5c"/><path d="M499.1,316.5 L495.5,313.1 L545.5,260.5 L549.1,264.0Z" fill="#384d5d"/><path d="M496.2,313.8 L492.6,310.3 L542.6,257.8 L546.2,261.2Z" fill="#394e5d"/><path d="M493.3,311.0 L489.7,307.6 L539.7,255.0 L543.3,258.5Z" fill="#3a4e5e"/><path d="M490.4,308.3 L486.8,304.8 L536.8,252.3 L540.4,255.7Z" fill="#3b4f5e"/><path d="M487.5,305.5 L483.9,302.1 L533.9,249.5 L537.5,253.0Z" fill="#3b505f"/><path d="M484.6,302.7 L481.0,299.3 L531.0,246.7 L534.6,250.2Z" fill="#3c505f"/><path d="M481.7,300.0 L478.1,296.5 L528.1,244.0 L531.7,247.4Z" fill="#3d5160"/><path d="M478.8,297.2 L475.2,293.8 L525.2,241.2 L528.8,244.7Z" fill="#3e5261"/><path d="M475.9,294.5 L472.3,291.0 L522.3,238.5 L525.9,241.9Z" fill="#3f5362"/><path d="M473.0,291.7 L469.4,288.3 L519.4,235.7 L523.0,239.2Z" fill="#405463"/><path d="M470.1,289.0 L466.5,285.5 L516.5,233.0 L520.1,236.4Z" fill="#415563"/><path d="M467.2,286.2 L463.6,282.8 L513.6,230.2 L517.2,233.7Z" fill="#425664"/><path d="M464.3,283.5 L460.7,280.0 L510.7,227.5 L514.3,230.9Z" fill="#435765"/><path d="M461.4,280.7 L457.8,277.3 L507.8,224.7 L511.4,228.1Z" fill="#445866"/><path d="M458.5,277.9 L454.9,274.5 L504.9,221.9 L508.5,225.4Z" fill="#455967"/><path d="M455.6,275.2 L452.0,271.7 L502.0,219.2 L505.6,222.6Z" fill="#465a68"/><path d="M452.7,272.4 L449.1,269.0 L499.1,216.4 L502.7,219.9Z" fill="#475b69"/><path d="M449.8,269.7 L446.2,266.2 L496.2,213.7 L499.8,217.1Z" fill="#485c6a"/><path d="M446.9,266.9 L443.3,263.5 L493.3,210.9 L496.9,214.4Z" fill="#495d6b"/><path d="M444.0,264.2 L440.4,260.7 L490.4,208.2 L494.0,211.6Z" fill="#4a5e6c"/><path d="M441.1,261.4 L437.5,258.0 L487.5,205.4 L491.1,208.9Z" fill="#4b5f6d"/><path d="M438.2,258.6 L434.6,255.2 L484.6,202.7 L488.2,206.1Z" fill="#4c606e"/><path d="M435.3,255.9 L431.7,252.4 L481.7,199.9 L485.3,203.3Z" fill="#4d606f"/><path d="M432.4,253.1 L428.8,249.7 L478.8,197.1 L482.4,200.6Z" fill="#4e6170"/><path d="M429.5,250.4 L425.9,246.9 L475.9,194.4 L479.5,197.8Z" fill="#4f6271"/><path d="M426.6,247.6 L423.0,244.2 L473.0,191.6 L476.6,195.1Z" fill="#506372"/><path d="M423.8,244.9 L420.1,241.4 L470.1,188.9 L473.7,192.3Z" fill="#516473"/><path d="M420.9,242.1 L417.2,238.7 L467.2,186.1 L470.8,189.6Z" fill="#526574"/><path d="M418.0,239.4 L414.3,235.9 L464.3,183.4 L467.9,186.8Z" fill="#536674"/><path d="M415.1,236.6 L411.4,233.2 L461.4,180.6 L465.0,184.1Z" fill="#546775"/><path d="M412.2,233.8 L408.5,230.4 L458.5,177.9 L462.1,181.3Z" fill="#556876"/><path d="M409.3,231.1 L405.6,227.6 L455.6,175.1 L459.2,178.5Z" fill="#576977"/><path d="M406.4,228.3 L402.7,224.9 L452.7,172.3 L456.3,175.8Z" fill="#586a78"/><path d="M403.5,225.6 L399.8,222.1 L449.8,169.6 L453.4,173.0Z" fill="#596b79"/><path d="M400.6,222.8 L396.9,219.4 L446.9,166.8 L450.5,170.3Z" fill="#5a6c7a"/><path d="M397.7,220.1 L394.0,216.6 L444.0,164.1 L447.6,167.5Z" fill="#5b6d7b"/><path d="M394.8,217.3 L391.1,213.9 L441.1,161.3 L444.7,164.8Z" fill="#5c6e7b"/><path d="M391.9,214.6 L388.2,211.1 L438.2,158.6 L441.8,162.0Z" fill="#5d6f7c"/><path d="M389.0,211.8 L385.3,208.4 L435.3,155.8 L438.9,159.3Z" fill="#5e707d"/><path d="M386.1,209.0 L382.4,205.6 L432.4,153.1 L436.0,156.5Z" fill="#5f717e"/><path d="M383.2,206.3 L379.5,202.8 L429.5,150.3 L433.1,153.7Z" fill="#60727f"/><path d="M380.3,203.5 L376.6,200.1 L426.6,147.5 L430.2,151.0Z" fill="#617380"/><path d="M377.4,200.8 L373.7,197.3 L423.7,144.8 L427.3,148.2Z" fill="#627481"/><path d="M374.5,198.0 L370.8,194.6 L420.8,142.0 L424.4,145.5Z" fill="#637581"/><path d="M371.6,195.3 L367.9,191.8 L417.9,139.3 L421.5,142.7Z" fill="#647682"/><path d="M368.7,192.5 L365.0,189.1 L415.0,136.5 L418.6,140.0Z" fill="#657783"/><path d="M365.8,189.8 L362.1,186.3 L412.1,133.8 L415.7,137.2Z" fill="#667884"/><path d="M362.9,187.0 L359.2,183.6 L409.2,131.0 L412.8,134.4Z" fill="#677885"/><path d="M360.0,184.2 L356.3,180.8 L406.3,128.2 L409.9,131.7Z" fill="#687986"/><path d="M357.1,181.5 L353.4,178.0 L403.4,125.5 L407.0,128.9Z" fill="#697a87"/><path d="M354.2,178.7 L350.5,175.3 L400.5,122.7 L404.1,126.2Z" fill="#6a7b87"/><path d="M351.3,176.0 L348.2,173.1 L397.0,119.4 L401.2,123.4Z" fill="#6b7c88"/><path d="M348.8,173.7 L345.9,171.0 L393.3,116.2 L397.9,120.3Z" fill="#6c7d88"/><path d="M346.5,171.6 L343.5,169.0 L389.6,113.1 L394.2,117.0Z" fill="#6c7d89"/><path d="M344.1,169.5 L341.0,167.1 L385.8,110.0 L390.5,113.9Z" fill="#6d7d89"/><path d="M341.7,167.5 L338.6,165.2 L381.9,107.1 L386.8,110.8Z" fill="#6d7e89"/><path d="M339.2,165.6 L336.0,163.3 L378.0,104.2 L382.9,107.8Z" fill="#6e7e8a"/><path d="M336.7,163.8 L333.4,161.5 L374.0,101.4 L379.0,104.9Z" fill="#6e7f8a"/><path d="M334.1,162.0 L333.3,161.5 L373.8,101.3 L375.0,102.1Z" fill="#6e7f8a"/>
</g>
<path d="M325.0,176.3 L326.0,176.9 L330.9,176.9 L332.3,177.8 L332.6,182.5 L331.4,183.6 L326.5,184.3 L325.6,185.0 L325.4,187.2 L326.2,188.1 L330.8,189.6 L331.9,190.9 L330.7,195.5 L329.2,196.1 L324.4,195.2 L323.3,195.7 L322.5,197.7 L322.9,198.8 L326.8,201.6 L327.4,203.2 L324.9,207.2 L323.2,207.3 L318.9,205.0 L317.8,205.1 L316.4,206.8 L316.4,207.9 L319.3,211.8 L319.4,213.5 L315.8,216.5 L314.1,216.2 L310.8,212.6 L309.7,212.4 L307.8,213.5 L307.5,214.6 L309.0,219.2 L308.6,220.8 L304.2,222.6 L302.7,221.8 L300.6,217.4 L299.7,216.8 L297.5,217.2 L296.9,218.2 L296.9,223.1 L296.0,224.5 L291.3,224.8 L290.2,223.6 L289.5,218.7 L288.8,217.8 L286.6,217.6 L285.7,218.4 L284.2,223.0 L282.9,224.1 L278.3,222.9 L277.7,221.4 L278.6,216.6 L278.1,215.5 L276.1,214.7 L275.0,215.1 L272.2,219.0 L270.6,219.6 L266.6,217.1 L266.5,215.4 L268.8,211.1 L268.7,210.0 L267.0,208.6 L265.9,208.6 L262.0,211.5 L260.3,211.6 L257.3,208.0 L257.6,206.3 L261.2,203.0 L261.4,201.9 L260.3,200.0 L259.2,199.7 L254.6,201.2 L253.0,200.8 L251.2,196.4 L252.0,194.9 L256.4,192.8 L257.0,191.9 L256.6,189.7 L255.6,189.1 L250.7,189.1 L249.3,188.2 L249.0,183.5 L250.2,182.4 L255.1,181.7 L256.0,181.0 L256.2,178.8 L255.4,177.9 L250.8,176.4 L249.7,175.1 L250.9,170.5 L252.4,169.9 L257.2,170.8 L258.3,170.3 L259.1,168.3 L258.7,167.2 L254.8,164.4 L254.2,162.8 L256.7,158.8 L258.4,158.7 L262.7,161.0 L263.8,160.9 L265.2,159.2 L265.2,158.1 L262.3,154.2 L262.2,152.5 L265.8,149.5 L267.5,149.8 L270.8,153.4 L271.9,153.6 L273.8,152.5 L274.1,151.4 L272.6,146.8 L273.0,145.2 L277.4,143.4 L278.9,144.2 L281.0,148.6 L281.9,149.2 L284.1,148.8 L284.7,147.8 L284.7,142.9 L285.6,141.5 L290.3,141.2 L291.4,142.4 L292.1,147.3 L292.8,148.2 L295.0,148.4 L295.9,147.6 L297.4,143.0 L298.7,141.9 L303.3,143.1 L303.9,144.6 L303.0,149.4 L303.5,150.5 L305.5,151.3 L306.6,150.9 L309.4,147.0 L311.0,146.4 L315.0,148.9 L315.1,150.6 L312.8,154.9 L312.9,156.0 L314.6,157.4 L315.7,157.4 L319.6,154.5 L321.3,154.4 L324.3,158.0 L324.0,159.7 L320.4,163.0 L320.2,164.1 L321.3,166.0 L322.4,166.3 L327.0,164.8 L328.6,165.2 L330.4,169.6 L329.6,171.1 L325.2,173.2 L324.6,174.1Z M267.8,183.0 a23.0,23.0 0 1,0 46.0,0 a23.0,23.0 0 1,0 -46.0,0Z" fill="url(#gg)" fill-rule="evenodd" stroke="#2e2214" stroke-width="1.05" stroke-linejoin="round"/>
<path d="M375.6,223.0 L376.2,223.8 L379.8,224.8 L380.6,226.0 L379.7,230.7 L378.5,231.6 L374.8,231.2 L373.9,231.7 L373.1,233.8 L373.3,234.8 L376.2,237.2 L376.4,238.6 L373.7,242.5 L372.3,242.8 L369.0,240.9 L368.0,241.1 L366.4,242.6 L366.2,243.6 L367.9,246.9 L367.5,248.4 L363.4,250.8 L362.0,250.5 L359.8,247.5 L358.8,247.2 L356.7,248.0 L356.1,248.8 L356.3,252.5 L355.4,253.6 L350.7,254.3 L349.5,253.4 L348.7,249.7 L347.9,249.1 L345.7,248.9 L344.8,249.4 L343.5,252.9 L342.2,253.6 L337.6,252.2 L336.9,250.9 L337.7,247.2 L337.2,246.3 L335.3,245.3 L334.3,245.4 L331.6,248.0 L330.1,248.1 L326.5,245.0 L326.4,243.5 L328.6,240.5 L328.5,239.5 L327.2,237.7 L326.2,237.4 L322.7,238.7 L321.4,238.2 L319.3,233.9 L319.8,232.5 L323.0,230.6 L323.4,229.7 L322.9,227.5 L322.1,226.9 L318.4,226.6 L317.4,225.6 L317.2,220.8 L318.3,219.8 L322.0,219.4 L322.7,218.7 L323.1,216.5 L322.7,215.6 L319.4,213.8 L318.8,212.5 L320.7,208.1 L322.0,207.5 L325.6,208.6 L326.5,208.3 L327.8,206.5 L327.8,205.4 L325.5,202.5 L325.5,201.1 L329.0,197.8 L330.5,197.8 L333.2,200.3 L334.2,200.4 L336.1,199.2 L336.5,198.3 L335.6,194.7 L336.3,193.4 L340.8,191.8 L342.1,192.4 L343.6,195.8 L344.5,196.3 L346.7,196.0 L347.5,195.3 L348.1,191.6 L349.2,190.7 L354.0,191.1 L354.9,192.2 L354.9,195.9 L355.6,196.7 L357.7,197.4 L358.7,197.0 L360.7,194.0 L362.1,193.5 L366.3,195.8 L366.7,197.2 L365.2,200.6 L365.5,201.6 L367.2,203.1 L368.2,203.2 L371.3,201.2 L372.8,201.4 L375.7,205.2 L375.5,206.6 L372.7,209.1 L372.6,210.1 L373.5,212.1 L374.4,212.6 L378.1,212.1 L379.3,212.9 L380.4,217.5 L379.6,218.8 L376.1,219.9 L375.5,220.8Z M331.3,222.5 a17.7,17.7 0 1,0 35.4,0 a17.7,17.7 0 1,0 -35.4,0Z" fill="url(#gg)" fill-rule="evenodd" stroke="#2e2214" stroke-width="1.05" stroke-linejoin="round"/>
<path d="M311.8,268.8 L312.7,269.7 L318.1,270.8 L319.5,272.1 L318.8,277.4 L317.1,278.3 L311.6,277.9 L310.5,278.5 L309.8,280.9 L310.4,282.0 L315.2,284.7 L316.1,286.4 L313.8,291.2 L311.9,291.6 L306.8,289.5 L305.5,289.8 L304.1,291.8 L304.4,293.1 L308.1,297.2 L308.4,299.0 L304.7,302.9 L302.9,302.7 L298.6,299.1 L297.3,299.0 L295.4,300.5 L295.2,301.7 L297.5,306.7 L297.2,308.6 L292.5,311.1 L290.8,310.4 L287.9,305.7 L286.7,305.1 L284.4,306.0 L283.8,307.1 L284.5,312.6 L283.6,314.3 L278.4,315.2 L277.0,314.0 L275.6,308.6 L274.7,307.7 L272.2,307.8 L271.3,308.7 L270.2,314.1 L268.9,315.5 L263.6,314.8 L262.7,313.1 L263.1,307.6 L262.5,306.5 L260.1,305.8 L259.0,306.4 L256.3,311.2 L254.6,312.1 L249.8,309.8 L249.4,307.9 L251.5,302.8 L251.2,301.5 L249.2,300.1 L247.9,300.4 L243.8,304.1 L242.0,304.4 L238.1,300.7 L238.3,298.9 L241.9,294.6 L242.0,293.3 L240.5,291.4 L239.3,291.2 L234.3,293.5 L232.4,293.2 L229.9,288.5 L230.6,286.8 L235.3,283.9 L235.9,282.7 L235.0,280.4 L233.9,279.8 L228.4,280.5 L226.7,279.6 L225.8,274.4 L227.0,273.0 L232.4,271.6 L233.3,270.7 L233.2,268.2 L232.3,267.3 L226.9,266.2 L225.5,264.9 L226.2,259.6 L227.9,258.7 L233.4,259.1 L234.5,258.5 L235.2,256.1 L234.6,255.0 L229.8,252.3 L228.9,250.6 L231.2,245.8 L233.1,245.4 L238.2,247.5 L239.5,247.2 L240.9,245.2 L240.6,243.9 L236.9,239.8 L236.6,238.0 L240.3,234.1 L242.1,234.3 L246.4,237.9 L247.7,238.0 L249.6,236.5 L249.8,235.3 L247.5,230.3 L247.8,228.4 L252.5,225.9 L254.2,226.6 L257.1,231.3 L258.3,231.9 L260.6,231.0 L261.2,229.9 L260.5,224.4 L261.4,222.7 L266.6,221.8 L268.0,223.0 L269.4,228.4 L270.3,229.3 L272.8,229.2 L273.7,228.3 L274.8,222.9 L276.1,221.5 L281.4,222.2 L282.3,223.9 L281.9,229.4 L282.5,230.5 L284.9,231.2 L286.0,230.6 L288.7,225.8 L290.4,224.9 L295.2,227.2 L295.6,229.1 L293.5,234.2 L293.8,235.5 L295.8,236.9 L297.1,236.6 L301.2,232.9 L303.0,232.6 L306.9,236.3 L306.7,238.1 L303.1,242.4 L303.0,243.7 L304.5,245.6 L305.7,245.8 L310.7,243.5 L312.6,243.8 L315.1,248.5 L314.4,250.2 L309.7,253.1 L309.1,254.3 L310.0,256.6 L311.1,257.2 L316.6,256.5 L318.3,257.4 L319.2,262.6 L318.0,264.0 L312.6,265.4 L311.7,266.3Z M246.6,268.5 a25.9,25.9 0 1,0 51.8,0 a25.9,25.9 0 1,0 -51.8,0Z" fill="url(#gg)" fill-rule="evenodd" stroke="#2e2214" stroke-width="1.05" stroke-linejoin="round"/>
<path d="M430.9,263.3 L431.8,264.0 L436.4,264.2 L437.7,265.2 L437.9,270.2 L436.7,271.3 L432.1,271.8 L431.2,272.5 L430.9,274.8 L431.5,275.8 L435.8,277.5 L436.6,278.9 L435.1,283.6 L433.6,284.3 L429.1,283.2 L428.0,283.6 L426.9,285.6 L427.2,286.7 L430.6,289.8 L430.9,291.4 L427.9,295.3 L426.2,295.4 L422.4,292.8 L421.3,292.9 L419.5,294.4 L419.4,295.5 L421.5,299.6 L421.3,301.2 L417.1,303.9 L415.5,303.4 L412.8,299.6 L411.7,299.3 L409.6,300.1 L409.1,301.1 L409.7,305.7 L408.9,307.2 L404.0,308.2 L402.7,307.2 L401.4,302.7 L400.6,302.0 L398.2,302.1 L397.4,302.9 L396.4,307.4 L395.2,308.5 L390.3,307.8 L389.4,306.4 L389.7,301.8 L389.1,300.8 L386.9,300.1 L385.9,300.5 L383.4,304.4 L381.9,305.0 L377.5,302.7 L377.1,301.1 L379.0,296.9 L378.8,295.7 L377.0,294.3 L375.9,294.4 L372.2,297.2 L370.5,297.2 L367.2,293.5 L367.4,291.9 L370.6,288.6 L370.8,287.5 L369.6,285.5 L368.5,285.2 L364.1,286.6 L362.6,286.0 L360.7,281.4 L361.5,280.0 L365.6,277.9 L366.2,277.0 L365.7,274.7 L364.8,274.0 L360.2,273.8 L358.9,272.8 L358.7,267.8 L359.9,266.7 L364.5,266.2 L365.4,265.5 L365.7,263.2 L365.1,262.2 L360.8,260.5 L360.0,259.1 L361.5,254.4 L363.0,253.7 L367.5,254.8 L368.6,254.4 L369.7,252.4 L369.4,251.3 L366.0,248.2 L365.7,246.6 L368.7,242.7 L370.4,242.6 L374.2,245.2 L375.3,245.1 L377.1,243.6 L377.2,242.5 L375.1,238.4 L375.3,236.8 L379.5,234.1 L381.1,234.6 L383.8,238.4 L384.9,238.7 L387.0,237.9 L387.5,236.9 L386.9,232.3 L387.7,230.8 L392.6,229.8 L393.9,230.8 L395.2,235.3 L396.0,236.0 L398.4,235.9 L399.2,235.1 L400.2,230.6 L401.4,229.5 L406.3,230.2 L407.2,231.6 L406.9,236.2 L407.5,237.2 L409.7,237.9 L410.7,237.5 L413.2,233.6 L414.7,233.0 L419.1,235.3 L419.5,236.9 L417.6,241.1 L417.8,242.3 L419.6,243.7 L420.7,243.6 L424.4,240.8 L426.1,240.8 L429.4,244.5 L429.2,246.1 L426.0,249.4 L425.8,250.5 L427.0,252.5 L428.1,252.8 L432.5,251.4 L434.0,252.0 L435.9,256.6 L435.1,258.0 L431.0,260.1 L430.4,261.0Z M377.1,269.0 a21.2,21.2 0 1,0 42.4,0 a21.2,21.2 0 1,0 -42.4,0Z" fill="url(#gg)" fill-rule="evenodd" stroke="#2e2214" stroke-width="1.05" stroke-linejoin="round"/>
<path d="M251.5,330.8 L252.7,331.5 L258.5,331.4 L260.1,332.5 L260.6,338.1 L259.1,339.4 L253.4,340.3 L252.4,341.2 L252.1,343.8 L253.0,344.8 L258.6,346.5 L259.8,348.1 L258.5,353.5 L256.7,354.3 L251.0,353.4 L249.7,353.9 L248.7,356.3 L249.2,357.6 L254.0,360.9 L254.7,362.8 L251.7,367.6 L249.8,367.8 L244.6,365.1 L243.3,365.2 L241.6,367.2 L241.7,368.5 L245.1,373.2 L245.2,375.2 L241.0,378.8 L239.0,378.4 L235.0,374.3 L233.6,374.0 L231.4,375.3 L231.1,376.6 L232.9,382.2 L232.4,384.1 L227.2,386.2 L225.5,385.2 L222.9,380.0 L221.8,379.3 L219.2,379.9 L218.5,381.1 L218.6,386.9 L217.5,388.5 L211.9,389.0 L210.6,387.5 L209.7,381.8 L208.8,380.8 L206.2,380.5 L205.2,381.4 L203.5,387.0 L201.9,388.2 L196.5,386.9 L195.7,385.1 L196.6,379.4 L196.1,378.1 L193.7,377.1 L192.4,377.6 L189.1,382.4 L187.2,383.1 L182.4,380.1 L182.2,378.2 L184.9,373.0 L184.8,371.7 L182.8,370.0 L181.5,370.1 L176.8,373.5 L174.8,373.6 L171.2,369.4 L171.6,367.4 L175.7,363.4 L176.0,362.0 L174.7,359.8 L173.4,359.5 L167.8,361.3 L165.9,360.8 L163.8,355.6 L164.8,353.9 L170.0,351.3 L170.7,350.2 L170.1,347.6 L168.9,346.9 L163.1,347.0 L161.5,345.9 L161.0,340.3 L162.5,339.0 L168.2,338.1 L169.2,337.2 L169.5,334.6 L168.6,333.6 L163.0,331.9 L161.8,330.3 L163.1,324.9 L164.9,324.1 L170.6,325.0 L171.9,324.5 L172.9,322.1 L172.4,320.8 L167.6,317.5 L166.9,315.6 L169.9,310.8 L171.8,310.6 L177.0,313.3 L178.3,313.2 L180.0,311.2 L179.9,309.9 L176.5,305.2 L176.4,303.2 L180.6,299.6 L182.6,300.0 L186.6,304.1 L188.0,304.4 L190.2,303.1 L190.5,301.8 L188.7,296.2 L189.2,294.3 L194.4,292.2 L196.1,293.2 L198.7,298.4 L199.8,299.1 L202.4,298.5 L203.1,297.3 L203.0,291.5 L204.1,289.9 L209.7,289.4 L211.0,290.9 L211.9,296.6 L212.8,297.6 L215.4,297.9 L216.4,297.0 L218.1,291.4 L219.7,290.2 L225.1,291.5 L225.9,293.3 L225.0,299.0 L225.5,300.3 L227.9,301.3 L229.2,300.8 L232.5,296.0 L234.4,295.3 L239.2,298.3 L239.4,300.2 L236.7,305.4 L236.8,306.7 L238.8,308.4 L240.1,308.3 L244.8,304.9 L246.8,304.8 L250.4,309.0 L250.0,311.0 L245.9,315.0 L245.6,316.4 L246.9,318.6 L248.2,318.9 L253.8,317.1 L255.7,317.6 L257.8,322.8 L256.8,324.5 L251.6,327.1 L250.9,328.2Z M183.1,339.2 a27.7,27.7 0 1,0 55.4,0 a27.7,27.7 0 1,0 -55.4,0Z" fill="url(#gg)" fill-rule="evenodd" stroke="#2e2214" stroke-width="1.05" stroke-linejoin="round"/>
<path d="M762.9,181.5 L763.7,182.4 L768.4,183.5 L769.6,184.7 L768.8,189.3 L767.3,190.1 L762.5,189.6 L761.4,190.1 L760.8,192.2 L761.3,193.2 L765.4,195.8 L766.1,197.3 L764.0,201.5 L762.3,201.7 L757.9,199.8 L756.7,200.0 L755.4,201.7 L755.6,202.8 L758.8,206.5 L759.0,208.2 L755.7,211.5 L754.0,211.3 L750.4,208.0 L749.2,207.8 L747.5,209.1 L747.3,210.2 L749.2,214.7 L748.8,216.4 L744.6,218.5 L743.1,217.8 L740.7,213.5 L739.7,213.0 L737.6,213.7 L737.0,214.7 L737.5,219.6 L736.7,221.0 L732.0,221.7 L730.8,220.6 L729.8,215.8 L729.0,215.0 L726.8,215.0 L725.9,215.8 L724.8,220.5 L723.6,221.7 L719.0,220.9 L718.2,219.4 L718.7,214.6 L718.2,213.5 L716.1,212.9 L715.1,213.4 L712.5,217.5 L711.0,218.2 L706.8,216.1 L706.6,214.4 L708.5,210.0 L708.3,208.8 L706.6,207.5 L705.5,207.7 L701.8,210.9 L700.1,211.1 L696.8,207.8 L697.0,206.1 L700.3,202.5 L700.5,201.3 L699.2,199.6 L698.1,199.4 L693.6,201.3 L691.9,200.9 L689.8,196.7 L690.5,195.2 L694.8,192.8 L695.3,191.8 L694.6,189.7 L693.6,189.1 L688.7,189.6 L687.3,188.8 L686.6,184.1 L687.7,182.9 L692.5,181.9 L693.3,181.1 L693.3,178.9 L692.5,178.0 L687.8,176.9 L686.6,175.7 L687.4,171.1 L688.9,170.3 L693.7,170.8 L694.8,170.3 L695.4,168.2 L694.9,167.2 L690.8,164.6 L690.1,163.1 L692.2,158.9 L693.9,158.7 L698.3,160.6 L699.5,160.4 L700.8,158.7 L700.6,157.6 L697.4,153.9 L697.2,152.2 L700.5,148.9 L702.2,149.1 L705.8,152.4 L707.0,152.6 L708.7,151.3 L708.9,150.2 L707.0,145.7 L707.4,144.0 L711.6,141.9 L713.1,142.6 L715.5,146.9 L716.5,147.4 L718.6,146.7 L719.2,145.7 L718.7,140.8 L719.5,139.4 L724.2,138.7 L725.4,139.8 L726.4,144.6 L727.2,145.4 L729.4,145.4 L730.3,144.6 L731.4,139.9 L732.6,138.7 L737.2,139.5 L738.0,141.0 L737.5,145.8 L738.0,146.9 L740.1,147.5 L741.1,147.0 L743.7,142.9 L745.2,142.2 L749.4,144.3 L749.6,146.0 L747.7,150.4 L747.9,151.6 L749.6,152.9 L750.7,152.7 L754.4,149.5 L756.1,149.3 L759.4,152.6 L759.2,154.3 L755.9,157.9 L755.7,159.1 L757.0,160.8 L758.1,161.0 L762.6,159.1 L764.3,159.5 L766.4,163.7 L765.7,165.2 L761.4,167.6 L760.9,168.6 L761.6,170.7 L762.6,171.3 L767.5,170.8 L768.9,171.6 L769.6,176.3 L768.5,177.5 L763.7,178.5 L762.9,179.3Z M705.3,180.2 a22.8,22.8 0 1,0 45.6,0 a22.8,22.8 0 1,0 -45.6,0Z" fill="url(#gg)" fill-rule="evenodd" stroke="#2e2214" stroke-width="1.05" stroke-linejoin="round"/>
<path d="M695.2,213.5 L696.0,214.2 L699.7,214.5 L700.7,215.5 L700.7,220.3 L699.7,221.3 L696.0,221.6 L695.2,222.3 L694.8,224.4 L695.2,225.3 L698.4,227.1 L699.0,228.4 L697.1,232.7 L695.7,233.2 L692.2,232.0 L691.2,232.3 L690.0,234.1 L689.9,235.1 L692.2,238.1 L692.1,239.5 L688.6,242.7 L687.2,242.6 L684.5,240.0 L683.5,239.9 L681.6,241.0 L681.2,241.9 L682.0,245.6 L681.4,246.9 L676.9,248.3 L675.6,247.6 L674.2,244.2 L673.3,243.7 L671.1,243.9 L670.4,244.6 L669.7,248.3 L668.6,249.2 L663.9,248.7 L663.0,247.6 L663.1,243.8 L662.5,243.0 L660.4,242.4 L659.5,242.7 L657.3,245.7 L655.9,246.1 L651.9,243.8 L651.5,242.4 L653.1,239.0 L652.9,238.0 L651.2,236.5 L650.3,236.4 L647.1,238.4 L645.6,238.2 L642.9,234.3 L643.1,232.9 L645.9,230.5 L646.1,229.5 L645.2,227.5 L644.4,227.0 L640.7,227.5 L639.5,226.7 L638.5,222.1 L639.3,220.9 L642.8,219.8 L643.4,219.0 L643.4,216.8 L642.8,216.0 L639.3,214.9 L638.5,213.7 L639.5,209.1 L640.7,208.3 L644.4,208.8 L645.2,208.3 L646.1,206.3 L645.9,205.3 L643.1,202.9 L642.9,201.5 L645.6,197.6 L647.1,197.4 L650.3,199.4 L651.2,199.3 L652.9,197.8 L653.1,196.8 L651.5,193.4 L651.9,192.0 L655.9,189.7 L657.3,190.1 L659.5,193.1 L660.4,193.4 L662.5,192.8 L663.1,192.0 L663.0,188.2 L663.9,187.1 L668.6,186.6 L669.7,187.5 L670.4,191.2 L671.1,191.9 L673.3,192.1 L674.2,191.6 L675.6,188.2 L676.9,187.5 L681.4,188.9 L682.0,190.2 L681.2,193.9 L681.6,194.8 L683.5,195.9 L684.5,195.8 L687.2,193.2 L688.6,193.1 L692.1,196.3 L692.2,197.7 L689.9,200.7 L690.0,201.7 L691.2,203.5 L692.2,203.8 L695.7,202.6 L697.1,203.1 L699.0,207.4 L698.4,208.7 L695.2,210.5 L694.8,211.4Z M652.7,217.9 a16.8,16.8 0 1,0 33.6,0 a16.8,16.8 0 1,0 -33.6,0Z" fill="url(#gg)" fill-rule="evenodd" stroke="#2e2214" stroke-width="1.05" stroke-linejoin="round"/>
<path d="M659.3,269.5 L660.2,270.3 L665.2,270.7 L666.6,271.8 L666.6,277.2 L665.2,278.3 L660.2,278.7 L659.3,279.5 L658.8,281.9 L659.5,283.0 L664.1,285.0 L665.0,286.6 L663.1,291.6 L661.4,292.2 L656.6,290.9 L655.4,291.3 L654.2,293.4 L654.4,294.6 L658.0,298.1 L658.3,299.9 L654.9,304.0 L653.1,304.0 L649.0,301.1 L647.8,301.0 L645.9,302.6 L645.7,303.8 L647.9,308.4 L647.6,310.1 L642.9,312.8 L641.3,312.2 L638.4,308.0 L637.3,307.6 L634.9,308.5 L634.3,309.5 L634.9,314.6 L634.0,316.1 L628.7,317.0 L627.3,315.9 L626.1,311.0 L625.1,310.2 L622.7,310.2 L621.7,311.0 L620.5,315.9 L619.1,317.0 L613.8,316.1 L612.9,314.6 L613.5,309.5 L612.9,308.5 L610.5,307.6 L609.4,308.0 L606.5,312.2 L604.9,312.8 L600.2,310.1 L599.9,308.4 L602.1,303.8 L601.9,302.6 L600.0,301.0 L598.8,301.1 L594.7,304.0 L592.9,304.0 L589.5,299.9 L589.8,298.1 L593.4,294.6 L593.6,293.4 L592.4,291.3 L591.2,290.9 L586.4,292.2 L584.7,291.6 L582.8,286.6 L583.7,285.0 L588.3,283.0 L589.0,281.9 L588.5,279.5 L587.6,278.7 L582.6,278.3 L581.2,277.2 L581.2,271.8 L582.6,270.7 L587.6,270.3 L588.5,269.5 L589.0,267.1 L588.3,266.0 L583.7,264.0 L582.8,262.4 L584.7,257.4 L586.4,256.8 L591.2,258.1 L592.4,257.7 L593.6,255.6 L593.4,254.4 L589.8,250.9 L589.5,249.1 L592.9,245.0 L594.7,245.0 L598.8,247.9 L600.0,248.0 L601.9,246.4 L602.1,245.2 L599.9,240.6 L600.2,238.9 L604.9,236.2 L606.5,236.8 L609.4,241.0 L610.5,241.4 L612.9,240.5 L613.5,239.5 L612.9,234.4 L613.8,232.9 L619.1,232.0 L620.5,233.1 L621.7,238.0 L622.7,238.8 L625.1,238.8 L626.1,238.0 L627.3,233.1 L628.7,232.0 L634.0,232.9 L634.9,234.4 L634.3,239.5 L634.9,240.5 L637.3,241.4 L638.4,241.0 L641.3,236.8 L642.9,236.2 L647.6,238.9 L647.9,240.6 L645.7,245.2 L645.9,246.4 L647.8,248.0 L649.0,247.9 L653.1,245.0 L654.9,245.0 L658.3,249.1 L658.0,250.9 L654.4,254.4 L654.2,255.6 L655.4,257.7 L656.6,258.1 L661.4,256.8 L663.1,257.4 L665.0,262.4 L664.1,264.0 L659.5,266.0 L658.8,267.1Z M600.0,274.5 a23.9,23.9 0 1,0 47.8,0 a23.9,23.9 0 1,0 -47.8,0Z" fill="url(#gg)" fill-rule="evenodd" stroke="#2e2214" stroke-width="1.05" stroke-linejoin="round"/>
<path d="M782.2,258.8 L783.2,259.5 L788.6,259.9 L790.0,261.0 L790.0,266.2 L788.6,267.3 L783.2,267.7 L782.2,268.4 L781.8,270.8 L782.5,271.8 L787.5,273.8 L788.6,275.3 L787.0,280.3 L785.3,280.9 L780.0,279.6 L778.8,279.9 L777.8,282.1 L778.1,283.3 L782.3,286.7 L782.8,288.5 L779.7,292.7 L777.9,292.7 L773.3,289.9 L772.1,289.9 L770.4,291.6 L770.4,292.8 L773.2,297.4 L773.2,299.2 L769.0,302.3 L767.2,301.8 L763.8,297.6 L762.6,297.3 L760.4,298.3 L760.1,299.5 L761.4,304.8 L760.8,306.5 L755.8,308.1 L754.3,307.0 L752.3,302.0 L751.3,301.3 L748.9,301.7 L748.2,302.7 L747.8,308.1 L746.7,309.5 L741.5,309.5 L740.4,308.1 L740.0,302.7 L739.3,301.7 L736.9,301.3 L735.9,302.0 L733.9,307.0 L732.4,308.1 L727.4,306.5 L726.8,304.8 L728.1,299.5 L727.8,298.3 L725.6,297.3 L724.4,297.6 L721.0,301.8 L719.2,302.3 L715.0,299.2 L715.0,297.4 L717.8,292.8 L717.8,291.6 L716.1,289.9 L714.9,289.9 L710.3,292.7 L708.5,292.7 L705.4,288.5 L705.9,286.7 L710.1,283.3 L710.4,282.1 L709.4,279.9 L708.2,279.6 L702.9,280.9 L701.2,280.3 L699.6,275.3 L700.7,273.8 L705.7,271.8 L706.4,270.8 L706.0,268.4 L705.0,267.7 L699.6,267.3 L698.2,266.2 L698.2,261.0 L699.6,259.9 L705.0,259.5 L706.0,258.8 L706.4,256.4 L705.7,255.4 L700.7,253.4 L699.6,251.9 L701.2,246.9 L702.9,246.3 L708.2,247.6 L709.4,247.3 L710.4,245.1 L710.1,243.9 L705.9,240.5 L705.4,238.7 L708.5,234.5 L710.3,234.5 L714.9,237.3 L716.1,237.3 L717.8,235.6 L717.8,234.4 L715.0,229.8 L715.0,228.0 L719.2,224.9 L721.0,225.4 L724.4,229.6 L725.6,229.9 L727.8,228.9 L728.1,227.7 L726.8,222.4 L727.4,220.7 L732.4,219.1 L733.9,220.2 L735.9,225.2 L736.9,225.9 L739.3,225.5 L740.0,224.5 L740.4,219.1 L741.5,217.7 L746.7,217.7 L747.8,219.1 L748.2,224.5 L748.9,225.5 L751.3,225.9 L752.3,225.2 L754.3,220.2 L755.8,219.1 L760.8,220.7 L761.4,222.4 L760.1,227.7 L760.4,228.9 L762.6,229.9 L763.8,229.6 L767.2,225.4 L769.0,224.9 L773.2,228.0 L773.2,229.8 L770.4,234.4 L770.4,235.6 L772.1,237.3 L773.3,237.3 L777.9,234.5 L779.7,234.5 L782.8,238.7 L782.3,240.5 L778.1,243.9 L777.8,245.1 L778.8,247.3 L780.0,247.6 L785.3,246.3 L787.0,246.9 L788.6,251.9 L787.5,253.4 L782.5,255.4 L781.8,256.4Z M719.1,263.6 a25.0,25.0 0 1,0 50.0,0 a25.0,25.0 0 1,0 -50.0,0Z" fill="url(#gg)" fill-rule="evenodd" stroke="#2e2214" stroke-width="1.05" stroke-linejoin="round"/>
<path d="M844.1,331.1 L845.1,331.9 L850.9,332.2 L852.4,333.4 L852.4,339.0 L850.9,340.2 L845.1,340.5 L844.1,341.3 L843.7,343.9 L844.4,344.9 L849.8,347.1 L850.9,348.7 L849.2,354.0 L847.3,354.6 L841.8,353.2 L840.5,353.6 L839.3,355.9 L839.7,357.2 L844.2,360.8 L844.7,362.7 L841.5,367.2 L839.5,367.2 L834.6,364.2 L833.3,364.2 L831.5,366.0 L831.5,367.3 L834.5,372.2 L834.5,374.2 L830.0,377.4 L828.1,376.9 L824.5,372.4 L823.2,372.0 L820.9,373.2 L820.5,374.5 L821.9,380.0 L821.3,381.9 L816.0,383.6 L814.4,382.5 L812.2,377.1 L811.2,376.4 L808.6,376.8 L807.8,377.8 L807.5,383.6 L806.3,385.1 L800.7,385.1 L799.5,383.6 L799.2,377.8 L798.4,376.8 L795.8,376.4 L794.8,377.1 L792.6,382.5 L791.0,383.6 L785.7,381.9 L785.1,380.0 L786.5,374.5 L786.1,373.2 L783.8,372.0 L782.5,372.4 L778.9,376.9 L777.0,377.4 L772.5,374.2 L772.5,372.2 L775.5,367.3 L775.5,366.0 L773.7,364.2 L772.4,364.2 L767.5,367.2 L765.5,367.2 L762.3,362.7 L762.8,360.8 L767.3,357.2 L767.7,355.9 L766.5,353.6 L765.2,353.2 L759.7,354.6 L757.8,354.0 L756.1,348.7 L757.2,347.1 L762.6,344.9 L763.3,343.9 L762.9,341.3 L761.9,340.5 L756.1,340.2 L754.6,339.0 L754.6,333.4 L756.1,332.2 L761.9,331.9 L762.9,331.1 L763.3,328.5 L762.6,327.5 L757.2,325.3 L756.1,323.7 L757.8,318.4 L759.7,317.8 L765.2,319.2 L766.5,318.8 L767.7,316.5 L767.3,315.2 L762.8,311.6 L762.3,309.7 L765.5,305.2 L767.5,305.2 L772.4,308.2 L773.7,308.2 L775.5,306.4 L775.5,305.1 L772.5,300.2 L772.5,298.2 L777.0,295.0 L778.9,295.5 L782.5,300.0 L783.8,300.4 L786.1,299.2 L786.5,297.9 L785.1,292.4 L785.7,290.5 L791.0,288.8 L792.6,289.9 L794.8,295.3 L795.8,296.0 L798.4,295.6 L799.2,294.6 L799.5,288.8 L800.7,287.3 L806.3,287.3 L807.5,288.8 L807.8,294.6 L808.6,295.6 L811.2,296.0 L812.2,295.3 L814.4,289.9 L816.0,288.8 L821.3,290.5 L821.9,292.4 L820.5,297.9 L820.9,299.2 L823.2,300.4 L824.5,300.0 L828.1,295.5 L830.0,295.0 L834.5,298.2 L834.5,300.2 L831.5,305.1 L831.5,306.4 L833.3,308.2 L834.6,308.2 L839.5,305.2 L841.5,305.2 L844.7,309.7 L844.2,311.6 L839.7,315.2 L839.3,316.5 L840.5,318.8 L841.8,319.2 L847.3,317.8 L849.2,318.4 L850.9,323.7 L849.8,325.3 L844.4,327.5 L843.7,328.5Z M775.7,336.2 a27.8,27.8 0 1,0 55.6,0 a27.8,27.8 0 1,0 -55.6,0Z" fill="url(#gg)" fill-rule="evenodd" stroke="#2e2214" stroke-width="1.05" stroke-linejoin="round"/>
<!-- Plan -->
<clipPath id="c0"><path d="M184.8,133.8 L182.5,135.4 L180.2,137.1 L178.0,138.9 L175.8,140.7 L173.6,142.5 L171.5,144.4 L169.5,146.3 L167.4,148.2 L165.5,150.2 L163.5,152.2 L161.6,154.2 L159.7,156.2 L157.8,158.3 L156.0,160.4 L154.2,162.4 L152.4,164.5 L150.6,166.6 L148.9,168.7 L147.1,170.8 L145.4,173.0 L143.8,175.2 L142.1,177.4 L140.6,179.6 L139.0,181.8 L137.5,184.1 L136.0,186.4 L134.6,188.7 L133.2,191.0 L131.8,193.4 L130.5,195.7 L129.3,198.1 L128.0,200.6 L126.9,203.0 L125.7,205.5 L124.7,208.0 L123.6,210.5 L122.7,213.0 L121.7,215.5 L120.9,218.1 L120.0,220.7 L119.3,223.2 L118.5,225.8 L117.8,228.4 L117.2,231.0 L116.5,233.7 L115.9,236.3 L115.3,238.9 L114.8,241.5 L114.0,244.1 L113.2,246.7 L112.4,249.3 L111.4,252.0 L110.4,254.6 L109.5,257.2 L108.5,259.9 L107.5,262.6 L106.6,265.4 L105.8,268.2 L105.1,271.0 L104.5,273.8 L122.2,276.8 L87.4,292.7 L72.2,253.2 L83.9,266.8 L84.1,263.6 L84.3,260.4 L84.6,257.2 L85.0,254.1 L85.4,250.9 L85.9,247.8 L86.4,244.6 L86.9,241.5 L87.4,238.3 L88.0,235.2 L88.5,232.0 L89.0,228.9 L89.6,225.7 L90.1,222.6 L90.8,219.4 L91.4,216.3 L92.1,213.1 L92.9,210.0 L93.8,206.9 L94.8,203.8 L95.8,200.7 L97.0,197.7 L98.2,194.7 L99.5,191.7 L100.8,188.8 L102.2,185.8 L103.7,182.9 L105.2,180.0 L106.7,177.2 L108.3,174.4 L110.0,171.5 L111.7,168.8 L113.4,166.0 L115.2,163.3 L117.1,160.6 L119.0,157.9 L120.9,155.3 L122.9,152.7 L124.9,150.1 L127.0,147.5 L129.1,145.0 L131.2,142.4 L133.3,139.9 L135.5,137.4 L137.7,134.9 L140.0,132.5 L142.2,130.0 L144.5,127.6 L146.9,125.2 L149.3,122.8 L151.7,120.5 L154.3,118.3 L156.8,116.0 L159.4,113.9 L161.6,117.0 L164.0,119.9 L166.8,122.6 L169.9,125.1 L173.2,127.4 L176.9,129.6 L180.7,131.7Z"/></clipPath>
<path d="M184.8,133.8 L182.5,135.4 L180.2,137.1 L178.0,138.9 L175.8,140.7 L173.6,142.5 L171.5,144.4 L169.5,146.3 L167.4,148.2 L165.5,150.2 L163.5,152.2 L161.6,154.2 L159.7,156.2 L157.8,158.3 L156.0,160.4 L154.2,162.4 L152.4,164.5 L150.6,166.6 L148.9,168.7 L147.1,170.8 L145.4,173.0 L143.8,175.2 L142.1,177.4 L140.6,179.6 L139.0,181.8 L137.5,184.1 L136.0,186.4 L134.6,188.7 L133.2,191.0 L131.8,193.4 L130.5,195.7 L129.3,198.1 L128.0,200.6 L126.9,203.0 L125.7,205.5 L124.7,208.0 L123.6,210.5 L122.7,213.0 L121.7,215.5 L120.9,218.1 L120.0,220.7 L119.3,223.2 L118.5,225.8 L117.8,228.4 L117.2,231.0 L116.5,233.7 L115.9,236.3 L115.3,238.9 L114.8,241.5 L114.0,244.1 L113.2,246.7 L112.4,249.3 L111.4,252.0 L110.4,254.6 L109.5,257.2 L108.5,259.9 L107.5,262.6 L106.6,265.4 L105.8,268.2 L105.1,271.0 L104.5,273.8 L122.2,276.8 L87.4,292.7 L72.2,253.2 L83.9,266.8 L84.1,263.6 L84.3,260.4 L84.6,257.2 L85.0,254.1 L85.4,250.9 L85.9,247.8 L86.4,244.6 L86.9,241.5 L87.4,238.3 L88.0,235.2 L88.5,232.0 L89.0,228.9 L89.6,225.7 L90.1,222.6 L90.8,219.4 L91.4,216.3 L92.1,213.1 L92.9,210.0 L93.8,206.9 L94.8,203.8 L95.8,200.7 L97.0,197.7 L98.2,194.7 L99.5,191.7 L100.8,188.8 L102.2,185.8 L103.7,182.9 L105.2,180.0 L106.7,177.2 L108.3,174.4 L110.0,171.5 L111.7,168.8 L113.4,166.0 L115.2,163.3 L117.1,160.6 L119.0,157.9 L120.9,155.3 L122.9,152.7 L124.9,150.1 L127.0,147.5 L129.1,145.0 L131.2,142.4 L133.3,139.9 L135.5,137.4 L137.7,134.9 L140.0,132.5 L142.2,130.0 L144.5,127.6 L146.9,125.2 L149.3,122.8 L151.7,120.5 L154.3,118.3 L156.8,116.0 L159.4,113.9 L161.6,117.0 L164.0,119.9 L166.8,122.6 L169.9,125.1 L173.2,127.4 L176.9,129.6 L180.7,131.7Z" fill="#06101a" opacity=".55" filter="url(#sh)" transform="translate(1.4,2)"/>
<g clip-path="url(#c0)">
<path d="M184.8,133.8 L182.5,135.4 L180.2,137.1 L178.0,138.9 L175.8,140.7 L173.6,142.5 L171.5,144.4 L169.5,146.3 L167.4,148.2 L165.5,150.2 L163.5,152.2 L161.6,154.2 L159.7,156.2 L157.8,158.3 L156.0,160.4 L154.2,162.4 L152.4,164.5 L150.6,166.6 L148.9,168.7 L147.1,170.8 L145.4,173.0 L143.8,175.2 L142.1,177.4 L140.6,179.6 L139.0,181.8 L137.5,184.1 L136.0,186.4 L134.6,188.7 L133.2,191.0 L131.8,193.4 L130.5,195.7 L129.3,198.1 L128.0,200.6 L126.9,203.0 L125.7,205.5 L124.7,208.0 L123.6,210.5 L122.7,213.0 L121.7,215.5 L120.9,218.1 L120.0,220.7 L119.3,223.2 L118.5,225.8 L117.8,228.4 L117.2,231.0 L116.5,233.7 L115.9,236.3 L115.3,238.9 L114.8,241.5 L114.0,244.1 L113.2,246.7 L112.4,249.3 L111.4,252.0 L110.4,254.6 L109.5,257.2 L108.5,259.9 L107.5,262.6 L106.6,265.4 L105.8,268.2 L105.1,271.0 L104.5,273.8 L122.2,276.8 L87.4,292.7 L72.2,253.2 L83.9,266.8 L84.1,263.6 L84.3,260.4 L84.6,257.2 L85.0,254.1 L85.4,250.9 L85.9,247.8 L86.4,244.6 L86.9,241.5 L87.4,238.3 L88.0,235.2 L88.5,232.0 L89.0,228.9 L89.6,225.7 L90.1,222.6 L90.8,219.4 L91.4,216.3 L92.1,213.1 L92.9,210.0 L93.8,206.9 L94.8,203.8 L95.8,200.7 L97.0,197.7 L98.2,194.7 L99.5,191.7 L100.8,188.8 L102.2,185.8 L103.7,182.9 L105.2,180.0 L106.7,177.2 L108.3,174.4 L110.0,171.5 L111.7,168.8 L113.4,166.0 L115.2,163.3 L117.1,160.6 L119.0,157.9 L120.9,155.3 L122.9,152.7 L124.9,150.1 L127.0,147.5 L129.1,145.0 L131.2,142.4 L133.3,139.9 L135.5,137.4 L137.7,134.9 L140.0,132.5 L142.2,130.0 L144.5,127.6 L146.9,125.2 L149.3,122.8 L151.7,120.5 L154.3,118.3 L156.8,116.0 L159.4,113.9 L161.6,117.0 L164.0,119.9 L166.8,122.6 L169.9,125.1 L173.2,127.4 L176.9,129.6 L180.7,131.7Z" fill="#ece6d9"/>
<path d="M199.1,153.2 L194.3,155.9 L158.9,94.2 L166.3,90.2Z" fill="#a5916b"/>
<path d="M195.0,155.5 L190.2,158.3 L152.6,98.0 L159.9,93.6Z" fill="#a5916b"/>
<path d="M190.9,157.9 L186.3,160.9 L146.5,101.9 L153.7,97.3Z" fill="#a5916b"/>
<path d="M186.9,160.4 L182.4,163.6 L140.6,106.1 L147.5,101.2Z" fill="#a5916b"/>
<path d="M183.0,163.1 L178.6,166.4 L134.8,110.5 L141.6,105.4Z" fill="#a5916b"/>
<path d="M179.2,165.9 L175.0,169.4 L129.1,115.1 L135.7,109.7Z" fill="#a5916b"/>
<path d="M175.6,168.9 L171.4,172.5 L123.7,119.8 L130.1,114.3Z" fill="#a5916b"/>
<path d="M172.0,172.0 L170.5,173.3 L122.3,121.1 L124.6,119.0Z" fill="#a99671"/>
<path d="M171.1,172.8 L169.4,174.4 L120.5,122.7 L123.2,120.2Z" fill="#ab9975"/>
<path d="M169.9,173.9 L168.5,175.2 L119.2,124.0 L121.4,121.9Z" fill="#ae9c79"/>
<path d="M169.1,174.7 L167.7,176.0 L117.9,125.2 L120.1,123.1Z" fill="#b09e7c"/>
<path d="M168.2,175.5 L166.5,177.1 L116.2,127.0 L118.8,124.4Z" fill="#b3a180"/>
<path d="M167.1,176.6 L165.7,178.0 L114.9,128.2 L117.1,126.1Z" fill="#b5a484"/>
<path d="M166.3,177.4 L164.6,179.1 L113.2,130.0 L115.8,127.4Z" fill="#b8a788"/>
<path d="M165.2,178.5 L163.5,180.3 L111.6,131.7 L114.1,129.1Z" fill="#bbab8c"/>
<path d="M164.1,179.7 L162.7,181.1 L110.3,133.1 L112.4,130.9Z" fill="#bdae90"/>
<path d="M163.3,180.5 L161.7,182.3 L108.7,134.9 L111.2,132.2Z" fill="#c0b194"/>
<path d="M162.2,181.7 L160.9,183.2 L107.5,136.2 L109.5,134.0Z" fill="#c2b498"/>
<path d="M161.4,182.6 L159.9,184.4 L105.9,138.1 L108.3,135.3Z" fill="#c5b79c"/>
<path d="M160.4,183.8 L158.8,185.6 L104.3,139.9 L106.7,137.2Z" fill="#c8baa0"/>
<path d="M159.4,185.0 L158.1,186.5 L103.2,141.3 L105.1,139.0Z" fill="#cabda4"/>
<path d="M158.6,185.9 L157.1,187.7 L101.7,143.2 L104.0,140.4Z" fill="#cdc0a8"/>
<path d="M157.6,187.1 L156.4,188.6 L100.5,144.6 L102.4,142.3Z" fill="#cfc3ac"/>
<path d="M156.8,188.0 L155.4,189.9 L99.0,146.5 L101.3,143.7Z" fill="#d2c6b0"/>
<path d="M155.9,189.2 L154.4,191.1 L97.6,148.5 L99.8,145.6Z" fill="#d5cab4"/>
<path d="M154.9,190.5 L153.7,192.1 L96.5,149.9 L98.3,147.5Z" fill="#d7cdb8"/>
<path d="M154.2,191.4 L152.8,193.3 L95.1,151.9 L97.2,149.0Z" fill="#dad0bc"/>
<path d="M153.3,192.7 L152.1,194.3 L94.0,153.4 L95.8,150.9Z" fill="#ddd3c0"/>
<path d="M152.6,193.7 L151.2,195.6 L92.6,155.4 L94.7,152.4Z" fill="#dfd6c4"/>
<path d="M151.7,195.0 L150.6,196.6 L91.6,156.9 L93.3,154.4Z" fill="#e2d9c8"/>
<path d="M151.0,195.9 L149.9,197.6 L90.6,158.4 L92.3,155.9Z" fill="#e4dccb"/>
<path d="M150.3,196.9 L149.0,198.9 L89.3,160.4 L91.3,157.4Z" fill="#e6dfcf"/>
<path d="M149.5,198.2 L148.4,199.9 L88.3,161.9 L89.9,159.4Z" fill="#e9e2d3"/>
<path d="M148.8,199.2 L146.0,203.9 L84.5,168.2 L88.9,160.9Z" fill="#ebe4d6"/>
<path d="M146.4,203.2 L143.7,208.1 L81.0,174.5 L85.1,167.1Z" fill="#ece5d7"/>
<path d="M144.0,207.4 L141.5,212.3 L77.7,181.0 L81.5,173.4Z" fill="#ece5d8"/>
<path d="M141.8,211.6 L139.5,216.5 L74.6,187.6 L78.2,179.9Z" fill="#ede6d9"/>
<path d="M139.8,215.8 L137.6,220.9 L71.7,194.3 L75.1,186.5Z" fill="#ede7da"/>
<path d="M137.9,220.2 L136.0,225.3 L69.1,201.1 L72.2,193.1Z" fill="#eee7db"/>
<path d="M136.2,224.6 L134.4,229.8 L66.8,207.9 L69.5,199.9Z" fill="#eee8dc"/>
<path d="M134.7,229.0 L133.1,234.3 L64.7,214.9 L67.1,206.8Z" fill="#efe9dd"/>
<path d="M133.3,233.5 L132.7,235.4 L64.2,216.6 L65.0,213.7Z" fill="#efe9de"/>
<path d="M132.9,234.7 L132.5,236.2 L63.9,217.8 L64.5,215.5Z" fill="#ece5d9"/>
<path d="M132.7,235.4 L132.3,237.0 L63.5,219.0 L64.2,216.6Z" fill="#e9e2d5"/>
<path d="M132.5,236.2 L132.1,237.7 L63.2,220.2 L63.9,217.8Z" fill="#e7dfd1"/>
<path d="M132.3,237.0 L131.9,238.5 L62.9,221.3 L63.5,219.0Z" fill="#e4dccd"/>
<path d="M132.1,237.7 L131.8,239.2 L62.7,222.5 L63.2,220.2Z" fill="#e2d9c9"/>
<path d="M131.9,238.5 L131.6,240.0 L62.4,223.7 L62.9,221.3Z" fill="#dfd6c5"/>
<path d="M131.8,239.2 L131.4,240.8 L62.1,224.9 L62.7,222.5Z" fill="#ddd3c1"/>
<path d="M131.6,240.0 L131.2,241.6 L61.8,226.1 L62.4,223.7Z" fill="#dad0bd"/>
<path d="M131.4,240.8 L131.0,242.3 L61.6,227.2 L62.1,224.9Z" fill="#d8cdb9"/>
<path d="M131.2,241.6 L130.9,243.1 L61.3,228.4 L61.8,226.1Z" fill="#d5cab5"/>
<path d="M131.0,242.3 L130.7,243.9 L61.1,229.6 L61.6,227.2Z" fill="#d3c7b1"/>
<path d="M130.9,243.1 L130.6,244.6 L60.8,230.8 L61.3,228.4Z" fill="#d0c4ad"/>
<path d="M130.7,243.9 L130.4,245.4 L60.6,232.0 L61.1,229.6Z" fill="#cec1a9"/>
<path d="M130.6,244.6 L130.3,246.2 L60.4,233.2 L60.8,230.8Z" fill="#cbbea5"/>
<path d="M130.4,245.4 L130.1,247.0 L60.2,234.4 L60.6,232.0Z" fill="#c8bba1"/>
<path d="M130.3,246.2 L130.0,247.7 L59.9,235.6 L60.4,233.2Z" fill="#c6b89d"/>
<path d="M130.1,247.0 L129.9,248.5 L59.7,236.8 L60.2,234.4Z" fill="#c3b599"/>
<path d="M130.0,247.7 L129.7,249.3 L59.5,238.0 L59.9,235.6Z" fill="#c1b295"/>
<path d="M129.9,248.5 L129.6,250.1 L59.4,239.2 L59.7,236.8Z" fill="#beaf91"/>
<path d="M129.7,249.3 L129.5,250.8 L59.2,240.4 L59.5,238.0Z" fill="#bcac8d"/>
<path d="M129.6,250.1 L129.4,251.6 L59.0,241.6 L59.4,239.2Z" fill="#b9a989"/>
<path d="M129.5,250.8 L129.3,252.4 L58.8,242.8 L59.2,240.4Z" fill="#b7a685"/>
<path d="M129.4,251.6 L129.2,253.2 L58.7,244.0 L59.0,241.6Z" fill="#b4a381"/>
<path d="M129.3,252.4 L129.1,254.0 L58.5,245.2 L58.8,242.8Z" fill="#b2a07d"/>
<path d="M129.2,253.2 L129.0,254.7 L58.4,246.4 L58.7,244.0Z" fill="#af9d79"/>
<path d="M129.1,254.0 L128.9,255.5 L58.2,247.6 L58.5,245.2Z" fill="#ad9a75"/>
<path d="M129.0,254.7 L128.8,256.3 L58.1,248.8 L58.4,246.4Z" fill="#aa9671"/>
<path d="M128.9,255.5 L128.4,261.0 L57.5,256.0 L58.2,247.6Z" fill="#a7936d"/>
<path d="M128.4,260.2 L128.1,265.7 L57.1,263.3 L57.5,254.8Z" fill="#a6926b"/>
<path d="M128.2,265.0 L128.0,270.5 L57.0,270.6 L57.1,262.1Z" fill="#a5906a"/>
<path d="M128.0,269.7 L128.1,275.2 L57.1,277.8 L57.0,269.3Z" fill="#a38f68"/>
<path d="M128.1,274.4 L128.4,279.9 L57.5,285.1 L57.1,276.6Z" fill="#a28d66"/>
<path d="M128.3,279.1 L128.8,284.6 L58.2,292.3 L57.4,283.9Z" fill="#a18c64"/>
<path d="M128.7,283.8 L129.4,289.3 L59.1,299.5 L58.0,291.1Z" fill="#9f8a62"/>
<path d="M129.3,288.5 L130.2,294.0 L60.2,306.7 L58.9,298.3Z" fill="#9f8a62"/>
<path d="M184.8,133.8 L182.5,135.4 L180.2,137.1 L178.0,138.9 L175.8,140.7 L173.6,142.5 L171.5,144.4 L169.5,146.3 L167.4,148.2 L165.5,150.2 L163.5,152.2 L161.6,154.2 L159.7,156.2 L157.8,158.3 L156.0,160.4 L154.2,162.4 L152.4,164.5 L150.6,166.6 L148.9,168.7 L147.1,170.8 L145.4,173.0 L143.8,175.2 L142.1,177.4 L140.6,179.6 L139.0,181.8 L137.5,184.1 L136.0,186.4 L134.6,188.7 L133.2,191.0 L131.8,193.4 L130.5,195.7 L129.3,198.1 L128.0,200.6 L126.9,203.0 L125.7,205.5 L124.7,208.0 L123.6,210.5 L122.7,213.0 L121.7,215.5 L120.9,218.1 L120.0,220.7 L119.3,223.2 L118.5,225.8 L117.8,228.4 L117.2,231.0 L116.5,233.7 L115.9,236.3 L115.3,238.9 L114.8,241.5 L114.0,244.1 L113.2,246.7 L112.4,249.3 L111.4,252.0 L110.4,254.6 L109.5,257.2 L108.5,259.9 L107.5,262.6 L106.6,265.4 L105.8,268.2 L105.1,271.0 L104.5,273.8 L122.2,276.8 L87.4,292.7 L72.2,253.2 L83.9,266.8 L84.1,263.6 L84.3,260.4 L84.6,257.2 L85.0,254.1 L85.4,250.9 L85.9,247.8 L86.4,244.6 L86.9,241.5 L87.4,238.3 L88.0,235.2 L88.5,232.0 L89.0,228.9 L89.6,225.7 L90.1,222.6 L90.8,219.4 L91.4,216.3 L92.1,213.1 L92.9,210.0 L93.8,206.9 L94.8,203.8 L95.8,200.7 L97.0,197.7 L98.2,194.7 L99.5,191.7 L100.8,188.8 L102.2,185.8 L103.7,182.9 L105.2,180.0 L106.7,177.2 L108.3,174.4 L110.0,171.5 L111.7,168.8 L113.4,166.0 L115.2,163.3 L117.1,160.6 L119.0,157.9 L120.9,155.3 L122.9,152.7 L124.9,150.1 L127.0,147.5 L129.1,145.0 L131.2,142.4 L133.3,139.9 L135.5,137.4 L137.7,134.9 L140.0,132.5 L142.2,130.0 L144.5,127.6 L146.9,125.2 L149.3,122.8 L151.7,120.5 L154.3,118.3 L156.8,116.0 L159.4,113.9 L161.6,117.0 L164.0,119.9 L166.8,122.6 L169.9,125.1 L173.2,127.4 L176.9,129.6 L180.7,131.7Z" fill="none" stroke="#000" stroke-opacity=".12" stroke-width="1.2"/>
</g>
<!-- Build -->
<clipPath id="c1"><path d="M112.7,325.1 L114.0,327.6 L115.3,330.1 L116.7,332.6 L118.2,335.1 L119.7,337.5 L121.1,339.9 L122.6,342.3 L124.0,344.8 L125.3,347.2 L126.7,349.7 L128.1,352.1 L129.5,354.5 L130.9,357.0 L132.3,359.4 L133.8,361.8 L135.3,364.2 L136.9,366.5 L138.5,368.9 L140.2,371.2 L141.8,373.5 L143.5,375.8 L145.2,378.1 L146.9,380.4 L148.7,382.7 L150.5,385.0 L152.4,387.2 L154.3,389.3 L156.3,391.4 L158.5,393.3 L160.7,395.2 L162.9,397.0 L165.2,398.7 L167.6,400.4 L170.0,402.0 L172.4,403.6 L174.8,405.2 L177.3,406.7 L179.7,408.1 L182.3,409.6 L184.8,410.9 L187.4,412.2 L190.0,413.5 L192.6,414.7 L195.2,415.9 L197.9,417.0 L200.5,418.1 L203.2,419.2 L205.9,420.1 L208.7,421.1 L211.4,422.0 L214.2,422.8 L216.9,423.6 L219.7,424.3 L222.5,425.0 L225.3,410.3 L239.0,439.7 L209.6,456.3 L218.8,445.3 L215.6,444.9 L212.3,444.4 L209.1,444.0 L205.8,443.4 L202.6,442.8 L199.4,442.2 L196.1,441.5 L192.9,440.7 L189.7,439.9 L186.5,439.0 L183.3,438.1 L180.1,437.0 L176.9,435.9 L173.8,434.7 L170.7,433.4 L167.6,432.0 L164.6,430.5 L161.6,429.0 L158.7,427.3 L155.8,425.6 L153.0,423.7 L150.2,421.9 L147.5,419.9 L144.7,417.9 L142.1,415.9 L139.4,413.8 L136.8,411.6 L134.3,409.4 L131.8,407.1 L129.4,404.8 L127.0,402.4 L124.7,399.9 L122.4,397.4 L120.2,394.9 L118.0,392.3 L115.9,389.7 L113.8,387.1 L111.8,384.4 L109.9,381.6 L108.1,378.7 L106.5,375.8 L105.0,372.8 L103.5,369.8 L102.1,366.7 L100.7,363.7 L99.2,360.7 L97.8,357.7 L96.4,354.7 L95.1,351.6 L93.8,348.6Z"/></clipPath>
<path d="M112.7,325.1 L114.0,327.6 L115.3,330.1 L116.7,332.6 L118.2,335.1 L119.7,337.5 L121.1,339.9 L122.6,342.3 L124.0,344.8 L125.3,347.2 L126.7,349.7 L128.1,352.1 L129.5,354.5 L130.9,357.0 L132.3,359.4 L133.8,361.8 L135.3,364.2 L136.9,366.5 L138.5,368.9 L140.2,371.2 L141.8,373.5 L143.5,375.8 L145.2,378.1 L146.9,380.4 L148.7,382.7 L150.5,385.0 L152.4,387.2 L154.3,389.3 L156.3,391.4 L158.5,393.3 L160.7,395.2 L162.9,397.0 L165.2,398.7 L167.6,400.4 L170.0,402.0 L172.4,403.6 L174.8,405.2 L177.3,406.7 L179.7,408.1 L182.3,409.6 L184.8,410.9 L187.4,412.2 L190.0,413.5 L192.6,414.7 L195.2,415.9 L197.9,417.0 L200.5,418.1 L203.2,419.2 L205.9,420.1 L208.7,421.1 L211.4,422.0 L214.2,422.8 L216.9,423.6 L219.7,424.3 L222.5,425.0 L225.3,410.3 L239.0,439.7 L209.6,456.3 L218.8,445.3 L215.6,444.9 L212.3,444.4 L209.1,444.0 L205.8,443.4 L202.6,442.8 L199.4,442.2 L196.1,441.5 L192.9,440.7 L189.7,439.9 L186.5,439.0 L183.3,438.1 L180.1,437.0 L176.9,435.9 L173.8,434.7 L170.7,433.4 L167.6,432.0 L164.6,430.5 L161.6,429.0 L158.7,427.3 L155.8,425.6 L153.0,423.7 L150.2,421.9 L147.5,419.9 L144.7,417.9 L142.1,415.9 L139.4,413.8 L136.8,411.6 L134.3,409.4 L131.8,407.1 L129.4,404.8 L127.0,402.4 L124.7,399.9 L122.4,397.4 L120.2,394.9 L118.0,392.3 L115.9,389.7 L113.8,387.1 L111.8,384.4 L109.9,381.6 L108.1,378.7 L106.5,375.8 L105.0,372.8 L103.5,369.8 L102.1,366.7 L100.7,363.7 L99.2,360.7 L97.8,357.7 L96.4,354.7 L95.1,351.6 L93.8,348.6Z" fill="#06101a" opacity=".55" filter="url(#sh)" transform="translate(1.4,2)"/>
<g clip-path="url(#c1)">
<path d="M112.7,325.1 L114.0,327.6 L115.3,330.1 L116.7,332.6 L118.2,335.1 L119.7,337.5 L121.1,339.9 L122.6,342.3 L124.0,344.8 L125.3,347.2 L126.7,349.7 L128.1,352.1 L129.5,354.5 L130.9,357.0 L132.3,359.4 L133.8,361.8 L135.3,364.2 L136.9,366.5 L138.5,368.9 L140.2,371.2 L141.8,373.5 L143.5,375.8 L145.2,378.1 L146.9,380.4 L148.7,382.7 L150.5,385.0 L152.4,387.2 L154.3,389.3 L156.3,391.4 L158.5,393.3 L160.7,395.2 L162.9,397.0 L165.2,398.7 L167.6,400.4 L170.0,402.0 L172.4,403.6 L174.8,405.2 L177.3,406.7 L179.7,408.1 L182.3,409.6 L184.8,410.9 L187.4,412.2 L190.0,413.5 L192.6,414.7 L195.2,415.9 L197.9,417.0 L200.5,418.1 L203.2,419.2 L205.9,420.1 L208.7,421.1 L211.4,422.0 L214.2,422.8 L216.9,423.6 L219.7,424.3 L222.5,425.0 L225.3,410.3 L239.0,439.7 L209.6,456.3 L218.8,445.3 L215.6,444.9 L212.3,444.4 L209.1,444.0 L205.8,443.4 L202.6,442.8 L199.4,442.2 L196.1,441.5 L192.9,440.7 L189.7,439.9 L186.5,439.0 L183.3,438.1 L180.1,437.0 L176.9,435.9 L173.8,434.7 L170.7,433.4 L167.6,432.0 L164.6,430.5 L161.6,429.0 L158.7,427.3 L155.8,425.6 L153.0,423.7 L150.2,421.9 L147.5,419.9 L144.7,417.9 L142.1,415.9 L139.4,413.8 L136.8,411.6 L134.3,409.4 L131.8,407.1 L129.4,404.8 L127.0,402.4 L124.7,399.9 L122.4,397.4 L120.2,394.9 L118.0,392.3 L115.9,389.7 L113.8,387.1 L111.8,384.4 L109.9,381.6 L108.1,378.7 L106.5,375.8 L105.0,372.8 L103.5,369.8 L102.1,366.7 L100.7,363.7 L99.2,360.7 L97.8,357.7 L96.4,354.7 L95.1,351.6 L93.8,348.6Z" fill="#f0d4d0"/>
<path d="M131.2,314.7 L133.1,320.1 L75.0,342.9 L72.2,335.1Z" fill="#b0635c"/>
<path d="M132.8,319.3 L135.0,324.6 L77.7,349.5 L74.6,341.8Z" fill="#b0635c"/>
<path d="M134.7,323.8 L137.0,329.0 L80.7,355.9 L77.3,348.4Z" fill="#b0635c"/>
<path d="M136.7,328.3 L139.2,333.4 L83.9,362.3 L80.2,354.9Z" fill="#b0635c"/>
<path d="M138.8,332.7 L141.5,337.7 L87.3,368.6 L83.3,361.3Z" fill="#b0635c"/>
<path d="M141.1,337.0 L143.0,340.2 L89.4,372.1 L86.7,367.5Z" fill="#b0645d"/>
<path d="M142.6,339.5 L143.6,341.2 L90.3,373.7 L88.8,371.1Z" fill="#b36962"/>
<path d="M143.2,340.5 L144.5,342.6 L91.5,375.7 L89.7,372.7Z" fill="#b56c66"/>
<path d="M144.0,341.9 L145.1,343.6 L92.5,377.2 L90.9,374.7Z" fill="#b77069"/>
<path d="M144.7,342.9 L146.0,345.0 L93.8,379.2 L91.9,376.2Z" fill="#b9746d"/>
<path d="M145.5,344.3 L146.9,346.3 L95.1,381.2 L93.1,378.2Z" fill="#bc7871"/>
<path d="M146.4,345.7 L147.6,347.3 L96.1,382.6 L94.4,380.2Z" fill="#be7b75"/>
<path d="M147.1,346.7 L148.5,348.7 L97.4,384.6 L95.4,381.6Z" fill="#c07f79"/>
<path d="M148.0,348.0 L149.4,350.0 L98.8,386.5 L96.8,383.6Z" fill="#c2837d"/>
<path d="M149.0,349.3 L150.4,351.3 L100.2,388.4 L98.1,385.5Z" fill="#c58781"/>
<path d="M149.9,350.7 L151.1,352.3 L101.3,389.9 L99.5,387.5Z" fill="#c78b85"/>
<path d="M150.6,351.7 L151.9,353.3 L102.4,391.3 L100.6,388.9Z" fill="#c88e88"/>
<path d="M151.4,352.6 L152.6,354.2 L103.4,392.7 L101.6,390.3Z" fill="#ca918b"/>
<path d="M152.1,353.6 L153.6,355.5 L104.9,394.5 L102.7,391.7Z" fill="#cc958f"/>
<path d="M153.1,354.9 L154.7,356.8 L106.4,396.4 L104.2,393.6Z" fill="#ce9993"/>
<path d="M154.1,356.1 L155.4,357.7 L107.6,397.8 L105.7,395.5Z" fill="#d09c97"/>
<path d="M154.9,357.1 L156.2,358.7 L108.7,399.1 L106.8,396.8Z" fill="#d29f9a"/>
<path d="M155.7,358.0 L157.3,359.9 L110.2,400.9 L107.9,398.2Z" fill="#d4a39e"/>
<path d="M156.8,359.3 L158.4,361.1 L111.8,402.7 L109.5,400.0Z" fill="#d7a7a2"/>
<path d="M157.8,360.5 L159.5,362.3 L113.4,404.4 L111.0,401.8Z" fill="#d9aba6"/>
<path d="M158.9,361.7 L160.3,363.2 L114.6,405.8 L112.6,403.6Z" fill="#dbafaa"/>
<path d="M159.7,362.6 L161.1,364.1 L115.8,407.1 L113.8,404.9Z" fill="#ddb2ad"/>
<path d="M160.6,363.5 L162.2,365.3 L117.5,408.8 L115.0,406.2Z" fill="#dfb6b1"/>
<path d="M161.7,364.7 L163.4,366.4 L119.1,410.5 L116.7,407.9Z" fill="#e1bab5"/>
<path d="M162.8,365.9 L164.5,367.6 L120.8,412.1 L118.3,409.6Z" fill="#e3beb9"/>
<path d="M164.0,367.0 L165.4,368.4 L122.1,413.4 L120.0,411.3Z" fill="#e5c1bd"/>
<path d="M164.8,367.9 L166.6,369.6 L123.8,415.0 L121.2,412.5Z" fill="#e8c5c1"/>
<path d="M166.0,369.0 L167.8,370.7 L125.6,416.6 L123.0,414.2Z" fill="#eac9c5"/>
<path d="M167.2,370.1 L169.0,371.8 L127.3,418.2 L124.7,415.8Z" fill="#eccdc9"/>
<path d="M168.4,371.2 L170.2,372.8 L129.1,419.8 L126.4,417.4Z" fill="#efd1cd"/>
<path d="M169.6,372.3 L173.9,376.0 L134.5,424.4 L128.2,419.0Z" fill="#f0d4d0"/>
<path d="M173.3,375.5 L177.8,379.0 L140.1,428.8 L133.6,423.6Z" fill="#f0d4d0"/>
<path d="M177.1,378.5 L181.7,381.9 L145.9,433.0 L139.2,428.1Z" fill="#f0d4d0"/>
<path d="M181.1,381.4 L183.1,382.8 L147.8,434.3 L144.9,432.3Z" fill="#efd3cf"/>
<path d="M182.4,382.3 L184.1,383.5 L149.3,435.3 L146.8,433.6Z" fill="#edcfca"/>
<path d="M183.4,383.0 L185.1,384.2 L150.8,436.3 L148.3,434.7Z" fill="#ebcbc7"/>
<path d="M184.4,383.7 L186.1,384.8 L152.3,437.3 L149.8,435.6Z" fill="#e9c7c3"/>
<path d="M185.4,384.4 L187.1,385.5 L153.8,438.2 L151.3,436.6Z" fill="#e7c4bf"/>
<path d="M186.5,385.0 L188.2,386.1 L155.3,439.2 L152.8,437.6Z" fill="#e5c0bc"/>
<path d="M187.5,385.7 L189.2,386.8 L156.8,440.1 L154.3,438.5Z" fill="#e3bcb8"/>
<path d="M188.5,386.3 L190.3,387.4 L158.3,441.0 L155.8,439.5Z" fill="#e1b9b4"/>
<path d="M189.6,387.0 L191.3,388.0 L159.9,441.9 L157.3,440.4Z" fill="#dfb5b0"/>
<path d="M190.6,387.6 L192.4,388.6 L161.4,442.8 L158.8,441.3Z" fill="#ddb1ad"/>
<path d="M191.7,388.2 L193.4,389.2 L162.9,443.7 L160.4,442.2Z" fill="#dbaea9"/>
<path d="M192.7,388.8 L194.5,389.8 L164.5,444.6 L161.9,443.1Z" fill="#d9aaa5"/>
<path d="M193.8,389.4 L195.6,390.4 L166.1,445.4 L163.5,444.0Z" fill="#d7a7a1"/>
<path d="M194.9,390.0 L196.6,391.0 L167.6,446.2 L165.0,444.8Z" fill="#d5a39e"/>
<path d="M195.9,390.6 L197.7,391.5 L169.2,447.1 L166.6,445.7Z" fill="#d39f9a"/>
<path d="M197.0,391.2 L198.8,392.1 L170.8,447.9 L168.2,446.5Z" fill="#d19c96"/>
<path d="M198.1,391.7 L199.9,392.6 L172.4,448.7 L169.7,447.3Z" fill="#cf9892"/>
<path d="M199.2,392.3 L201.0,393.2 L174.0,449.4 L171.3,448.1Z" fill="#cd948f"/>
<path d="M200.3,392.8 L202.1,393.7 L175.6,450.2 L172.9,448.9Z" fill="#cb918b"/>
<path d="M201.4,393.3 L203.2,394.2 L177.2,450.9 L174.5,449.7Z" fill="#c98d87"/>
<path d="M202.5,393.9 L204.3,394.7 L178.8,451.7 L176.1,450.4Z" fill="#c78983"/>
<path d="M203.6,394.4 L205.4,395.2 L180.5,452.4 L177.8,451.2Z" fill="#c58680"/>
<path d="M204.7,394.9 L206.6,395.7 L182.1,453.1 L179.4,451.9Z" fill="#c3827c"/>
<path d="M205.8,395.4 L207.7,396.2 L183.7,453.8 L181.0,452.6Z" fill="#c17e78"/>
<path d="M206.9,395.8 L208.8,396.6 L185.4,454.5 L182.6,453.3Z" fill="#bf7b74"/>
<path d="M208.1,396.3 L210.0,397.1 L187.0,455.1 L184.3,454.0Z" fill="#bd7771"/>
<path d="M209.2,396.8 L211.1,397.5 L188.7,455.8 L185.9,454.7Z" fill="#bb746d"/>
<path d="M210.3,397.2 L212.2,397.9 L190.4,456.4 L187.6,455.3Z" fill="#b97069"/>
<path d="M211.5,397.7 L213.4,398.4 L192.0,457.0 L189.3,456.0Z" fill="#b76c65"/>
<path d="M212.6,398.1 L214.5,398.8 L193.7,457.6 L190.9,456.6Z" fill="#b56962"/>
<path d="M213.8,398.5 L219.2,400.3 L200.5,459.9 L192.6,457.2Z" fill="#b3655e"/>
<path d="M218.4,400.1 L223.8,401.7 L207.3,461.9 L199.3,459.5Z" fill="#b3655e"/>
<path d="M223.1,401.5 L228.6,402.9 L214.2,463.7 L206.1,461.6Z" fill="#b3655e"/>
<path d="M227.8,402.7 L233.3,404.0 L221.1,465.2 L213.0,463.4Z" fill="#b3655e"/>
<path d="M232.5,403.8 L238.1,404.8 L228.1,466.4 L220.0,464.9Z" fill="#b3655e"/>
<path d="M237.3,404.7 L243.0,405.5 L235.2,467.5 L227.0,466.2Z" fill="#b3655e"/>
<path d="M242.2,405.4 L247.8,406.0 L242.3,468.2 L234.0,467.3Z" fill="#b3655e"/>
<path d="M112.7,325.1 L114.0,327.6 L115.3,330.1 L116.7,332.6 L118.2,335.1 L119.7,337.5 L121.1,339.9 L122.6,342.3 L124.0,344.8 L125.3,347.2 L126.7,349.7 L128.1,352.1 L129.5,354.5 L130.9,357.0 L132.3,359.4 L133.8,361.8 L135.3,364.2 L136.9,366.5 L138.5,368.9 L140.2,371.2 L141.8,373.5 L143.5,375.8 L145.2,378.1 L146.9,380.4 L148.7,382.7 L150.5,385.0 L152.4,387.2 L154.3,389.3 L156.3,391.4 L158.5,393.3 L160.7,395.2 L162.9,397.0 L165.2,398.7 L167.6,400.4 L170.0,402.0 L172.4,403.6 L174.8,405.2 L177.3,406.7 L179.7,408.1 L182.3,409.6 L184.8,410.9 L187.4,412.2 L190.0,413.5 L192.6,414.7 L195.2,415.9 L197.9,417.0 L200.5,418.1 L203.2,419.2 L205.9,420.1 L208.7,421.1 L211.4,422.0 L214.2,422.8 L216.9,423.6 L219.7,424.3 L222.5,425.0 L225.3,410.3 L239.0,439.7 L209.6,456.3 L218.8,445.3 L215.6,444.9 L212.3,444.4 L209.1,444.0 L205.8,443.4 L202.6,442.8 L199.4,442.2 L196.1,441.5 L192.9,440.7 L189.7,439.9 L186.5,439.0 L183.3,438.1 L180.1,437.0 L176.9,435.9 L173.8,434.7 L170.7,433.4 L167.6,432.0 L164.6,430.5 L161.6,429.0 L158.7,427.3 L155.8,425.6 L153.0,423.7 L150.2,421.9 L147.5,419.9 L144.7,417.9 L142.1,415.9 L139.4,413.8 L136.8,411.6 L134.3,409.4 L131.8,407.1 L129.4,404.8 L127.0,402.4 L124.7,399.9 L122.4,397.4 L120.2,394.9 L118.0,392.3 L115.9,389.7 L113.8,387.1 L111.8,384.4 L109.9,381.6 L108.1,378.7 L106.5,375.8 L105.0,372.8 L103.5,369.8 L102.1,366.7 L100.7,363.7 L99.2,360.7 L97.8,357.7 L96.4,354.7 L95.1,351.6 L93.8,348.6Z" fill="none" stroke="#000" stroke-opacity=".12" stroke-width="1.2"/>
</g>
<!-- Continuous -->
<clipPath id="c2"><path d="M282.4,422.6 L285.1,422.0 L287.8,421.2 L290.5,420.4 L293.1,419.6 L295.7,418.7 L298.4,417.8 L301.0,416.9 L303.5,415.9 L306.1,415.0 L308.7,414.0 L311.3,413.1 L313.9,412.2 L316.5,411.3 L319.1,410.3 L321.6,409.4 L324.2,408.4 L326.7,407.3 L329.3,406.2 L331.8,405.0 L334.2,403.8 L336.7,402.5 L339.1,401.2 L341.5,399.8 L343.9,398.5 L346.3,397.0 L348.7,395.5 L351.0,394.0 L353.3,392.4 L355.5,390.8 L357.8,389.2 L360.0,387.5 L362.2,385.7 L364.3,383.9 L366.5,382.1 L368.8,380.1 L371.1,378.1 L373.4,376.1 L375.7,374.2 L378.0,372.2 L380.2,370.2 L382.5,368.2 L384.7,366.1 L387.0,364.1 L389.2,362.0 L391.4,359.9 L393.6,357.9 L395.8,355.8 L398.0,353.7 L400.2,351.6 L402.4,349.6 L404.6,347.5 L406.8,345.4 L409.1,343.4 L411.3,341.3 L413.5,339.3 L415.7,337.2 L418.0,335.2 L420.2,333.1 L422.5,331.1 L424.7,329.0 L426.9,327.0 L429.2,325.0 L431.5,323.0 L433.7,321.0 L436.0,319.0 L438.3,317.0 L440.6,315.0 L426.4,307.7 L471.4,296.7 L460.8,343.5 L456.2,329.2 L454.3,331.6 L452.5,334.1 L450.6,336.5 L448.7,338.9 L446.8,341.3 L444.9,343.7 L442.9,346.0 L441.0,348.4 L439.0,350.7 L437.0,353.0 L435.0,355.3 L433.0,357.6 L431.0,359.9 L429.0,362.2 L426.9,364.4 L424.9,366.7 L422.8,368.9 L420.8,371.2 L418.7,373.4 L416.6,375.6 L414.6,377.8 L412.5,380.0 L410.4,382.2 L408.3,384.4 L406.2,386.6 L404.1,388.8 L402.0,391.1 L399.9,393.3 L397.8,395.5 L395.8,397.7 L393.6,399.8 L391.5,402.0 L389.4,404.1 L387.1,406.3 L384.7,408.6 L382.2,410.9 L379.7,413.1 L377.1,415.3 L374.5,417.4 L371.8,419.5 L369.1,421.5 L366.3,423.4 L363.6,425.4 L360.8,427.2 L357.9,429.0 L355.0,430.8 L352.1,432.5 L349.2,434.2 L346.2,435.9 L343.3,437.4 L340.3,439.0 L337.2,440.4 L334.1,441.9 L331.0,443.2 L327.9,444.5 L324.7,445.7 L321.5,446.8 L318.3,447.9 L315.1,448.9 L311.8,449.8 L308.6,450.7 L305.3,451.5 L302.0,452.2 L298.7,452.9 L295.4,453.5 L292.0,454.0 L288.7,454.5 L285.3,454.9 L282.0,455.2 L278.6,455.5 L275.3,455.7 L271.9,455.9 L268.5,456.0 L265.2,456.1 L261.8,456.0 L258.4,456.0 L255.1,455.8 L251.7,455.6 L248.4,455.4 L251.9,451.6 L255.7,447.8 L259.8,443.9 L264.0,440.0 L268.4,435.8 L273.0,431.6 L277.7,427.2Z"/></clipPath>
<path d="M282.4,422.6 L285.1,422.0 L287.8,421.2 L290.5,420.4 L293.1,419.6 L295.7,418.7 L298.4,417.8 L301.0,416.9 L303.5,415.9 L306.1,415.0 L308.7,414.0 L311.3,413.1 L313.9,412.2 L316.5,411.3 L319.1,410.3 L321.6,409.4 L324.2,408.4 L326.7,407.3 L329.3,406.2 L331.8,405.0 L334.2,403.8 L336.7,402.5 L339.1,401.2 L341.5,399.8 L343.9,398.5 L346.3,397.0 L348.7,395.5 L351.0,394.0 L353.3,392.4 L355.5,390.8 L357.8,389.2 L360.0,387.5 L362.2,385.7 L364.3,383.9 L366.5,382.1 L368.8,380.1 L371.1,378.1 L373.4,376.1 L375.7,374.2 L378.0,372.2 L380.2,370.2 L382.5,368.2 L384.7,366.1 L387.0,364.1 L389.2,362.0 L391.4,359.9 L393.6,357.9 L395.8,355.8 L398.0,353.7 L400.2,351.6 L402.4,349.6 L404.6,347.5 L406.8,345.4 L409.1,343.4 L411.3,341.3 L413.5,339.3 L415.7,337.2 L418.0,335.2 L420.2,333.1 L422.5,331.1 L424.7,329.0 L426.9,327.0 L429.2,325.0 L431.5,323.0 L433.7,321.0 L436.0,319.0 L438.3,317.0 L440.6,315.0 L426.4,307.7 L471.4,296.7 L460.8,343.5 L456.2,329.2 L454.3,331.6 L452.5,334.1 L450.6,336.5 L448.7,338.9 L446.8,341.3 L444.9,343.7 L442.9,346.0 L441.0,348.4 L439.0,350.7 L437.0,353.0 L435.0,355.3 L433.0,357.6 L431.0,359.9 L429.0,362.2 L426.9,364.4 L424.9,366.7 L422.8,368.9 L420.8,371.2 L418.7,373.4 L416.6,375.6 L414.6,377.8 L412.5,380.0 L410.4,382.2 L408.3,384.4 L406.2,386.6 L404.1,388.8 L402.0,391.1 L399.9,393.3 L397.8,395.5 L395.8,397.7 L393.6,399.8 L391.5,402.0 L389.4,404.1 L387.1,406.3 L384.7,408.6 L382.2,410.9 L379.7,413.1 L377.1,415.3 L374.5,417.4 L371.8,419.5 L369.1,421.5 L366.3,423.4 L363.6,425.4 L360.8,427.2 L357.9,429.0 L355.0,430.8 L352.1,432.5 L349.2,434.2 L346.2,435.9 L343.3,437.4 L340.3,439.0 L337.2,440.4 L334.1,441.9 L331.0,443.2 L327.9,444.5 L324.7,445.7 L321.5,446.8 L318.3,447.9 L315.1,448.9 L311.8,449.8 L308.6,450.7 L305.3,451.5 L302.0,452.2 L298.7,452.9 L295.4,453.5 L292.0,454.0 L288.7,454.5 L285.3,454.9 L282.0,455.2 L278.6,455.5 L275.3,455.7 L271.9,455.9 L268.5,456.0 L265.2,456.1 L261.8,456.0 L258.4,456.0 L255.1,455.8 L251.7,455.6 L248.4,455.4 L251.9,451.6 L255.7,447.8 L259.8,443.9 L264.0,440.0 L268.4,435.8 L273.0,431.6 L277.7,427.2Z" fill="#06101a" opacity=".55" filter="url(#sh)" transform="translate(1.4,2)"/>
<g clip-path="url(#c2)">
<path d="M282.4,422.6 L285.1,422.0 L287.8,421.2 L290.5,420.4 L293.1,419.6 L295.7,418.7 L298.4,417.8 L301.0,416.9 L303.5,415.9 L306.1,415.0 L308.7,414.0 L311.3,413.1 L313.9,412.2 L316.5,411.3 L319.1,410.3 L321.6,409.4 L324.2,408.4 L326.7,407.3 L329.3,406.2 L331.8,405.0 L334.2,403.8 L336.7,402.5 L339.1,401.2 L341.5,399.8 L343.9,398.5 L346.3,397.0 L348.7,395.5 L351.0,394.0 L353.3,392.4 L355.5,390.8 L357.8,389.2 L360.0,387.5 L362.2,385.7 L364.3,383.9 L366.5,382.1 L368.8,380.1 L371.1,378.1 L373.4,376.1 L375.7,374.2 L378.0,372.2 L380.2,370.2 L382.5,368.2 L384.7,366.1 L387.0,364.1 L389.2,362.0 L391.4,359.9 L393.6,357.9 L395.8,355.8 L398.0,353.7 L400.2,351.6 L402.4,349.6 L404.6,347.5 L406.8,345.4 L409.1,343.4 L411.3,341.3 L413.5,339.3 L415.7,337.2 L418.0,335.2 L420.2,333.1 L422.5,331.1 L424.7,329.0 L426.9,327.0 L429.2,325.0 L431.5,323.0 L433.7,321.0 L436.0,319.0 L438.3,317.0 L440.6,315.0 L426.4,307.7 L471.4,296.7 L460.8,343.5 L456.2,329.2 L454.3,331.6 L452.5,334.1 L450.6,336.5 L448.7,338.9 L446.8,341.3 L444.9,343.7 L442.9,346.0 L441.0,348.4 L439.0,350.7 L437.0,353.0 L435.0,355.3 L433.0,357.6 L431.0,359.9 L429.0,362.2 L426.9,364.4 L424.9,366.7 L422.8,368.9 L420.8,371.2 L418.7,373.4 L416.6,375.6 L414.6,377.8 L412.5,380.0 L410.4,382.2 L408.3,384.4 L406.2,386.6 L404.1,388.8 L402.0,391.1 L399.9,393.3 L397.8,395.5 L395.8,397.7 L393.6,399.8 L391.5,402.0 L389.4,404.1 L387.1,406.3 L384.7,408.6 L382.2,410.9 L379.7,413.1 L377.1,415.3 L374.5,417.4 L371.8,419.5 L369.1,421.5 L366.3,423.4 L363.6,425.4 L360.8,427.2 L357.9,429.0 L355.0,430.8 L352.1,432.5 L349.2,434.2 L346.2,435.9 L343.3,437.4 L340.3,439.0 L337.2,440.4 L334.1,441.9 L331.0,443.2 L327.9,444.5 L324.7,445.7 L321.5,446.8 L318.3,447.9 L315.1,448.9 L311.8,449.8 L308.6,450.7 L305.3,451.5 L302.0,452.2 L298.7,452.9 L295.4,453.5 L292.0,454.0 L288.7,454.5 L285.3,454.9 L282.0,455.2 L278.6,455.5 L275.3,455.7 L271.9,455.9 L268.5,456.0 L265.2,456.1 L261.8,456.0 L258.4,456.0 L255.1,455.8 L251.7,455.6 L248.4,455.4 L251.9,451.6 L255.7,447.8 L259.8,443.9 L264.0,440.0 L268.4,435.8 L273.0,431.6 L277.7,427.2Z" fill="#bbd3e8"/>
<path d="M248.3,405.1 L253.9,405.4 L251.1,469.8 L242.7,469.3Z" fill="#276ba4"/>
<path d="M253.1,405.4 L258.8,405.6 L258.2,470.0 L249.9,469.8Z" fill="#276ba4"/>
<path d="M258.0,405.6 L263.6,405.5 L265.4,469.9 L257.0,470.0Z" fill="#276ba4"/>
<path d="M262.8,405.6 L268.5,405.3 L272.5,469.6 L264.2,470.0Z" fill="#276ba4"/>
<path d="M267.7,405.4 L273.3,404.9 L279.6,469.0 L271.3,469.7Z" fill="#276ba4"/>
<path d="M272.5,405.0 L278.1,404.4 L286.7,468.2 L278.5,469.2Z" fill="#276ba4"/>
<path d="M277.3,404.5 L282.9,403.6 L293.8,467.1 L285.6,468.4Z" fill="#276ba4"/>
<path d="M282.1,403.8 L287.7,402.7 L300.8,465.8 L292.6,467.3Z" fill="#276ba4"/>
<path d="M286.9,402.9 L292.4,401.6 L307.8,464.2 L299.7,466.0Z" fill="#276ba4"/>
<path d="M291.6,401.8 L297.1,400.4 L314.7,462.4 L306.7,464.5Z" fill="#276ba4"/>
<path d="M296.3,400.6 L301.7,399.0 L321.6,460.3 L313.6,462.7Z" fill="#276ba4"/>
<path d="M300.9,399.2 L306.3,397.4 L328.3,458.0 L320.4,460.7Z" fill="#276ba4"/>
<path d="M305.5,397.7 L310.8,395.7 L335.0,455.4 L327.2,458.4Z" fill="#276ba4"/>
<path d="M310.1,396.0 L311.9,395.2 L336.7,454.7 L333.9,455.8Z" fill="#2a6da5"/>
<path d="M311.2,395.5 L313.1,394.7 L338.3,454.0 L335.6,455.2Z" fill="#2d6fa7"/>
<path d="M312.3,395.1 L314.2,394.3 L340.0,453.3 L337.2,454.5Z" fill="#3172a8"/>
<path d="M313.4,394.6 L315.3,393.8 L341.6,452.6 L338.9,453.8Z" fill="#3474aa"/>
<path d="M314.5,394.1 L316.4,393.3 L343.2,451.8 L340.5,453.1Z" fill="#3877ac"/>
<path d="M315.6,393.6 L317.5,392.8 L344.9,451.1 L342.1,452.3Z" fill="#3b79ad"/>
<path d="M316.7,393.1 L318.6,392.2 L346.5,450.3 L343.8,451.6Z" fill="#3f7caf"/>
<path d="M317.8,392.6 L320.0,391.5 L348.6,449.3 L345.4,450.8Z" fill="#437fb1"/>
<path d="M319.3,391.9 L321.1,391.0 L350.2,448.5 L347.5,449.8Z" fill="#4781b3"/>
<path d="M320.4,391.4 L322.2,390.4 L351.8,447.7 L349.1,449.0Z" fill="#4b84b4"/>
<path d="M321.5,390.8 L323.3,389.9 L353.4,446.8 L350.7,448.2Z" fill="#4e86b6"/>
<path d="M322.5,390.3 L324.3,389.3 L355.0,446.0 L352.3,447.4Z" fill="#5289b8"/>
<path d="M323.6,389.7 L325.4,388.7 L356.5,445.1 L353.9,446.6Z" fill="#558bb9"/>
<path d="M324.7,389.1 L326.4,388.1 L358.1,444.3 L355.5,445.7Z" fill="#598ebb"/>
<path d="M325.7,388.5 L327.8,387.3 L360.2,443.1 L357.1,444.9Z" fill="#5d91bd"/>
<path d="M327.1,387.7 L328.9,386.7 L361.7,442.2 L359.1,443.7Z" fill="#6194bf"/>
<path d="M328.2,387.1 L329.9,386.1 L363.2,441.3 L360.7,442.8Z" fill="#6596c0"/>
<path d="M329.2,386.5 L331.0,385.5 L364.8,440.3 L362.2,441.9Z" fill="#6899c2"/>
<path d="M330.3,385.9 L332.0,384.8 L366.3,439.4 L363.8,441.0Z" fill="#6c9bc4"/>
<path d="M331.3,385.3 L333.0,384.2 L367.8,438.4 L365.3,440.0Z" fill="#6f9ec5"/>
<path d="M332.3,384.6 L334.0,383.5 L369.3,437.5 L366.8,439.1Z" fill="#73a0c7"/>
<path d="M333.4,384.0 L335.0,382.9 L370.8,436.5 L368.3,438.1Z" fill="#76a3c8"/>
<path d="M334.4,383.3 L336.1,382.2 L372.3,435.5 L369.8,437.1Z" fill="#7aa5ca"/>
<path d="M335.4,382.6 L337.4,381.3 L374.2,434.1 L371.3,436.1Z" fill="#7ea8cc"/>
<path d="M336.7,381.7 L338.4,380.6 L375.7,433.1 L373.3,434.8Z" fill="#82abce"/>
<path d="M337.7,381.0 L339.4,379.9 L377.2,432.0 L374.7,433.8Z" fill="#86adcf"/>
<path d="M338.7,380.3 L340.3,379.1 L378.6,431.0 L376.2,432.7Z" fill="#89b0d1"/>
<path d="M339.7,379.6 L341.3,378.4 L380.0,429.9 L377.6,431.7Z" fill="#8db2d3"/>
<path d="M340.7,378.9 L342.3,377.7 L381.5,428.8 L379.1,430.6Z" fill="#90b5d4"/>
<path d="M341.6,378.2 L343.2,376.9 L382.9,427.7 L380.5,429.6Z" fill="#94b7d6"/>
<path d="M342.6,377.4 L344.5,375.9 L384.7,426.3 L381.9,428.5Z" fill="#98bad8"/>
<path d="M343.9,376.5 L345.4,375.2 L386.1,425.1 L383.8,427.0Z" fill="#9cbdda"/>
<path d="M344.8,375.7 L346.4,374.4 L387.5,424.0 L385.2,425.9Z" fill="#a0c0db"/>
<path d="M345.8,374.9 L347.3,373.6 L388.9,422.9 L386.6,424.8Z" fill="#a3c2dd"/>
<path d="M346.7,374.2 L348.2,372.9 L390.2,421.7 L388.0,423.6Z" fill="#a7c5df"/>
<path d="M347.6,373.4 L349.1,372.1 L391.6,420.5 L389.3,422.5Z" fill="#aac7e0"/>
<path d="M348.5,372.6 L350.0,371.3 L392.9,419.3 L390.7,421.3Z" fill="#aecae2"/>
<path d="M349.4,371.8 L350.9,370.4 L394.3,418.1 L392.0,420.1Z" fill="#b1cce4"/>
<path d="M350.4,371.0 L351.8,369.6 L395.6,416.9 L393.4,418.9Z" fill="#b5cfe5"/>
<path d="M351.2,370.2 L353.1,368.5 L397.3,415.4 L394.7,417.7Z" fill="#b9d1e7"/>
<path d="M352.4,369.1 L354.2,367.4 L398.4,414.4 L396.5,416.1Z" fill="#bdd4e9"/>
<path d="M353.5,368.1 L355.3,366.4 L399.4,413.3 L397.6,415.0Z" fill="#c1d7eb"/>
<path d="M354.6,367.1 L356.4,365.4 L400.5,412.3 L398.7,414.0Z" fill="#c4d9ec"/>
<path d="M355.6,366.1 L360.7,361.3 L404.9,408.2 L399.8,413.0Z" fill="#c8dcee"/>
<path d="M360.0,361.9 L365.1,357.1 L409.3,404.1 L404.2,408.9Z" fill="#c7dbee"/>
<path d="M364.4,357.8 L369.5,353.0 L413.6,400.0 L408.5,404.8Z" fill="#c7dbee"/>
<path d="M368.8,353.7 L373.8,348.9 L418.0,395.8 L412.9,400.6Z" fill="#c6dbee"/>
<path d="M373.1,349.6 L378.2,344.8 L422.4,391.7 L417.3,396.5Z" fill="#c6daed"/>
<path d="M377.5,345.5 L382.6,340.7 L426.7,387.6 L421.7,392.4Z" fill="#c5daed"/>
<path d="M381.9,341.4 L387.0,336.6 L431.1,383.5 L426.0,388.3Z" fill="#c5d9ed"/>
<path d="M386.2,337.3 L389.9,333.8 L434.0,380.8 L430.4,384.2Z" fill="#c4d9ed"/>
<path d="M389.1,334.5 L390.6,333.2 L434.8,380.1 L433.3,381.5Z" fill="#bed5ea"/>
<path d="M389.9,333.8 L391.3,332.5 L435.5,379.4 L434.0,380.8Z" fill="#bbd3e9"/>
<path d="M390.6,333.2 L392.1,331.8 L436.2,378.7 L434.8,380.1Z" fill="#b8d1e7"/>
<path d="M391.3,332.5 L392.8,331.1 L436.9,378.0 L435.5,379.4Z" fill="#b5cee6"/>
<path d="M392.1,331.8 L393.5,330.4 L437.7,377.3 L436.2,378.7Z" fill="#b2cce5"/>
<path d="M392.8,331.1 L394.2,329.7 L438.4,376.7 L436.9,378.0Z" fill="#afcae3"/>
<path d="M393.5,330.4 L395.0,329.0 L439.1,376.0 L437.7,377.3Z" fill="#acc8e2"/>
<path d="M394.2,329.7 L395.7,328.4 L439.9,375.3 L438.4,376.7Z" fill="#a9c6e1"/>
<path d="M395.0,329.0 L396.4,327.7 L440.6,374.6 L439.1,376.0Z" fill="#a6c4df"/>
<path d="M395.7,328.4 L397.1,327.0 L441.3,373.9 L439.9,375.3Z" fill="#a3c2de"/>
<path d="M396.4,327.7 L397.9,326.3 L442.0,373.2 L440.6,374.6Z" fill="#a0c0dc"/>
<path d="M397.1,327.0 L399.0,325.3 L443.1,372.2 L441.3,373.9Z" fill="#9dbddb"/>
<path d="M398.2,326.0 L399.7,324.6 L443.9,371.5 L442.4,372.9Z" fill="#99bad9"/>
<path d="M399.0,325.3 L400.4,323.9 L444.6,370.8 L443.1,372.2Z" fill="#96b8d8"/>
<path d="M399.7,324.6 L401.2,323.2 L445.3,370.1 L443.9,371.5Z" fill="#93b6d6"/>
<path d="M400.4,323.9 L401.9,322.5 L446.0,369.5 L444.6,370.8Z" fill="#90b4d5"/>
<path d="M401.2,323.2 L402.6,321.9 L446.8,368.8 L445.3,370.1Z" fill="#8db2d3"/>
<path d="M401.9,322.5 L403.3,321.2 L447.5,368.1 L446.0,369.5Z" fill="#8ab0d2"/>
<path d="M402.6,321.9 L404.1,320.5 L448.2,367.4 L446.8,368.8Z" fill="#87aed1"/>
<path d="M403.3,321.2 L404.8,319.8 L449.0,366.7 L447.5,368.1Z" fill="#84abcf"/>
<path d="M404.1,320.5 L405.5,319.1 L449.7,366.0 L448.2,367.4Z" fill="#81a9ce"/>
<path d="M404.8,319.8 L406.3,318.4 L450.4,365.3 L449.0,366.7Z" fill="#7ea7cc"/>
<path d="M405.5,319.1 L407.0,317.7 L451.1,364.7 L449.7,366.0Z" fill="#7ba5cb"/>
<path d="M406.3,318.4 L407.7,317.1 L451.9,364.0 L450.4,365.3Z" fill="#78a3ca"/>
<path d="M407.0,317.7 L408.4,316.4 L452.6,363.3 L451.1,364.7Z" fill="#75a1c8"/>
<path d="M407.7,317.1 L409.2,315.7 L453.3,362.6 L451.9,364.0Z" fill="#729fc7"/>
<path d="M408.4,316.4 L409.9,315.0 L454.1,361.9 L452.6,363.3Z" fill="#6f9dc5"/>
<path d="M409.2,315.7 L411.0,314.0 L455.1,360.9 L453.3,362.6Z" fill="#6c9ac4"/>
<path d="M410.3,314.7 L411.7,313.3 L455.9,360.2 L454.4,361.6Z" fill="#6897c2"/>
<path d="M411.0,314.0 L412.4,312.6 L456.6,359.5 L455.1,360.9Z" fill="#6595c1"/>
<path d="M411.7,313.3 L413.2,311.9 L457.3,358.8 L455.9,360.2Z" fill="#6293bf"/>
<path d="M412.4,312.6 L413.9,311.2 L458.1,358.1 L456.6,359.5Z" fill="#5f91be"/>
<path d="M413.2,311.9 L414.6,310.5 L458.8,357.5 L457.3,358.8Z" fill="#5c8fbc"/>
<path d="M413.9,311.2 L415.4,309.9 L459.5,356.8 L458.1,358.1Z" fill="#598dbb"/>
<path d="M414.6,310.5 L416.1,309.2 L460.2,356.1 L458.8,357.5Z" fill="#568bba"/>
<path d="M415.4,309.9 L416.8,308.5 L461.0,355.4 L459.5,356.8Z" fill="#5388b8"/>
<path d="M416.1,309.2 L417.5,307.8 L461.7,354.7 L460.2,356.1Z" fill="#5086b7"/>
<path d="M416.8,308.5 L418.3,307.1 L462.4,354.0 L461.0,355.4Z" fill="#4d84b5"/>
<path d="M417.5,307.8 L419.0,306.4 L463.2,353.4 L461.7,354.7Z" fill="#4a82b4"/>
<path d="M418.3,307.1 L419.7,305.7 L463.9,352.7 L462.4,354.0Z" fill="#4780b3"/>
<path d="M419.0,306.4 L420.5,305.1 L464.6,352.0 L463.2,353.4Z" fill="#447eb1"/>
<path d="M419.7,305.7 L421.2,304.4 L465.3,351.3 L463.9,352.7Z" fill="#417cb0"/>
<path d="M420.5,305.1 L421.9,303.7 L466.1,350.6 L464.6,352.0Z" fill="#3e7aaf"/>
<path d="M421.2,304.4 L422.6,303.0 L466.8,349.9 L465.3,351.3Z" fill="#3b77ad"/>
<path d="M421.9,303.7 L423.7,302.0 L467.9,348.9 L466.1,350.6Z" fill="#3875ab"/>
<path d="M423.0,302.7 L424.5,301.3 L468.6,348.2 L467.2,349.6Z" fill="#3472aa"/>
<path d="M423.7,302.0 L425.2,300.6 L469.3,347.5 L467.9,348.9Z" fill="#3170a8"/>
<path d="M424.5,301.3 L425.9,299.9 L470.1,346.8 L468.6,348.2Z" fill="#2e6ea7"/>
<path d="M425.2,300.6 L430.3,295.8 L474.4,342.7 L469.3,347.5Z" fill="#2a6ba5"/>
<path d="M429.6,296.5 L434.7,291.7 L478.8,338.6 L473.7,343.4Z" fill="#2a6ba5"/>
<path d="M433.9,292.4 L439.0,287.6 L483.2,334.5 L478.1,339.3Z" fill="#296ba5"/>
<path d="M438.3,288.3 L443.4,283.5 L487.6,330.4 L482.5,335.2Z" fill="#296aa4"/>
<path d="M442.7,284.2 L447.8,279.4 L491.9,326.3 L486.8,331.1Z" fill="#296aa4"/>
<path d="M447.0,280.0 L452.1,275.2 L496.3,322.2 L491.2,327.0Z" fill="#286aa4"/>
<path d="M451.4,275.9 L456.5,271.1 L500.7,318.1 L495.6,322.9Z" fill="#286aa4"/>
<path d="M282.4,422.6 L285.1,422.0 L287.8,421.2 L290.5,420.4 L293.1,419.6 L295.7,418.7 L298.4,417.8 L301.0,416.9 L303.5,415.9 L306.1,415.0 L308.7,414.0 L311.3,413.1 L313.9,412.2 L316.5,411.3 L319.1,410.3 L321.6,409.4 L324.2,408.4 L326.7,407.3 L329.3,406.2 L331.8,405.0 L334.2,403.8 L336.7,402.5 L339.1,401.2 L341.5,399.8 L343.9,398.5 L346.3,397.0 L348.7,395.5 L351.0,394.0 L353.3,392.4 L355.5,390.8 L357.8,389.2 L360.0,387.5 L362.2,385.7 L364.3,383.9 L366.5,382.1 L368.8,380.1 L371.1,378.1 L373.4,376.1 L375.7,374.2 L378.0,372.2 L380.2,370.2 L382.5,368.2 L384.7,366.1 L387.0,364.1 L389.2,362.0 L391.4,359.9 L393.6,357.9 L395.8,355.8 L398.0,353.7 L400.2,351.6 L402.4,349.6 L404.6,347.5 L406.8,345.4 L409.1,343.4 L411.3,341.3 L413.5,339.3 L415.7,337.2 L418.0,335.2 L420.2,333.1 L422.5,331.1 L424.7,329.0 L426.9,327.0 L429.2,325.0 L431.5,323.0 L433.7,321.0 L436.0,319.0 L438.3,317.0 L440.6,315.0 L426.4,307.7 L471.4,296.7 L460.8,343.5 L456.2,329.2 L454.3,331.6 L452.5,334.1 L450.6,336.5 L448.7,338.9 L446.8,341.3 L444.9,343.7 L442.9,346.0 L441.0,348.4 L439.0,350.7 L437.0,353.0 L435.0,355.3 L433.0,357.6 L431.0,359.9 L429.0,362.2 L426.9,364.4 L424.9,366.7 L422.8,368.9 L420.8,371.2 L418.7,373.4 L416.6,375.6 L414.6,377.8 L412.5,380.0 L410.4,382.2 L408.3,384.4 L406.2,386.6 L404.1,388.8 L402.0,391.1 L399.9,393.3 L397.8,395.5 L395.8,397.7 L393.6,399.8 L391.5,402.0 L389.4,404.1 L387.1,406.3 L384.7,408.6 L382.2,410.9 L379.7,413.1 L377.1,415.3 L374.5,417.4 L371.8,419.5 L369.1,421.5 L366.3,423.4 L363.6,425.4 L360.8,427.2 L357.9,429.0 L355.0,430.8 L352.1,432.5 L349.2,434.2 L346.2,435.9 L343.3,437.4 L340.3,439.0 L337.2,440.4 L334.1,441.9 L331.0,443.2 L327.9,444.5 L324.7,445.7 L321.5,446.8 L318.3,447.9 L315.1,448.9 L311.8,449.8 L308.6,450.7 L305.3,451.5 L302.0,452.2 L298.7,452.9 L295.4,453.5 L292.0,454.0 L288.7,454.5 L285.3,454.9 L282.0,455.2 L278.6,455.5 L275.3,455.7 L271.9,455.9 L268.5,456.0 L265.2,456.1 L261.8,456.0 L258.4,456.0 L255.1,455.8 L251.7,455.6 L248.4,455.4 L251.9,451.6 L255.7,447.8 L259.8,443.9 L264.0,440.0 L268.4,435.8 L273.0,431.6 L277.7,427.2Z" fill="none" stroke="#000" stroke-opacity=".12" stroke-width="1.2"/>
</g>
<!-- Integration -->
<clipPath id="c3"><path d="M526.3,226.6 L528.5,224.5 L530.8,222.5 L533.0,220.4 L535.3,218.4 L537.5,216.3 L539.7,214.2 L542.0,212.2 L544.2,210.1 L546.5,208.1 L548.7,206.0 L551.0,203.9 L553.2,201.9 L555.4,199.8 L557.7,197.8 L559.9,195.7 L562.2,193.7 L564.4,191.6 L566.7,189.5 L568.9,187.5 L571.2,185.4 L573.5,183.4 L575.7,181.4 L578.0,179.3 L580.3,177.3 L582.6,175.3 L584.9,173.3 L587.2,171.3 L589.5,169.4 L591.9,167.4 L594.2,165.4 L596.5,163.5 L598.9,161.5 L601.2,159.6 L603.6,157.6 L605.9,155.7 L608.3,153.7 L610.6,151.8 L612.9,149.8 L615.3,147.9 L617.6,145.9 L620.0,144.0 L622.4,142.1 L624.8,140.1 L627.4,138.1 L630.1,136.2 L632.7,134.3 L635.6,132.7 L638.5,131.2 L641.3,129.5 L644.1,127.8 L646.8,126.2 L649.6,124.5 L652.4,122.9 L655.2,121.4 L658.0,119.8 L660.9,118.4 L663.7,116.9 L666.6,115.6 L669.5,114.2 L672.5,113.0 L664.0,107.7 L713.1,104.9 L691.6,139.5 L688.5,131.6 L686.2,133.2 L683.9,134.8 L681.6,136.4 L679.3,137.9 L677.0,139.4 L674.7,140.9 L672.5,142.4 L670.2,143.9 L667.9,145.3 L665.6,146.8 L663.3,148.2 L661.1,149.8 L658.8,151.3 L656.6,152.9 L654.4,154.5 L652.3,156.2 L650.1,157.9 L648.0,159.6 L645.9,161.4 L643.8,163.2 L641.4,165.2 L639.1,167.2 L636.7,169.1 L634.4,171.0 L632.0,173.0 L629.7,175.0 L627.4,177.0 L625.2,179.1 L622.9,181.1 L620.6,183.1 L618.4,185.2 L616.1,187.2 L613.8,189.3 L611.6,191.3 L609.3,193.4 L607.1,195.4 L604.8,197.5 L602.6,199.6 L600.4,201.6 L598.1,203.7 L595.9,205.8 L593.7,207.9 L591.5,210.0 L589.2,212.0 L587.0,214.1 L584.8,216.2 L582.5,218.3 L580.3,220.4 L578.1,222.4 L575.8,224.5 L573.6,226.5 L571.3,228.6 L569.1,230.6 L566.8,232.7 L564.5,234.7 L562.3,236.8 L560.0,238.8 L557.7,240.8 L555.5,242.9 L553.2,244.9 L550.9,247.0 L548.7,249.0Z"/></clipPath>
<path d="M526.3,226.6 L528.5,224.5 L530.8,222.5 L533.0,220.4 L535.3,218.4 L537.5,216.3 L539.7,214.2 L542.0,212.2 L544.2,210.1 L546.5,208.1 L548.7,206.0 L551.0,203.9 L553.2,201.9 L555.4,199.8 L557.7,197.8 L559.9,195.7 L562.2,193.7 L564.4,191.6 L566.7,189.5 L568.9,187.5 L571.2,185.4 L573.5,183.4 L575.7,181.4 L578.0,179.3 L580.3,177.3 L582.6,175.3 L584.9,173.3 L587.2,171.3 L589.5,169.4 L591.9,167.4 L594.2,165.4 L596.5,163.5 L598.9,161.5 L601.2,159.6 L603.6,157.6 L605.9,155.7 L608.3,153.7 L610.6,151.8 L612.9,149.8 L615.3,147.9 L617.6,145.9 L620.0,144.0 L622.4,142.1 L624.8,140.1 L627.4,138.1 L630.1,136.2 L632.7,134.3 L635.6,132.7 L638.5,131.2 L641.3,129.5 L644.1,127.8 L646.8,126.2 L649.6,124.5 L652.4,122.9 L655.2,121.4 L658.0,119.8 L660.9,118.4 L663.7,116.9 L666.6,115.6 L669.5,114.2 L672.5,113.0 L664.0,107.7 L713.1,104.9 L691.6,139.5 L688.5,131.6 L686.2,133.2 L683.9,134.8 L681.6,136.4 L679.3,137.9 L677.0,139.4 L674.7,140.9 L672.5,142.4 L670.2,143.9 L667.9,145.3 L665.6,146.8 L663.3,148.2 L661.1,149.8 L658.8,151.3 L656.6,152.9 L654.4,154.5 L652.3,156.2 L650.1,157.9 L648.0,159.6 L645.9,161.4 L643.8,163.2 L641.4,165.2 L639.1,167.2 L636.7,169.1 L634.4,171.0 L632.0,173.0 L629.7,175.0 L627.4,177.0 L625.2,179.1 L622.9,181.1 L620.6,183.1 L618.4,185.2 L616.1,187.2 L613.8,189.3 L611.6,191.3 L609.3,193.4 L607.1,195.4 L604.8,197.5 L602.6,199.6 L600.4,201.6 L598.1,203.7 L595.9,205.8 L593.7,207.9 L591.5,210.0 L589.2,212.0 L587.0,214.1 L584.8,216.2 L582.5,218.3 L580.3,220.4 L578.1,222.4 L575.8,224.5 L573.6,226.5 L571.3,228.6 L569.1,230.6 L566.8,232.7 L564.5,234.7 L562.3,236.8 L560.0,238.8 L557.7,240.8 L555.5,242.9 L553.2,244.9 L550.9,247.0 L548.7,249.0Z" fill="#06101a" opacity=".55" filter="url(#sh)" transform="translate(1.4,2)"/>
<g clip-path="url(#c3)">
<path d="M526.3,226.6 L528.5,224.5 L530.8,222.5 L533.0,220.4 L535.3,218.4 L537.5,216.3 L539.7,214.2 L542.0,212.2 L544.2,210.1 L546.5,208.1 L548.7,206.0 L551.0,203.9 L553.2,201.9 L555.4,199.8 L557.7,197.8 L559.9,195.7 L562.2,193.7 L564.4,191.6 L566.7,189.5 L568.9,187.5 L571.2,185.4 L573.5,183.4 L575.7,181.4 L578.0,179.3 L580.3,177.3 L582.6,175.3 L584.9,173.3 L587.2,171.3 L589.5,169.4 L591.9,167.4 L594.2,165.4 L596.5,163.5 L598.9,161.5 L601.2,159.6 L603.6,157.6 L605.9,155.7 L608.3,153.7 L610.6,151.8 L612.9,149.8 L615.3,147.9 L617.6,145.9 L620.0,144.0 L622.4,142.1 L624.8,140.1 L627.4,138.1 L630.1,136.2 L632.7,134.3 L635.6,132.7 L638.5,131.2 L641.3,129.5 L644.1,127.8 L646.8,126.2 L649.6,124.5 L652.4,122.9 L655.2,121.4 L658.0,119.8 L660.9,118.4 L663.7,116.9 L666.6,115.6 L669.5,114.2 L672.5,113.0 L664.0,107.7 L713.1,104.9 L691.6,139.5 L688.5,131.6 L686.2,133.2 L683.9,134.8 L681.6,136.4 L679.3,137.9 L677.0,139.4 L674.7,140.9 L672.5,142.4 L670.2,143.9 L667.9,145.3 L665.6,146.8 L663.3,148.2 L661.1,149.8 L658.8,151.3 L656.6,152.9 L654.4,154.5 L652.3,156.2 L650.1,157.9 L648.0,159.6 L645.9,161.4 L643.8,163.2 L641.4,165.2 L639.1,167.2 L636.7,169.1 L634.4,171.0 L632.0,173.0 L629.7,175.0 L627.4,177.0 L625.2,179.1 L622.9,181.1 L620.6,183.1 L618.4,185.2 L616.1,187.2 L613.8,189.3 L611.6,191.3 L609.3,193.4 L607.1,195.4 L604.8,197.5 L602.6,199.6 L600.4,201.6 L598.1,203.7 L595.9,205.8 L593.7,207.9 L591.5,210.0 L589.2,212.0 L587.0,214.1 L584.8,216.2 L582.5,218.3 L580.3,220.4 L578.1,222.4 L575.8,224.5 L573.6,226.5 L571.3,228.6 L569.1,230.6 L566.8,232.7 L564.5,234.7 L562.3,236.8 L560.0,238.8 L557.7,240.8 L555.5,242.9 L553.2,244.9 L550.9,247.0 L548.7,249.0Z" fill="#eee0c7"/>
<path d="M514.2,219.6 L519.3,214.8 L560.7,258.7 L555.6,263.5Z" fill="#a8762f"/>
<path d="M518.6,215.5 L523.7,210.7 L565.0,254.6 L559.9,259.4Z" fill="#a8762f"/>
<path d="M523.0,211.4 L528.1,206.6 L569.4,250.5 L564.3,255.3Z" fill="#a8762f"/>
<path d="M527.3,207.3 L532.1,202.8 L573.4,246.8 L568.7,251.2Z" fill="#a8762f"/>
<path d="M531.3,203.5 L533.5,201.5 L574.9,245.4 L572.7,247.4Z" fill="#ab7a35"/>
<path d="M532.8,202.2 L535.0,200.1 L576.3,244.0 L574.1,246.1Z" fill="#ad7d39"/>
<path d="M534.3,200.8 L536.1,199.1 L577.4,243.0 L575.6,244.7Z" fill="#af803d"/>
<path d="M535.3,199.8 L537.5,197.7 L578.9,241.6 L576.7,243.7Z" fill="#b08241"/>
<path d="M536.8,198.4 L539.0,196.3 L580.3,240.2 L578.1,242.3Z" fill="#b28645"/>
<path d="M538.3,197.0 L540.1,195.3 L581.4,239.2 L579.6,240.9Z" fill="#b48849"/>
<path d="M539.3,196.0 L541.5,193.9 L582.9,237.8 L580.7,239.9Z" fill="#b68b4d"/>
<path d="M540.8,194.6 L543.0,192.6 L584.3,236.5 L582.1,238.5Z" fill="#b88e51"/>
<path d="M542.3,193.2 L544.1,191.5 L585.4,235.4 L583.6,237.2Z" fill="#ba9155"/>
<path d="M543.4,192.2 L545.2,190.5 L586.5,234.4 L584.7,236.1Z" fill="#bb9358"/>
<path d="M544.4,191.2 L546.6,189.1 L588.0,233.0 L585.8,235.1Z" fill="#bd965c"/>
<path d="M545.9,189.8 L548.1,187.8 L589.4,231.7 L587.2,233.7Z" fill="#bf9960"/>
<path d="M547.4,188.4 L549.2,186.7 L590.5,230.6 L588.7,232.4Z" fill="#c19b64"/>
<path d="M548.5,187.4 L550.6,185.4 L592.0,229.3 L589.8,231.3Z" fill="#c39e68"/>
<path d="M549.9,186.0 L552.1,184.0 L593.4,227.9 L591.2,230.0Z" fill="#c5a16c"/>
<path d="M551.4,184.7 L553.2,183.0 L594.5,226.9 L592.7,228.6Z" fill="#c6a470"/>
<path d="M552.5,183.6 L554.6,181.6 L596.0,225.5 L593.8,227.6Z" fill="#c8a674"/>
<path d="M553.9,182.3 L556.1,180.2 L597.4,224.1 L595.2,226.2Z" fill="#caa978"/>
<path d="M555.4,180.9 L557.2,179.2 L598.5,223.1 L596.7,224.8Z" fill="#ccac7c"/>
<path d="M556.5,179.9 L558.6,177.8 L600.0,221.7 L597.8,223.8Z" fill="#ceaf80"/>
<path d="M557.9,178.5 L560.1,176.5 L601.4,220.4 L599.2,222.4Z" fill="#d0b284"/>
<path d="M559.4,177.1 L561.2,175.4 L602.5,219.3 L600.7,221.0Z" fill="#d2b488"/>
<path d="M560.5,176.1 L562.3,174.4 L603.6,218.3 L601.8,220.0Z" fill="#d3b78b"/>
<path d="M561.6,175.1 L563.7,173.0 L605.1,216.9 L602.9,219.0Z" fill="#d5b98f"/>
<path d="M563.0,173.7 L565.2,171.7 L606.5,215.6 L604.3,217.6Z" fill="#d7bd93"/>
<path d="M564.5,172.3 L566.3,170.6 L607.6,214.5 L605.8,216.3Z" fill="#d9bf97"/>
<path d="M565.6,171.3 L567.7,169.3 L609.1,213.2 L606.9,215.2Z" fill="#dbc29b"/>
<path d="M567.0,169.9 L569.2,167.9 L610.5,211.8 L608.4,213.9Z" fill="#ddc59f"/>
<path d="M568.5,168.6 L570.3,166.9 L611.6,210.8 L609.8,212.5Z" fill="#dec8a3"/>
<path d="M569.6,167.5 L571.8,165.5 L613.1,209.4 L610.9,211.5Z" fill="#e0caa7"/>
<path d="M571.0,166.2 L573.2,164.1 L614.5,208.0 L612.4,210.1Z" fill="#e2cdab"/>
<path d="M572.5,164.8 L574.3,163.1 L615.6,207.0 L613.8,208.7Z" fill="#e4d0af"/>
<path d="M573.6,163.8 L575.8,161.7 L617.1,205.6 L614.9,207.7Z" fill="#e6d3b3"/>
<path d="M575.0,162.4 L577.2,160.3 L618.5,204.3 L616.4,206.3Z" fill="#e8d6b7"/>
<path d="M576.5,161.0 L578.3,159.3 L619.6,203.2 L617.8,204.9Z" fill="#ead8bb"/>
<path d="M577.6,160.0 L580.9,156.9 L622.2,200.8 L618.9,203.9Z" fill="#ecdcc0"/>
<path d="M580.1,157.6 L585.2,152.8 L626.6,196.7 L621.5,201.5Z" fill="#ecddc1"/>
<path d="M584.5,153.5 L589.6,148.7 L630.9,192.6 L625.8,197.4Z" fill="#eddec3"/>
<path d="M588.9,149.4 L594.0,144.6 L635.3,188.5 L630.2,193.3Z" fill="#eddfc4"/>
<path d="M593.2,145.3 L598.3,140.5 L639.7,184.4 L634.6,189.2Z" fill="#eee0c6"/>
<path d="M597.6,141.2 L602.7,136.4 L644.0,180.3 L638.9,185.1Z" fill="#eee1c8"/>
<path d="M602.0,137.0 L607.1,132.2 L648.4,176.2 L643.3,181.0Z" fill="#efe2c9"/>
<path d="M606.3,132.9 L607.8,131.6 L649.1,175.5 L647.7,176.8Z" fill="#eee1c8"/>
<path d="M607.1,132.2 L608.5,130.9 L649.9,174.8 L648.4,176.2Z" fill="#eddfc5"/>
<path d="M607.8,131.6 L609.3,130.2 L650.6,174.1 L649.1,175.5Z" fill="#ecddc2"/>
<path d="M608.5,130.9 L610.0,129.5 L651.3,173.4 L649.9,174.8Z" fill="#eadabf"/>
<path d="M609.3,130.2 L610.7,128.8 L652.0,172.7 L650.6,174.1Z" fill="#e9d8bc"/>
<path d="M610.0,129.5 L611.4,128.1 L652.8,172.0 L651.3,173.4Z" fill="#e7d6b9"/>
<path d="M610.7,128.8 L612.2,127.4 L653.5,171.4 L652.0,172.7Z" fill="#e6d4b6"/>
<path d="M611.4,128.1 L613.1,126.6 L654.1,170.8 L652.8,172.0Z" fill="#e5d2b3"/>
<path d="M612.2,127.4 L613.9,125.8 L654.7,170.3 L653.5,171.4Z" fill="#e3d0b0"/>
<path d="M613.1,126.6 L614.8,125.0 L655.3,169.7 L654.1,170.8Z" fill="#e2cead"/>
<path d="M613.9,125.8 L616.1,123.8 L656.2,168.9 L654.7,170.3Z" fill="#e0cba9"/>
<path d="M615.2,124.6 L617.0,123.1 L656.8,168.3 L655.6,169.4Z" fill="#dec8a5"/>
<path d="M616.1,123.8 L617.9,122.3 L657.4,167.8 L656.2,168.9Z" fill="#ddc6a2"/>
<path d="M617.0,123.1 L618.8,121.5 L658.0,167.3 L656.8,168.3Z" fill="#dcc49f"/>
<path d="M617.9,122.3 L619.7,120.7 L658.7,166.7 L657.4,167.8Z" fill="#dac29c"/>
<path d="M618.8,121.5 L620.6,120.0 L659.3,166.2 L658.0,167.3Z" fill="#d9c099"/>
<path d="M619.7,120.7 L621.5,119.2 L659.9,165.7 L658.7,166.7Z" fill="#d7bd96"/>
<path d="M620.6,120.0 L622.4,118.5 L660.6,165.2 L659.3,166.2Z" fill="#d6bb93"/>
<path d="M621.5,119.2 L623.3,117.7 L661.2,164.6 L659.9,165.7Z" fill="#d5b990"/>
<path d="M622.4,118.5 L624.2,117.0 L661.8,164.1 L660.6,165.2Z" fill="#d3b78d"/>
<path d="M623.3,117.7 L625.2,116.3 L662.5,163.6 L661.2,164.6Z" fill="#d2b58a"/>
<path d="M624.2,117.0 L626.5,115.2 L663.5,162.9 L661.8,164.1Z" fill="#d0b286"/>
<path d="M625.6,115.9 L627.5,114.5 L664.1,162.4 L662.8,163.4Z" fill="#ceb082"/>
<path d="M626.5,115.2 L628.4,113.7 L664.8,161.9 L663.5,162.9Z" fill="#cdad7f"/>
<path d="M627.5,114.5 L629.4,113.0 L665.4,161.4 L664.1,162.4Z" fill="#ccab7c"/>
<path d="M628.4,113.7 L630.3,112.3 L666.1,160.9 L664.8,161.9Z" fill="#caa979"/>
<path d="M629.4,113.0 L631.3,111.6 L666.7,160.4 L665.4,161.4Z" fill="#c9a776"/>
<path d="M630.3,112.3 L632.2,110.9 L667.4,159.9 L666.1,160.9Z" fill="#c7a573"/>
<path d="M631.3,111.6 L633.2,110.3 L668.1,159.5 L666.7,160.4Z" fill="#c6a370"/>
<path d="M632.2,110.9 L634.2,109.6 L668.7,159.0 L667.4,159.9Z" fill="#c5a06d"/>
<path d="M633.2,110.3 L635.1,108.9 L669.4,158.5 L668.1,159.5Z" fill="#c39e6a"/>
<path d="M634.2,109.6 L636.6,107.9 L670.4,157.8 L668.7,159.0Z" fill="#c29c66"/>
<path d="M635.6,108.6 L637.6,107.2 L671.1,157.4 L669.7,158.3Z" fill="#c09962"/>
<path d="M636.6,107.9 L638.5,106.6 L671.8,156.9 L670.4,157.8Z" fill="#be975f"/>
<path d="M637.6,107.2 L639.5,105.9 L672.5,156.5 L671.1,157.4Z" fill="#bd955c"/>
<path d="M638.5,106.6 L640.5,105.3 L673.2,156.0 L671.8,156.9Z" fill="#bc9359"/>
<path d="M639.5,105.9 L641.5,104.7 L673.8,155.6 L672.5,156.5Z" fill="#ba9056"/>
<path d="M640.5,105.3 L642.5,104.0 L674.5,155.1 L673.2,156.0Z" fill="#b98e53"/>
<path d="M641.5,104.7 L643.5,103.4 L675.2,154.7 L673.8,155.6Z" fill="#b88c50"/>
<path d="M642.5,104.0 L644.5,102.8 L675.9,154.3 L674.5,155.1Z" fill="#b68a4d"/>
<path d="M643.5,103.4 L645.5,102.2 L676.6,153.8 L675.2,154.7Z" fill="#b5884a"/>
<path d="M644.5,102.8 L646.5,101.6 L677.3,153.4 L675.9,154.3Z" fill="#b38647"/>
<path d="M645.5,102.2 L648.1,100.7 L678.4,152.8 L676.6,153.8Z" fill="#b28343"/>
<path d="M647.0,101.3 L649.1,100.1 L679.1,152.4 L677.7,153.2Z" fill="#b0803f"/>
<path d="M648.1,100.7 L650.1,99.5 L679.8,152.0 L678.4,152.8Z" fill="#af7e3c"/>
<path d="M649.1,100.1 L651.1,98.9 L680.5,151.6 L679.1,152.4Z" fill="#ad7c39"/>
<path d="M650.1,99.5 L652.2,98.4 L681.3,151.2 L679.8,152.0Z" fill="#ac7a36"/>
<path d="M651.1,98.9 L653.2,97.8 L682.0,150.8 L680.5,151.6Z" fill="#aa7833"/>
<path d="M652.2,98.4 L659.5,94.5 L686.3,148.5 L681.3,151.2Z" fill="#a8742e"/>
<path d="M658.4,95.1 L665.9,91.5 L690.8,146.4 L685.6,148.9Z" fill="#a8732d"/>
<path d="M664.8,92.0 L672.4,88.7 L695.3,144.5 L690.0,146.7Z" fill="#a7732d"/>
<path d="M671.3,89.1 L679.0,86.1 L699.9,142.7 L694.5,144.8Z" fill="#a7722c"/>
<path d="M677.9,86.5 L685.7,83.8 L704.5,141.0 L699.1,143.0Z" fill="#a6722c"/>
<path d="M684.5,84.1 L692.4,81.7 L709.2,139.6 L703.8,141.3Z" fill="#a6712b"/>
<path d="M691.3,82.0 L699.3,79.8 L714.0,138.3 L708.4,139.8Z" fill="#a6712b"/>
<path d="M698.1,80.1 L706.2,78.2 L718.8,137.2 L713.2,138.5Z" fill="#a5702a"/>
<path d="M705.0,78.5 L713.1,76.9 L723.6,136.2 L718.0,137.4Z" fill="#a5702a"/>
<path d="M711.9,77.1 L720.1,75.8 L728.5,135.5 L722.8,136.4Z" fill="#a5702a"/>
<path d="M526.3,226.6 L528.5,224.5 L530.8,222.5 L533.0,220.4 L535.3,218.4 L537.5,216.3 L539.7,214.2 L542.0,212.2 L544.2,210.1 L546.5,208.1 L548.7,206.0 L551.0,203.9 L553.2,201.9 L555.4,199.8 L557.7,197.8 L559.9,195.7 L562.2,193.7 L564.4,191.6 L566.7,189.5 L568.9,187.5 L571.2,185.4 L573.5,183.4 L575.7,181.4 L578.0,179.3 L580.3,177.3 L582.6,175.3 L584.9,173.3 L587.2,171.3 L589.5,169.4 L591.9,167.4 L594.2,165.4 L596.5,163.5 L598.9,161.5 L601.2,159.6 L603.6,157.6 L605.9,155.7 L608.3,153.7 L610.6,151.8 L612.9,149.8 L615.3,147.9 L617.6,145.9 L620.0,144.0 L622.4,142.1 L624.8,140.1 L627.4,138.1 L630.1,136.2 L632.7,134.3 L635.6,132.7 L638.5,131.2 L641.3,129.5 L644.1,127.8 L646.8,126.2 L649.6,124.5 L652.4,122.9 L655.2,121.4 L658.0,119.8 L660.9,118.4 L663.7,116.9 L666.6,115.6 L669.5,114.2 L672.5,113.0 L664.0,107.7 L713.1,104.9 L691.6,139.5 L688.5,131.6 L686.2,133.2 L683.9,134.8 L681.6,136.4 L679.3,137.9 L677.0,139.4 L674.7,140.9 L672.5,142.4 L670.2,143.9 L667.9,145.3 L665.6,146.8 L663.3,148.2 L661.1,149.8 L658.8,151.3 L656.6,152.9 L654.4,154.5 L652.3,156.2 L650.1,157.9 L648.0,159.6 L645.9,161.4 L643.8,163.2 L641.4,165.2 L639.1,167.2 L636.7,169.1 L634.4,171.0 L632.0,173.0 L629.7,175.0 L627.4,177.0 L625.2,179.1 L622.9,181.1 L620.6,183.1 L618.4,185.2 L616.1,187.2 L613.8,189.3 L611.6,191.3 L609.3,193.4 L607.1,195.4 L604.8,197.5 L602.6,199.6 L600.4,201.6 L598.1,203.7 L595.9,205.8 L593.7,207.9 L591.5,210.0 L589.2,212.0 L587.0,214.1 L584.8,216.2 L582.5,218.3 L580.3,220.4 L578.1,222.4 L575.8,224.5 L573.6,226.5 L571.3,228.6 L569.1,230.6 L566.8,232.7 L564.5,234.7 L562.3,236.8 L560.0,238.8 L557.7,240.8 L555.5,242.9 L553.2,244.9 L550.9,247.0 L548.7,249.0Z" fill="none" stroke="#000" stroke-opacity=".12" stroke-width="1.2"/>
</g>
<!-- Deploy -->
<clipPath id="c4"><path d="M725.7,93.1 L729.0,92.9 L732.2,92.7 L735.5,92.6 L738.7,92.6 L742.0,92.6 L745.2,92.7 L748.5,92.9 L751.7,93.1 L754.9,93.3 L758.2,93.6 L761.4,93.9 L764.6,94.2 L767.8,94.6 L771.0,95.0 L774.2,95.5 L777.4,95.9 L780.6,96.5 L783.8,97.0 L786.9,97.6 L790.1,98.3 L793.3,99.0 L796.4,99.7 L799.6,100.5 L802.7,101.4 L805.8,102.3 L808.9,103.2 L812.0,104.2 L815.1,105.3 L818.2,106.4 L821.2,107.5 L824.3,108.7 L827.3,109.9 L830.3,111.2 L833.3,112.5 L836.3,114.0 L839.2,115.5 L842.1,117.0 L844.9,118.7 L847.7,120.3 L850.5,122.1 L853.3,123.9 L856.0,125.7 L858.7,127.6 L861.4,129.6 L864.0,131.6 L866.5,133.7 L869.0,135.9 L871.5,138.1 L873.8,140.4 L876.2,142.7 L878.5,145.1 L880.7,147.6 L882.9,150.0 L885.0,152.5 L887.1,155.1 L889.0,157.7 L891.0,160.4 L892.8,163.2 L894.6,165.9 L896.3,168.7 L898.0,171.6 L899.6,174.4 L901.1,177.3 L902.6,180.2 L904.0,183.2 L905.4,186.1 L906.7,189.1 L908.0,192.1 L909.2,195.1 L916.2,185.0 L908.5,229.7 L881.6,206.5 L892.6,205.3 L890.7,203.0 L888.7,200.8 L886.7,198.7 L884.7,196.6 L882.7,194.5 L880.8,192.4 L878.9,190.2 L877.1,188.1 L875.4,185.9 L873.6,183.8 L871.9,181.7 L870.1,179.6 L868.3,177.5 L866.4,175.4 L864.5,173.4 L862.7,171.4 L860.7,169.5 L858.8,167.6 L856.8,165.7 L854.8,163.8 L852.8,162.0 L850.7,160.2 L848.6,158.5 L846.5,156.8 L844.3,155.1 L842.1,153.5 L839.9,151.9 L837.6,150.5 L835.3,149.0 L833.0,147.6 L830.7,146.2 L828.4,144.8 L826.0,143.4 L823.7,142.1 L821.3,140.8 L818.9,139.6 L816.5,138.4 L814.1,137.2 L811.6,136.1 L809.2,135.0 L806.7,133.9 L804.2,132.9 L801.7,132.0 L799.2,131.1 L796.6,130.2 L794.1,129.3 L791.5,128.5 L788.9,127.8 L786.3,127.1 L783.8,126.4 L781.1,125.7 L778.5,125.1 L775.9,124.5 L773.3,124.0 L770.6,123.5 L768.0,123.0 L765.3,122.6 L762.6,122.3 L760.0,122.0 L757.3,121.7 L754.6,121.5 L751.9,121.3 L749.2,121.2 L746.5,121.1 L743.8,121.0 L741.1,121.1 L738.4,121.1 L735.7,121.2 L733.0,121.4 L730.3,121.6 L731.3,117.9 L732.0,114.2 L732.2,110.5 L732.0,106.9 L731.2,103.4 L730.0,99.9 L728.1,96.4Z"/></clipPath>
<path d="M725.7,93.1 L729.0,92.9 L732.2,92.7 L735.5,92.6 L738.7,92.6 L742.0,92.6 L745.2,92.7 L748.5,92.9 L751.7,93.1 L754.9,93.3 L758.2,93.6 L761.4,93.9 L764.6,94.2 L767.8,94.6 L771.0,95.0 L774.2,95.5 L777.4,95.9 L780.6,96.5 L783.8,97.0 L786.9,97.6 L790.1,98.3 L793.3,99.0 L796.4,99.7 L799.6,100.5 L802.7,101.4 L805.8,102.3 L808.9,103.2 L812.0,104.2 L815.1,105.3 L818.2,106.4 L821.2,107.5 L824.3,108.7 L827.3,109.9 L830.3,111.2 L833.3,112.5 L836.3,114.0 L839.2,115.5 L842.1,117.0 L844.9,118.7 L847.7,120.3 L850.5,122.1 L853.3,123.9 L856.0,125.7 L858.7,127.6 L861.4,129.6 L864.0,131.6 L866.5,133.7 L869.0,135.9 L871.5,138.1 L873.8,140.4 L876.2,142.7 L878.5,145.1 L880.7,147.6 L882.9,150.0 L885.0,152.5 L887.1,155.1 L889.0,157.7 L891.0,160.4 L892.8,163.2 L894.6,165.9 L896.3,168.7 L898.0,171.6 L899.6,174.4 L901.1,177.3 L902.6,180.2 L904.0,183.2 L905.4,186.1 L906.7,189.1 L908.0,192.1 L909.2,195.1 L916.2,185.0 L908.5,229.7 L881.6,206.5 L892.6,205.3 L890.7,203.0 L888.7,200.8 L886.7,198.7 L884.7,196.6 L882.7,194.5 L880.8,192.4 L878.9,190.2 L877.1,188.1 L875.4,185.9 L873.6,183.8 L871.9,181.7 L870.1,179.6 L868.3,177.5 L866.4,175.4 L864.5,173.4 L862.7,171.4 L860.7,169.5 L858.8,167.6 L856.8,165.7 L854.8,163.8 L852.8,162.0 L850.7,160.2 L848.6,158.5 L846.5,156.8 L844.3,155.1 L842.1,153.5 L839.9,151.9 L837.6,150.5 L835.3,149.0 L833.0,147.6 L830.7,146.2 L828.4,144.8 L826.0,143.4 L823.7,142.1 L821.3,140.8 L818.9,139.6 L816.5,138.4 L814.1,137.2 L811.6,136.1 L809.2,135.0 L806.7,133.9 L804.2,132.9 L801.7,132.0 L799.2,131.1 L796.6,130.2 L794.1,129.3 L791.5,128.5 L788.9,127.8 L786.3,127.1 L783.8,126.4 L781.1,125.7 L778.5,125.1 L775.9,124.5 L773.3,124.0 L770.6,123.5 L768.0,123.0 L765.3,122.6 L762.6,122.3 L760.0,122.0 L757.3,121.7 L754.6,121.5 L751.9,121.3 L749.2,121.2 L746.5,121.1 L743.8,121.0 L741.1,121.1 L738.4,121.1 L735.7,121.2 L733.0,121.4 L730.3,121.6 L731.3,117.9 L732.0,114.2 L732.2,110.5 L732.0,106.9 L731.2,103.4 L730.0,99.9 L728.1,96.4Z" fill="#06101a" opacity=".55" filter="url(#sh)" transform="translate(1.4,2)"/>
<g clip-path="url(#c4)">
<path d="M725.7,93.1 L729.0,92.9 L732.2,92.7 L735.5,92.6 L738.7,92.6 L742.0,92.6 L745.2,92.7 L748.5,92.9 L751.7,93.1 L754.9,93.3 L758.2,93.6 L761.4,93.9 L764.6,94.2 L767.8,94.6 L771.0,95.0 L774.2,95.5 L777.4,95.9 L780.6,96.5 L783.8,97.0 L786.9,97.6 L790.1,98.3 L793.3,99.0 L796.4,99.7 L799.6,100.5 L802.7,101.4 L805.8,102.3 L808.9,103.2 L812.0,104.2 L815.1,105.3 L818.2,106.4 L821.2,107.5 L824.3,108.7 L827.3,109.9 L830.3,111.2 L833.3,112.5 L836.3,114.0 L839.2,115.5 L842.1,117.0 L844.9,118.7 L847.7,120.3 L850.5,122.1 L853.3,123.9 L856.0,125.7 L858.7,127.6 L861.4,129.6 L864.0,131.6 L866.5,133.7 L869.0,135.9 L871.5,138.1 L873.8,140.4 L876.2,142.7 L878.5,145.1 L880.7,147.6 L882.9,150.0 L885.0,152.5 L887.1,155.1 L889.0,157.7 L891.0,160.4 L892.8,163.2 L894.6,165.9 L896.3,168.7 L898.0,171.6 L899.6,174.4 L901.1,177.3 L902.6,180.2 L904.0,183.2 L905.4,186.1 L906.7,189.1 L908.0,192.1 L909.2,195.1 L916.2,185.0 L908.5,229.7 L881.6,206.5 L892.6,205.3 L890.7,203.0 L888.7,200.8 L886.7,198.7 L884.7,196.6 L882.7,194.5 L880.8,192.4 L878.9,190.2 L877.1,188.1 L875.4,185.9 L873.6,183.8 L871.9,181.7 L870.1,179.6 L868.3,177.5 L866.4,175.4 L864.5,173.4 L862.7,171.4 L860.7,169.5 L858.8,167.6 L856.8,165.7 L854.8,163.8 L852.8,162.0 L850.7,160.2 L848.6,158.5 L846.5,156.8 L844.3,155.1 L842.1,153.5 L839.9,151.9 L837.6,150.5 L835.3,149.0 L833.0,147.6 L830.7,146.2 L828.4,144.8 L826.0,143.4 L823.7,142.1 L821.3,140.8 L818.9,139.6 L816.5,138.4 L814.1,137.2 L811.6,136.1 L809.2,135.0 L806.7,133.9 L804.2,132.9 L801.7,132.0 L799.2,131.1 L796.6,130.2 L794.1,129.3 L791.5,128.5 L788.9,127.8 L786.3,127.1 L783.8,126.4 L781.1,125.7 L778.5,125.1 L775.9,124.5 L773.3,124.0 L770.6,123.5 L768.0,123.0 L765.3,122.6 L762.6,122.3 L760.0,122.0 L757.3,121.7 L754.6,121.5 L751.9,121.3 L749.2,121.2 L746.5,121.1 L743.8,121.0 L741.1,121.1 L738.4,121.1 L735.7,121.2 L733.0,121.4 L730.3,121.6 L731.3,117.9 L732.0,114.2 L732.2,110.5 L732.0,106.9 L731.2,103.4 L730.0,99.9 L728.1,96.4Z" fill="#c6d893"/>
<path d="M719.2,78.0 L727.3,77.0 L733.1,132.8 L727.3,133.6Z" fill="#8ea536"/>
<path d="M726.1,77.1 L734.3,76.4 L738.1,132.4 L732.3,132.9Z" fill="#8ea536"/>
<path d="M733.1,76.4 L741.3,76.0 L743.0,132.2 L737.2,132.5Z" fill="#8ea536"/>
<path d="M740.1,76.1 L748.3,75.9 L748.0,132.1 L742.2,132.2Z" fill="#8ea536"/>
<path d="M747.1,75.9 L755.3,76.1 L753.0,132.2 L747.2,132.1Z" fill="#8ea536"/>
<path d="M754.1,76.0 L762.3,76.5 L758.0,132.5 L752.2,132.2Z" fill="#8ea536"/>
<path d="M761.1,76.4 L769.2,77.1 L763.0,132.9 L757.2,132.4Z" fill="#8ea536"/>
<path d="M768.1,77.0 L776.2,78.0 L767.9,133.6 L762.2,132.9Z" fill="#8ea536"/>
<path d="M775.0,77.9 L783.1,79.2 L772.9,134.4 L767.1,133.5Z" fill="#8ea536"/>
<path d="M781.9,79.0 L790.0,80.6 L777.8,135.4 L772.0,134.3Z" fill="#8ea536"/>
<path d="M788.8,80.3 L796.8,82.2 L782.6,136.6 L776.9,135.2Z" fill="#8ea536"/>
<path d="M795.6,81.9 L803.5,84.1 L787.4,137.9 L781.8,136.4Z" fill="#8ea536"/>
<path d="M802.4,83.8 L810.2,86.2 L792.2,139.4 L786.6,137.7Z" fill="#8ea536"/>
<path d="M809.1,85.9 L812.4,87.0 L793.8,140.0 L791.4,139.2Z" fill="#91a83b"/>
<path d="M811.3,86.6 L814.6,87.8 L795.3,140.5 L793.0,139.7Z" fill="#93aa3f"/>
<path d="M813.5,87.4 L816.8,88.6 L796.9,141.1 L794.5,140.3Z" fill="#96ac43"/>
<path d="M815.7,88.2 L819.0,89.4 L798.4,141.7 L796.1,140.8Z" fill="#98ae47"/>
<path d="M817.9,89.0 L821.1,90.3 L800.0,142.3 L797.7,141.4Z" fill="#9ab04b"/>
<path d="M820.0,89.9 L823.8,91.4 L801.9,143.1 L799.2,142.0Z" fill="#9db34f"/>
<path d="M822.7,91.0 L826.0,92.3 L803.4,143.8 L801.1,142.8Z" fill="#a0b553"/>
<path d="M824.9,91.9 L828.1,93.3 L805.0,144.5 L802.7,143.5Z" fill="#a2b757"/>
<path d="M827.0,92.8 L830.2,94.3 L806.5,145.2 L804.2,144.1Z" fill="#a4b95b"/>
<path d="M829.2,93.8 L832.3,95.3 L808.0,145.9 L805.7,144.8Z" fill="#a7bb5f"/>
<path d="M831.3,94.8 L834.4,96.3 L809.5,146.6 L807.2,145.5Z" fill="#a9bd63"/>
<path d="M833.4,95.8 L836.5,97.3 L811.0,147.4 L808.7,146.2Z" fill="#abc067"/>
<path d="M835.5,96.8 L839.1,98.7 L812.8,148.3 L810.2,147.0Z" fill="#aec26b"/>
<path d="M838.1,98.2 L841.2,99.8 L814.3,149.1 L812.1,147.9Z" fill="#b0c46f"/>
<path d="M840.1,99.2 L843.2,100.9 L815.7,149.9 L813.5,148.7Z" fill="#b3c673"/>
<path d="M842.2,100.4 L845.2,102.1 L817.2,150.7 L815.0,149.5Z" fill="#b5c977"/>
<path d="M844.2,101.5 L847.3,103.3 L818.6,151.6 L816.4,150.3Z" fill="#b7cb7b"/>
<path d="M846.2,102.7 L849.3,104.5 L820.0,152.4 L817.9,151.2Z" fill="#bacd7f"/>
<path d="M848.3,103.9 L851.7,106.0 L821.8,153.5 L819.3,152.0Z" fill="#bccf83"/>
<path d="M850.7,105.4 L853.7,107.3 L823.2,154.4 L821.1,153.1Z" fill="#bfd187"/>
<path d="M852.7,106.6 L855.7,108.5 L824.6,155.3 L822.5,154.0Z" fill="#c1d48b"/>
<path d="M854.7,107.9 L857.6,109.8 L826.0,156.3 L823.9,154.9Z" fill="#c3d68f"/>
<path d="M856.6,109.2 L859.5,111.2 L827.3,157.2 L825.3,155.8Z" fill="#c6d893"/>
<path d="M858.6,110.5 L861.4,112.5 L828.7,158.2 L826.7,156.7Z" fill="#c8da97"/>
<path d="M860.5,111.8 L863.3,113.9 L830.1,159.2 L828.0,157.7Z" fill="#cadc9b"/>
<path d="M862.4,113.2 L865.7,115.6 L831.7,160.4 L829.4,158.7Z" fill="#cdde9f"/>
<path d="M864.7,114.9 L867.5,117.1 L833.0,161.4 L831.1,159.9Z" fill="#d0e1a3"/>
<path d="M866.6,116.3 L869.3,118.5 L834.4,162.4 L832.4,160.9Z" fill="#d2e3a7"/>
<path d="M868.4,117.8 L871.2,120.0 L835.6,163.5 L833.7,161.9Z" fill="#d4e5ab"/>
<path d="M870.3,119.2 L873.0,121.5 L836.9,164.5 L835.0,163.0Z" fill="#d7e7af"/>
<path d="M872.1,120.7 L874.7,123.0 L838.2,165.6 L836.3,164.0Z" fill="#d9e9b3"/>
<path d="M873.9,122.2 L880.0,127.6 L841.9,168.9 L837.6,165.1Z" fill="#dcecb8"/>
<path d="M879.1,126.8 L885.0,132.5 L845.5,172.4 L841.3,168.4Z" fill="#ddedba"/>
<path d="M884.2,131.6 L889.9,137.5 L849.0,176.0 L845.0,171.8Z" fill="#deedbc"/>
<path d="M889.1,136.6 L894.6,142.7 L852.4,179.7 L848.5,175.4Z" fill="#dfeebe"/>
<path d="M893.9,141.8 L899.2,148.0 L855.6,183.5 L851.8,179.0Z" fill="#dfeec0"/>
<path d="M898.4,147.1 L903.5,153.5 L858.7,187.4 L855.1,182.8Z" fill="#e0efc2"/>
<path d="M902.8,152.6 L907.6,159.2 L861.6,191.4 L858.2,186.7Z" fill="#e1efc4"/>
<path d="M906.9,158.2 L910.3,163.0 L863.5,194.2 L861.2,190.8Z" fill="#e2f0c6"/>
<path d="M909.6,162.1 L910.9,164.0 L864.0,194.9 L863.1,193.5Z" fill="#dfedc0"/>
<path d="M910.3,163.0 L911.5,165.0 L864.4,195.6 L863.5,194.2Z" fill="#dcebbb"/>
<path d="M910.9,164.0 L912.2,166.0 L864.9,196.3 L864.0,194.9Z" fill="#dae9b7"/>
<path d="M911.5,165.0 L912.8,167.0 L865.3,197.0 L864.4,195.6Z" fill="#d7e6b3"/>
<path d="M912.2,166.0 L913.4,167.9 L865.8,197.7 L864.9,196.3Z" fill="#d5e4ae"/>
<path d="M912.8,167.0 L914.0,168.9 L866.2,198.4 L865.3,197.0Z" fill="#d2e2aa"/>
<path d="M913.4,167.9 L914.6,169.9 L866.6,199.1 L865.8,197.7Z" fill="#d0e0a5"/>
<path d="M914.0,168.9 L915.2,170.9 L867.1,199.8 L866.2,198.4Z" fill="#cddea1"/>
<path d="M914.6,169.9 L915.8,171.9 L867.5,200.5 L866.6,199.1Z" fill="#cbdb9d"/>
<path d="M915.2,170.9 L916.4,172.9 L867.9,201.2 L867.1,199.8Z" fill="#c8d998"/>
<path d="M915.8,171.9 L917.0,174.0 L868.3,202.0 L867.5,200.5Z" fill="#c6d794"/>
<path d="M916.4,172.9 L917.6,175.0 L868.8,202.7 L867.9,201.2Z" fill="#c3d590"/>
<path d="M917.0,174.0 L918.2,176.0 L869.2,203.4 L868.3,202.0Z" fill="#c1d38b"/>
<path d="M917.6,175.0 L918.7,177.0 L869.6,204.1 L868.8,202.7Z" fill="#bfd087"/>
<path d="M918.2,176.0 L919.3,178.0 L870.0,204.9 L869.2,203.4Z" fill="#bcce82"/>
<path d="M918.7,177.0 L919.9,179.1 L870.4,205.6 L869.6,204.1Z" fill="#bacc7e"/>
<path d="M919.3,178.0 L920.4,180.1 L870.8,206.3 L870.0,204.9Z" fill="#b7ca7a"/>
<path d="M919.9,179.1 L920.9,181.1 L871.1,207.1 L870.4,205.6Z" fill="#b5c875"/>
<path d="M920.4,180.1 L921.5,182.2 L871.5,207.8 L870.8,206.3Z" fill="#b2c571"/>
<path d="M920.9,181.1 L922.0,183.2 L871.9,208.6 L871.1,207.1Z" fill="#b0c36c"/>
<path d="M921.5,182.2 L922.5,184.2 L872.3,209.3 L871.5,207.8Z" fill="#adc168"/>
<path d="M922.0,183.2 L923.1,185.3 L872.6,210.0 L871.9,208.6Z" fill="#abbf64"/>
<path d="M922.5,184.2 L923.6,186.3 L873.0,210.8 L872.3,209.3Z" fill="#a8bd5f"/>
<path d="M923.1,185.3 L924.1,187.4 L873.4,211.5 L872.6,210.0Z" fill="#a6ba5b"/>
<path d="M923.6,186.3 L924.6,188.4 L873.7,212.3 L873.0,210.8Z" fill="#a3b856"/>
<path d="M924.1,187.4 L925.1,189.5 L874.1,213.1 L873.4,211.5Z" fill="#a1b652"/>
<path d="M924.6,188.4 L925.6,190.6 L874.4,213.8 L873.7,212.3Z" fill="#9fb44e"/>
<path d="M925.1,189.5 L926.0,191.6 L874.8,214.6 L874.1,213.1Z" fill="#9cb249"/>
<path d="M925.6,190.6 L926.5,192.7 L875.1,215.3 L874.4,213.8Z" fill="#9aaf45"/>
<path d="M926.0,191.6 L927.0,193.8 L875.4,216.1 L874.8,214.6Z" fill="#97ad41"/>
<path d="M926.5,192.7 L927.4,194.8 L875.8,216.9 L875.1,215.3Z" fill="#95ab3c"/>
<path d="M927.0,193.8 L927.9,195.9 L876.1,217.6 L875.4,216.1Z" fill="#92a938"/>
<path d="M927.4,194.8 L930.5,202.4 L877.9,222.3 L875.8,216.9Z" fill="#8fa632"/>
<path d="M930.1,201.3 L932.8,209.0 L879.6,227.0 L877.6,221.5Z" fill="#8fa531"/>
<path d="M932.5,207.9 L935.0,215.7 L881.1,231.7 L879.3,226.2Z" fill="#8ea531"/>
<path d="M934.6,214.6 L936.8,222.5 L882.5,236.5 L880.9,230.9Z" fill="#8ea430"/>
<path d="M936.5,221.3 L938.5,229.3 L883.6,241.4 L882.2,235.7Z" fill="#8ea430"/>
<path d="M725.7,93.1 L729.0,92.9 L732.2,92.7 L735.5,92.6 L738.7,92.6 L742.0,92.6 L745.2,92.7 L748.5,92.9 L751.7,93.1 L754.9,93.3 L758.2,93.6 L761.4,93.9 L764.6,94.2 L767.8,94.6 L771.0,95.0 L774.2,95.5 L777.4,95.9 L780.6,96.5 L783.8,97.0 L786.9,97.6 L790.1,98.3 L793.3,99.0 L796.4,99.7 L799.6,100.5 L802.7,101.4 L805.8,102.3 L808.9,103.2 L812.0,104.2 L815.1,105.3 L818.2,106.4 L821.2,107.5 L824.3,108.7 L827.3,109.9 L830.3,111.2 L833.3,112.5 L836.3,114.0 L839.2,115.5 L842.1,117.0 L844.9,118.7 L847.7,120.3 L850.5,122.1 L853.3,123.9 L856.0,125.7 L858.7,127.6 L861.4,129.6 L864.0,131.6 L866.5,133.7 L869.0,135.9 L871.5,138.1 L873.8,140.4 L876.2,142.7 L878.5,145.1 L880.7,147.6 L882.9,150.0 L885.0,152.5 L887.1,155.1 L889.0,157.7 L891.0,160.4 L892.8,163.2 L894.6,165.9 L896.3,168.7 L898.0,171.6 L899.6,174.4 L901.1,177.3 L902.6,180.2 L904.0,183.2 L905.4,186.1 L906.7,189.1 L908.0,192.1 L909.2,195.1 L916.2,185.0 L908.5,229.7 L881.6,206.5 L892.6,205.3 L890.7,203.0 L888.7,200.8 L886.7,198.7 L884.7,196.6 L882.7,194.5 L880.8,192.4 L878.9,190.2 L877.1,188.1 L875.4,185.9 L873.6,183.8 L871.9,181.7 L870.1,179.6 L868.3,177.5 L866.4,175.4 L864.5,173.4 L862.7,171.4 L860.7,169.5 L858.8,167.6 L856.8,165.7 L854.8,163.8 L852.8,162.0 L850.7,160.2 L848.6,158.5 L846.5,156.8 L844.3,155.1 L842.1,153.5 L839.9,151.9 L837.6,150.5 L835.3,149.0 L833.0,147.6 L830.7,146.2 L828.4,144.8 L826.0,143.4 L823.7,142.1 L821.3,140.8 L818.9,139.6 L816.5,138.4 L814.1,137.2 L811.6,136.1 L809.2,135.0 L806.7,133.9 L804.2,132.9 L801.7,132.0 L799.2,131.1 L796.6,130.2 L794.1,129.3 L791.5,128.5 L788.9,127.8 L786.3,127.1 L783.8,126.4 L781.1,125.7 L778.5,125.1 L775.9,124.5 L773.3,124.0 L770.6,123.5 L768.0,123.0 L765.3,122.6 L762.6,122.3 L760.0,122.0 L757.3,121.7 L754.6,121.5 L751.9,121.3 L749.2,121.2 L746.5,121.1 L743.8,121.0 L741.1,121.1 L738.4,121.1 L735.7,121.2 L733.0,121.4 L730.3,121.6 L731.3,117.9 L732.0,114.2 L732.2,110.5 L732.0,106.9 L731.2,103.4 L730.0,99.9 L728.1,96.4Z" fill="none" stroke="#000" stroke-opacity=".12" stroke-width="1.2"/>
</g>
<!-- Operate -->
<clipPath id="c5"><path d="M928.9,267.2 L929.1,270.4 L929.3,273.7 L929.4,276.9 L929.5,280.2 L929.5,283.5 L929.5,286.8 L929.4,290.0 L929.2,293.3 L929.0,296.6 L928.7,299.9 L928.4,303.2 L928.0,306.4 L927.5,309.7 L927.0,313.0 L926.4,316.2 L925.7,319.4 L924.9,322.7 L924.1,325.9 L923.2,329.0 L922.2,332.2 L921.1,335.3 L920.0,338.5 L918.7,341.5 L917.4,344.6 L916.1,347.6 L914.6,350.6 L913.1,353.5 L911.5,356.4 L909.9,359.3 L908.2,362.2 L906.5,365.0 L904.7,367.7 L902.8,370.5 L900.9,373.2 L899.0,375.8 L897.0,378.4 L894.9,381.0 L892.8,383.6 L890.7,386.1 L888.5,388.6 L886.3,391.0 L884.1,393.4 L881.8,395.8 L879.5,398.1 L877.2,400.4 L874.8,402.6 L872.4,404.8 L869.9,407.0 L867.4,409.1 L864.9,411.2 L862.3,413.2 L859.7,415.1 L857.1,417.1 L854.4,418.9 L851.7,420.7 L848.9,422.5 L846.2,424.2 L843.4,425.9 L840.5,427.5 L837.7,429.0 L834.8,430.5 L831.8,431.9 L828.8,433.2 L825.9,434.5 L822.9,435.9 L820.0,437.2 L817.0,438.5 L814.0,439.7 L811.0,440.9 L807.9,442.0 L804.9,443.1 L801.8,444.1 L798.7,445.0 L795.6,445.9 L792.5,446.8 L789.3,447.6 L786.2,448.3 L783.0,449.0 L779.8,449.6 L776.6,450.1 L773.4,450.6 L770.2,451.1 L767.0,451.5 L763.8,451.8 L760.5,452.1 L757.3,452.3 L754.0,452.4 L750.8,452.5 L747.6,452.6 L744.3,452.5 L741.1,452.4 L737.8,452.3 L734.6,452.1 L731.4,451.8 L728.1,451.5 L724.9,451.1 L721.7,450.7 L718.5,450.2 L715.3,449.6 L712.1,449.0 L709.0,448.4 L705.8,447.6 L702.6,446.8 L699.5,446.0 L696.4,445.1 L693.3,444.1 L690.2,443.1 L687.2,442.0 L684.2,440.9 L681.1,439.7 L678.2,438.4 L675.2,437.0 L672.3,435.7 L669.4,434.2 L666.5,432.7 L663.7,431.1 L660.9,429.5 L658.2,427.8 L655.5,426.0 L652.8,424.2 L650.1,422.4 L647.5,420.6 L644.9,418.8 L642.2,416.9 L639.6,415.1 L637.0,413.2 L634.4,411.2 L631.9,409.2 L627.7,418.4 L607.5,376.1 L656.5,385.8 L645.1,393.7 L647.5,395.3 L649.9,396.9 L652.3,398.4 L654.8,399.8 L657.3,401.2 L659.8,402.6 L662.3,403.9 L664.9,405.1 L667.4,406.3 L670.0,407.5 L672.6,408.6 L675.2,409.7 L677.8,410.7 L680.4,411.7 L683.1,412.6 L685.7,413.5 L688.4,414.4 L691.0,415.2 L693.7,416.0 L696.4,416.7 L699.0,417.4 L701.7,418.1 L704.4,418.7 L707.1,419.2 L709.8,419.8 L712.5,420.2 L715.2,420.7 L717.9,421.1 L720.7,421.4 L723.4,421.7 L726.1,421.9 L728.8,422.1 L731.5,422.3 L734.3,422.4 L737.0,422.5 L739.7,422.5 L742.4,422.5 L745.1,422.4 L747.8,422.3 L750.5,422.1 L753.2,421.9 L755.9,421.7 L758.6,421.4 L761.3,421.0 L763.9,420.6 L766.6,420.2 L769.2,419.7 L771.9,419.2 L774.5,418.5 L777.1,417.8 L779.6,417.0 L782.2,416.2 L784.7,415.4 L787.3,414.7 L789.9,413.9 L792.4,413.0 L794.9,412.2 L797.4,411.2 L799.9,410.3 L802.3,409.3 L804.8,408.2 L807.2,407.2 L809.6,406.0 L812.0,404.9 L814.4,403.7 L816.7,402.4 L819.1,401.2 L821.4,399.8 L823.7,398.5 L825.9,397.1 L828.2,395.7 L830.4,394.2 L832.6,392.7 L834.7,391.1 L836.9,389.6 L839.1,388.1 L841.2,386.5 L843.3,384.9 L845.4,383.2 L847.5,381.5 L849.5,379.8 L851.5,378.0 L853.4,376.2 L855.4,374.3 L857.3,372.4 L859.1,370.5 L860.9,368.5 L862.7,366.5 L864.5,364.5 L866.2,362.4 L867.8,360.3 L869.5,358.2 L871.1,356.0 L872.6,353.8 L874.1,351.6 L875.5,349.3 L876.9,347.0 L878.3,344.7 L879.6,342.4 L880.9,340.0 L882.1,337.6 L883.2,335.2 L884.3,332.7 L885.4,330.3 L886.4,327.8 L887.4,325.3 L888.3,322.7 L889.2,320.2 L890.0,317.6 L890.8,315.1 L891.5,312.5 L892.2,309.9 L892.9,307.3 L893.4,304.7 L894.0,302.0 L894.5,299.4 L894.9,296.7 L895.3,294.1 L895.7,291.4 L896.0,288.8 L896.2,286.1 L896.4,283.4 L896.6,280.8 L896.7,278.1 L896.8,275.4 L896.8,272.7 L900.8,273.7 L904.8,274.3 L908.8,274.5 L912.9,274.2 L916.9,273.3 L920.9,271.9 L924.9,269.8Z"/></clipPath>
<path d="M928.9,267.2 L929.1,270.4 L929.3,273.7 L929.4,276.9 L929.5,280.2 L929.5,283.5 L929.5,286.8 L929.4,290.0 L929.2,293.3 L929.0,296.6 L928.7,299.9 L928.4,303.2 L928.0,306.4 L927.5,309.7 L927.0,313.0 L926.4,316.2 L925.7,319.4 L924.9,322.7 L924.1,325.9 L923.2,329.0 L922.2,332.2 L921.1,335.3 L920.0,338.5 L918.7,341.5 L917.4,344.6 L916.1,347.6 L914.6,350.6 L913.1,353.5 L911.5,356.4 L909.9,359.3 L908.2,362.2 L906.5,365.0 L904.7,367.7 L902.8,370.5 L900.9,373.2 L899.0,375.8 L897.0,378.4 L894.9,381.0 L892.8,383.6 L890.7,386.1 L888.5,388.6 L886.3,391.0 L884.1,393.4 L881.8,395.8 L879.5,398.1 L877.2,400.4 L874.8,402.6 L872.4,404.8 L869.9,407.0 L867.4,409.1 L864.9,411.2 L862.3,413.2 L859.7,415.1 L857.1,417.1 L854.4,418.9 L851.7,420.7 L848.9,422.5 L846.2,424.2 L843.4,425.9 L840.5,427.5 L837.7,429.0 L834.8,430.5 L831.8,431.9 L828.8,433.2 L825.9,434.5 L822.9,435.9 L820.0,437.2 L817.0,438.5 L814.0,439.7 L811.0,440.9 L807.9,442.0 L804.9,443.1 L801.8,444.1 L798.7,445.0 L795.6,445.9 L792.5,446.8 L789.3,447.6 L786.2,448.3 L783.0,449.0 L779.8,449.6 L776.6,450.1 L773.4,450.6 L770.2,451.1 L767.0,451.5 L763.8,451.8 L760.5,452.1 L757.3,452.3 L754.0,452.4 L750.8,452.5 L747.6,452.6 L744.3,452.5 L741.1,452.4 L737.8,452.3 L734.6,452.1 L731.4,451.8 L728.1,451.5 L724.9,451.1 L721.7,450.7 L718.5,450.2 L715.3,449.6 L712.1,449.0 L709.0,448.4 L705.8,447.6 L702.6,446.8 L699.5,446.0 L696.4,445.1 L693.3,444.1 L690.2,443.1 L687.2,442.0 L684.2,440.9 L681.1,439.7 L678.2,438.4 L675.2,437.0 L672.3,435.7 L669.4,434.2 L666.5,432.7 L663.7,431.1 L660.9,429.5 L658.2,427.8 L655.5,426.0 L652.8,424.2 L650.1,422.4 L647.5,420.6 L644.9,418.8 L642.2,416.9 L639.6,415.1 L637.0,413.2 L634.4,411.2 L631.9,409.2 L627.7,418.4 L607.5,376.1 L656.5,385.8 L645.1,393.7 L647.5,395.3 L649.9,396.9 L652.3,398.4 L654.8,399.8 L657.3,401.2 L659.8,402.6 L662.3,403.9 L664.9,405.1 L667.4,406.3 L670.0,407.5 L672.6,408.6 L675.2,409.7 L677.8,410.7 L680.4,411.7 L683.1,412.6 L685.7,413.5 L688.4,414.4 L691.0,415.2 L693.7,416.0 L696.4,416.7 L699.0,417.4 L701.7,418.1 L704.4,418.7 L707.1,419.2 L709.8,419.8 L712.5,420.2 L715.2,420.7 L717.9,421.1 L720.7,421.4 L723.4,421.7 L726.1,421.9 L728.8,422.1 L731.5,422.3 L734.3,422.4 L737.0,422.5 L739.7,422.5 L742.4,422.5 L745.1,422.4 L747.8,422.3 L750.5,422.1 L753.2,421.9 L755.9,421.7 L758.6,421.4 L761.3,421.0 L763.9,420.6 L766.6,420.2 L769.2,419.7 L771.9,419.2 L774.5,418.5 L777.1,417.8 L779.6,417.0 L782.2,416.2 L784.7,415.4 L787.3,414.7 L789.9,413.9 L792.4,413.0 L794.9,412.2 L797.4,411.2 L799.9,410.3 L802.3,409.3 L804.8,408.2 L807.2,407.2 L809.6,406.0 L812.0,404.9 L814.4,403.7 L816.7,402.4 L819.1,401.2 L821.4,399.8 L823.7,398.5 L825.9,397.1 L828.2,395.7 L830.4,394.2 L832.6,392.7 L834.7,391.1 L836.9,389.6 L839.1,388.1 L841.2,386.5 L843.3,384.9 L845.4,383.2 L847.5,381.5 L849.5,379.8 L851.5,378.0 L853.4,376.2 L855.4,374.3 L857.3,372.4 L859.1,370.5 L860.9,368.5 L862.7,366.5 L864.5,364.5 L866.2,362.4 L867.8,360.3 L869.5,358.2 L871.1,356.0 L872.6,353.8 L874.1,351.6 L875.5,349.3 L876.9,347.0 L878.3,344.7 L879.6,342.4 L880.9,340.0 L882.1,337.6 L883.2,335.2 L884.3,332.7 L885.4,330.3 L886.4,327.8 L887.4,325.3 L888.3,322.7 L889.2,320.2 L890.0,317.6 L890.8,315.1 L891.5,312.5 L892.2,309.9 L892.9,307.3 L893.4,304.7 L894.0,302.0 L894.5,299.4 L894.9,296.7 L895.3,294.1 L895.7,291.4 L896.0,288.8 L896.2,286.1 L896.4,283.4 L896.6,280.8 L896.7,278.1 L896.8,275.4 L896.8,272.7 L900.8,273.7 L904.8,274.3 L908.8,274.5 L912.9,274.2 L916.9,273.3 L920.9,271.9 L924.9,269.8Z" fill="#06101a" opacity=".55" filter="url(#sh)" transform="translate(1.4,2)"/>
<g clip-path="url(#c5)">
<path d="M928.9,267.2 L929.1,270.4 L929.3,273.7 L929.4,276.9 L929.5,280.2 L929.5,283.5 L929.5,286.8 L929.4,290.0 L929.2,293.3 L929.0,296.6 L928.7,299.9 L928.4,303.2 L928.0,306.4 L927.5,309.7 L927.0,313.0 L926.4,316.2 L925.7,319.4 L924.9,322.7 L924.1,325.9 L923.2,329.0 L922.2,332.2 L921.1,335.3 L920.0,338.5 L918.7,341.5 L917.4,344.6 L916.1,347.6 L914.6,350.6 L913.1,353.5 L911.5,356.4 L909.9,359.3 L908.2,362.2 L906.5,365.0 L904.7,367.7 L902.8,370.5 L900.9,373.2 L899.0,375.8 L897.0,378.4 L894.9,381.0 L892.8,383.6 L890.7,386.1 L888.5,388.6 L886.3,391.0 L884.1,393.4 L881.8,395.8 L879.5,398.1 L877.2,400.4 L874.8,402.6 L872.4,404.8 L869.9,407.0 L867.4,409.1 L864.9,411.2 L862.3,413.2 L859.7,415.1 L857.1,417.1 L854.4,418.9 L851.7,420.7 L848.9,422.5 L846.2,424.2 L843.4,425.9 L840.5,427.5 L837.7,429.0 L834.8,430.5 L831.8,431.9 L828.8,433.2 L825.9,434.5 L822.9,435.9 L820.0,437.2 L817.0,438.5 L814.0,439.7 L811.0,440.9 L807.9,442.0 L804.9,443.1 L801.8,444.1 L798.7,445.0 L795.6,445.9 L792.5,446.8 L789.3,447.6 L786.2,448.3 L783.0,449.0 L779.8,449.6 L776.6,450.1 L773.4,450.6 L770.2,451.1 L767.0,451.5 L763.8,451.8 L760.5,452.1 L757.3,452.3 L754.0,452.4 L750.8,452.5 L747.6,452.6 L744.3,452.5 L741.1,452.4 L737.8,452.3 L734.6,452.1 L731.4,451.8 L728.1,451.5 L724.9,451.1 L721.7,450.7 L718.5,450.2 L715.3,449.6 L712.1,449.0 L709.0,448.4 L705.8,447.6 L702.6,446.8 L699.5,446.0 L696.4,445.1 L693.3,444.1 L690.2,443.1 L687.2,442.0 L684.2,440.9 L681.1,439.7 L678.2,438.4 L675.2,437.0 L672.3,435.7 L669.4,434.2 L666.5,432.7 L663.7,431.1 L660.9,429.5 L658.2,427.8 L655.5,426.0 L652.8,424.2 L650.1,422.4 L647.5,420.6 L644.9,418.8 L642.2,416.9 L639.6,415.1 L637.0,413.2 L634.4,411.2 L631.9,409.2 L627.7,418.4 L607.5,376.1 L656.5,385.8 L645.1,393.7 L647.5,395.3 L649.9,396.9 L652.3,398.4 L654.8,399.8 L657.3,401.2 L659.8,402.6 L662.3,403.9 L664.9,405.1 L667.4,406.3 L670.0,407.5 L672.6,408.6 L675.2,409.7 L677.8,410.7 L680.4,411.7 L683.1,412.6 L685.7,413.5 L688.4,414.4 L691.0,415.2 L693.7,416.0 L696.4,416.7 L699.0,417.4 L701.7,418.1 L704.4,418.7 L707.1,419.2 L709.8,419.8 L712.5,420.2 L715.2,420.7 L717.9,421.1 L720.7,421.4 L723.4,421.7 L726.1,421.9 L728.8,422.1 L731.5,422.3 L734.3,422.4 L737.0,422.5 L739.7,422.5 L742.4,422.5 L745.1,422.4 L747.8,422.3 L750.5,422.1 L753.2,421.9 L755.9,421.7 L758.6,421.4 L761.3,421.0 L763.9,420.6 L766.6,420.2 L769.2,419.7 L771.9,419.2 L774.5,418.5 L777.1,417.8 L779.6,417.0 L782.2,416.2 L784.7,415.4 L787.3,414.7 L789.9,413.9 L792.4,413.0 L794.9,412.2 L797.4,411.2 L799.9,410.3 L802.3,409.3 L804.8,408.2 L807.2,407.2 L809.6,406.0 L812.0,404.9 L814.4,403.7 L816.7,402.4 L819.1,401.2 L821.4,399.8 L823.7,398.5 L825.9,397.1 L828.2,395.7 L830.4,394.2 L832.6,392.7 L834.7,391.1 L836.9,389.6 L839.1,388.1 L841.2,386.5 L843.3,384.9 L845.4,383.2 L847.5,381.5 L849.5,379.8 L851.5,378.0 L853.4,376.2 L855.4,374.3 L857.3,372.4 L859.1,370.5 L860.9,368.5 L862.7,366.5 L864.5,364.5 L866.2,362.4 L867.8,360.3 L869.5,358.2 L871.1,356.0 L872.6,353.8 L874.1,351.6 L875.5,349.3 L876.9,347.0 L878.3,344.7 L879.6,342.4 L880.9,340.0 L882.1,337.6 L883.2,335.2 L884.3,332.7 L885.4,330.3 L886.4,327.8 L887.4,325.3 L888.3,322.7 L889.2,320.2 L890.0,317.6 L890.8,315.1 L891.5,312.5 L892.2,309.9 L892.9,307.3 L893.4,304.7 L894.0,302.0 L894.5,299.4 L894.9,296.7 L895.3,294.1 L895.7,291.4 L896.0,288.8 L896.2,286.1 L896.4,283.4 L896.6,280.8 L896.7,278.1 L896.8,275.4 L896.8,272.7 L900.8,273.7 L904.8,274.3 L908.8,274.5 L912.9,274.2 L916.9,273.3 L920.9,271.9 L924.9,269.8Z" fill="#7fb39b"/>
<path d="M942.8,262.2 L943.1,270.4 L886.9,270.7 L886.8,264.9Z" fill="#6ba58c"/>
<path d="M943.0,269.2 L943.0,277.4 L886.9,275.7 L886.9,269.8Z" fill="#6ba58c"/>
<path d="M943.0,276.2 L942.6,284.4 L886.6,280.7 L886.9,274.8Z" fill="#6ba58c"/>
<path d="M942.7,283.2 L942.0,291.3 L886.2,285.6 L886.7,279.8Z" fill="#6ba58c"/>
<path d="M942.2,290.2 L941.2,298.3 L885.6,290.6 L886.3,284.8Z" fill="#6ba58c"/>
<path d="M941.4,297.1 L940.1,305.2 L884.9,295.5 L885.7,289.8Z" fill="#6ba58c"/>
<path d="M940.3,304.1 L939.8,306.9 L884.6,296.8 L885.0,294.7Z" fill="#6ea78e"/>
<path d="M940.0,305.8 L939.5,308.7 L884.4,298.0 L884.8,295.9Z" fill="#72a991"/>
<path d="M939.7,307.5 L939.2,310.4 L884.2,299.2 L884.6,297.2Z" fill="#76ac95"/>
<path d="M939.4,309.2 L938.8,312.1 L883.9,300.4 L884.3,298.4Z" fill="#7aaf98"/>
<path d="M939.0,310.9 L938.4,313.8 L883.6,301.7 L884.1,299.6Z" fill="#7eb19b"/>
<path d="M938.7,312.7 L938.0,315.5 L883.4,302.9 L883.8,300.8Z" fill="#82b49e"/>
<path d="M938.3,314.4 L937.6,317.2 L883.1,304.1 L883.6,302.1Z" fill="#86b7a2"/>
<path d="M937.9,316.1 L937.2,318.9 L882.8,305.3 L883.3,303.3Z" fill="#8ab9a5"/>
<path d="M937.5,317.8 L936.8,320.6 L882.5,306.5 L883.0,304.5Z" fill="#8ebca8"/>
<path d="M937.1,319.5 L936.3,322.3 L882.2,307.7 L882.7,305.7Z" fill="#92bfab"/>
<path d="M936.6,321.2 L935.9,324.0 L881.8,308.9 L882.4,306.9Z" fill="#96c1ae"/>
<path d="M936.2,322.9 L935.4,325.7 L881.5,310.1 L882.0,308.1Z" fill="#9ac4b2"/>
<path d="M935.7,324.6 L934.9,327.4 L881.1,311.3 L881.7,309.3Z" fill="#9ec6b5"/>
<path d="M935.2,326.2 L934.4,329.0 L880.8,312.5 L881.4,310.5Z" fill="#a2c9b8"/>
<path d="M934.7,327.9 L933.9,330.7 L880.4,313.7 L881.0,311.7Z" fill="#a6ccbb"/>
<path d="M934.2,329.6 L933.5,331.8 L880.1,314.5 L880.6,312.9Z" fill="#aacebe"/>
<path d="M933.9,330.7 L933.0,333.5 L879.8,315.7 L880.4,313.7Z" fill="#add0c1"/>
<path d="M933.3,332.4 L932.4,335.1 L879.4,316.9 L880.0,314.9Z" fill="#b1d3c4"/>
<path d="M932.8,334.0 L931.8,336.8 L878.9,318.1 L879.6,316.1Z" fill="#b5d5c7"/>
<path d="M932.2,335.7 L931.2,338.4 L878.5,319.2 L879.2,317.3Z" fill="#b9d8cb"/>
<path d="M931.6,337.3 L930.8,339.5 L878.2,320.0 L878.8,318.4Z" fill="#bddacd"/>
<path d="M931.2,338.4 L930.2,341.2 L877.8,321.2 L878.5,319.2Z" fill="#c0dcd0"/>
<path d="M930.6,340.1 L929.6,342.8 L877.3,322.3 L878.1,320.4Z" fill="#c4dfd3"/>
<path d="M930.0,341.7 L928.9,344.4 L876.9,323.5 L877.6,321.6Z" fill="#c8e2d6"/>
<path d="M929.4,343.3 L928.3,346.1 L876.4,324.7 L877.2,322.7Z" fill="#cce4da"/>
<path d="M928.7,345.0 L927.6,347.7 L875.9,325.8 L876.7,323.9Z" fill="#d0e7dd"/>
<path d="M928.1,346.6 L927.2,348.7 L875.6,326.6 L876.3,325.0Z" fill="#d4e9e0"/>
<path d="M927.6,347.7 L924.3,355.1 L873.5,331.1 L875.9,325.8Z" fill="#d8ece3"/>
<path d="M924.8,354.1 L921.2,361.4 L871.3,335.6 L873.9,330.4Z" fill="#d7ece2"/>
<path d="M921.7,360.4 L917.8,367.6 L869.0,340.0 L871.7,334.9Z" fill="#d7ebe2"/>
<path d="M918.4,366.5 L914.3,373.6 L866.4,344.3 L869.4,339.3Z" fill="#d6ebe1"/>
<path d="M914.9,372.6 L910.5,379.5 L863.7,348.5 L866.9,343.6Z" fill="#d5ebe1"/>
<path d="M911.2,378.5 L906.5,385.3 L860.9,352.6 L864.2,347.8Z" fill="#d5eae0"/>
<path d="M907.2,384.3 L902.4,390.9 L857.9,356.6 L861.4,352.0Z" fill="#d4eae0"/>
<path d="M903.1,390.0 L899.1,395.0 L855.6,359.6 L858.4,356.0Z" fill="#d0e7dd"/>
<path d="M899.8,394.1 L895.4,399.5 L852.9,362.8 L856.1,358.9Z" fill="#cce5d9"/>
<path d="M896.1,398.6 L891.9,403.4 L850.4,365.6 L853.5,362.1Z" fill="#c8e2d6"/>
<path d="M892.6,402.6 L887.9,407.7 L847.6,368.6 L851.0,364.9Z" fill="#c4dfd3"/>
<path d="M888.7,406.8 L883.7,411.8 L844.6,371.5 L848.2,368.0Z" fill="#c0ddd0"/>
<path d="M884.6,411.0 L879.9,415.4 L841.9,374.1 L845.2,371.0Z" fill="#bcdacc"/>
<path d="M880.8,414.6 L875.6,419.3 L838.8,376.9 L842.5,373.5Z" fill="#b8d8c9"/>
<path d="M876.4,418.5 L871.5,422.7 L836.0,379.3 L839.4,376.3Z" fill="#b4d5c6"/>
<path d="M872.4,421.9 L867.0,426.3 L832.7,381.9 L836.6,378.8Z" fill="#b0d2c3"/>
<path d="M867.9,425.6 L862.8,429.5 L829.7,384.1 L833.4,381.4Z" fill="#acd0c0"/>
<path d="M863.7,428.8 L858.0,432.8 L826.3,386.5 L830.4,383.6Z" fill="#a8cdbc"/>
<path d="M859.0,432.2 L853.6,435.7 L823.2,388.6 L827.0,386.1Z" fill="#a4cbb9"/>
<path d="M854.6,435.1 L848.7,438.8 L819.7,390.8 L823.9,388.2Z" fill="#a0c8b6"/>
<path d="M849.7,438.2 L844.2,441.5 L816.4,392.7 L820.4,390.4Z" fill="#9cc5b3"/>
<path d="M845.2,440.9 L839.0,444.3 L812.8,394.7 L817.1,392.3Z" fill="#98c3b0"/>
<path d="M840.1,443.8 L833.8,447.0 L809.1,396.6 L813.5,394.3Z" fill="#94c0ac"/>
<path d="M834.9,446.4 L829.1,449.2 L805.7,398.2 L809.8,396.2Z" fill="#90bea9"/>
<path d="M830.2,448.7 L823.8,451.6 L801.9,399.9 L806.4,397.9Z" fill="#8cbba6"/>
<path d="M824.8,451.1 L818.9,453.6 L798.4,401.3 L802.6,399.6Z" fill="#88b8a3"/>
<path d="M820.0,453.1 L813.4,455.6 L794.5,402.8 L799.2,401.0Z" fill="#84b69f"/>
<path d="M814.5,455.2 L808.5,457.3 L791.0,404.0 L795.3,402.5Z" fill="#80b39c"/>
<path d="M809.6,456.9 L802.9,459.1 L787.0,405.2 L791.8,403.7Z" fill="#7cb199"/>
<path d="M804.0,458.7 L797.8,460.5 L783.4,406.2 L787.8,405.0Z" fill="#78ae96"/>
<path d="M798.9,460.2 L792.2,461.9 L779.3,407.3 L784.2,406.0Z" fill="#74ab92"/>
<path d="M793.3,461.6 L787.0,463.0 L775.7,408.1 L780.2,407.1Z" fill="#70a98f"/>
<path d="M788.2,462.8 L780.1,464.3 L770.8,409.0 L776.5,407.9Z" fill="#6da78d"/>
<path d="M781.3,464.1 L773.2,465.4 L765.8,409.7 L771.6,408.8Z" fill="#6da78d"/>
<path d="M774.4,465.2 L766.3,466.2 L760.9,410.3 L766.7,409.6Z" fill="#6da78d"/>
<path d="M767.4,466.0 L759.3,466.7 L755.9,410.7 L761.7,410.2Z" fill="#6da78d"/>
<path d="M760.4,466.6 L752.3,467.0 L750.9,410.9 L756.7,410.6Z" fill="#6da78d"/>
<path d="M753.4,467.0 L745.3,467.0 L745.9,410.9 L751.7,410.9Z" fill="#6ca68d"/>
<path d="M746.4,467.1 L738.3,466.8 L740.9,410.8 L746.7,410.9Z" fill="#6ca68d"/>
<path d="M739.4,466.9 L731.3,466.4 L735.9,410.5 L741.8,410.8Z" fill="#6ca68d"/>
<path d="M732.4,466.5 L724.3,465.7 L731.0,410.0 L736.8,410.5Z" fill="#6ca68d"/>
<path d="M725.5,465.8 L717.4,464.7 L726.0,409.3 L731.8,410.1Z" fill="#6ca68d"/>
<path d="M718.5,464.9 L710.5,463.5 L721.1,408.4 L726.8,409.4Z" fill="#6ca68c"/>
<path d="M711.6,463.7 L703.6,462.1 L716.2,407.4 L721.9,408.6Z" fill="#6ca68c"/>
<path d="M704.8,462.3 L696.8,460.4 L711.4,406.2 L717.0,407.6Z" fill="#6ca68c"/>
<path d="M698.0,460.7 L690.1,458.4 L706.6,404.8 L712.2,406.4Z" fill="#6ca68c"/>
<path d="M691.2,458.8 L683.4,456.3 L701.8,403.2 L707.4,405.0Z" fill="#6ba58c"/>
<path d="M684.5,456.6 L676.9,453.9 L697.1,401.5 L702.6,403.5Z" fill="#6ba58c"/>
<path d="M677.9,454.3 L670.4,451.2 L692.5,399.6 L697.9,401.8Z" fill="#6ba58c"/>
<path d="M671.4,451.7 L664.0,448.3 L687.9,397.6 L693.3,400.0Z" fill="#6ba58c"/>
<path d="M665.0,448.8 L657.7,445.2 L683.5,395.4 L688.7,397.9Z" fill="#6ba58c"/>
<path d="M658.7,445.8 L652.1,442.2 L679.4,393.2 L684.2,395.8Z" fill="#6ca68d"/>
<path d="M653.1,442.7 L648.0,439.9 L676.6,391.5 L680.2,393.6Z" fill="#71aa91"/>
<path d="M649.0,440.4 L644.5,437.7 L674.1,390.0 L677.3,392.0Z" fill="#75ad94"/>
<path d="M645.5,438.3 L640.6,435.2 L671.3,388.2 L674.8,390.5Z" fill="#79b098"/>
<path d="M641.5,435.9 L637.2,433.0 L668.8,386.6 L671.9,388.7Z" fill="#7db39b"/>
<path d="M638.1,433.6 L633.3,430.3 L666.1,384.7 L669.5,387.1Z" fill="#81b69e"/>
<path d="M634.3,431.0 L630.1,427.9 L663.8,383.0 L666.8,385.2Z" fill="#85b9a2"/>
<path d="M631.0,428.6 L626.4,425.0 L661.1,381.0 L664.4,383.5Z" fill="#89bca5"/>
<path d="M627.3,425.7 L623.2,422.4 L658.8,379.1 L661.8,381.5Z" fill="#8dbfa8"/>
<path d="M624.1,423.2 L619.6,419.4 L656.3,377.0 L659.5,379.7Z" fill="#91c2ab"/>
<path d="M620.5,420.2 L616.5,416.7 L654.1,375.1 L656.9,377.5Z" fill="#95c5af"/>
<path d="M617.4,417.5 L614.4,414.8 L652.6,373.7 L654.7,375.6Z" fill="#99c7b2"/>
<path d="M615.2,415.6 L612.7,413.2 L651.4,372.5 L653.2,374.2Z" fill="#9dcab5"/>
<path d="M613.5,414.0 L610.9,411.4 L649.5,370.8 L652.0,373.1Z" fill="#a1ccb8"/>
<path d="M611.6,412.1 L609.4,410.1 L648.1,369.4 L650.3,371.5Z" fill="#a5cfbb"/>
<path d="M610.2,410.8 L607.6,408.3 L646.3,367.7 L648.8,370.1Z" fill="#a9d1bf"/>
<path d="M608.3,409.0 L606.2,407.0 L644.8,366.3 L647.0,368.4Z" fill="#add3c2"/>
<path d="M606.9,407.7 L604.7,405.6 L643.4,364.9 L645.6,367.0Z" fill="#b1d5c5"/>
<path d="M605.5,406.3 L602.9,403.9 L641.6,363.2 L644.1,365.6Z" fill="#b5d8c8"/>
<path d="M603.6,404.6 L601.5,402.5 L640.1,361.8 L642.3,363.9Z" fill="#b9dacb"/>
<path d="M602.2,403.2 L600.0,401.1 L638.7,360.4 L640.8,362.5Z" fill="#bddcce"/>
<path d="M600.7,401.8 L598.2,399.4 L636.9,358.7 L639.4,361.1Z" fill="#c1dfd1"/>
<path d="M598.9,400.1 L596.8,398.0 L635.4,357.3 L637.6,359.4Z" fill="#c5e1d5"/>
<path d="M597.5,398.7 L594.9,396.3 L633.6,355.6 L636.1,358.0Z" fill="#c9e4d8"/>
<path d="M595.7,397.0 L593.5,394.9 L632.2,354.2 L634.3,356.3Z" fill="#cde6db"/>
<path d="M594.2,395.6 L592.0,393.5 L630.7,352.9 L632.9,354.9Z" fill="#d1e8de"/>
<path d="M592.8,394.2 L587.7,389.4 L626.4,348.7 L631.4,353.6Z" fill="#d6ebe2"/>
<path d="M928.9,267.2 L929.1,270.4 L929.3,273.7 L929.4,276.9 L929.5,280.2 L929.5,283.5 L929.5,286.8 L929.4,290.0 L929.2,293.3 L929.0,296.6 L928.7,299.9 L928.4,303.2 L928.0,306.4 L927.5,309.7 L927.0,313.0 L926.4,316.2 L925.7,319.4 L924.9,322.7 L924.1,325.9 L923.2,329.0 L922.2,332.2 L921.1,335.3 L920.0,338.5 L918.7,341.5 L917.4,344.6 L916.1,347.6 L914.6,350.6 L913.1,353.5 L911.5,356.4 L909.9,359.3 L908.2,362.2 L906.5,365.0 L904.7,367.7 L902.8,370.5 L900.9,373.2 L899.0,375.8 L897.0,378.4 L894.9,381.0 L892.8,383.6 L890.7,386.1 L888.5,388.6 L886.3,391.0 L884.1,393.4 L881.8,395.8 L879.5,398.1 L877.2,400.4 L874.8,402.6 L872.4,404.8 L869.9,407.0 L867.4,409.1 L864.9,411.2 L862.3,413.2 L859.7,415.1 L857.1,417.1 L854.4,418.9 L851.7,420.7 L848.9,422.5 L846.2,424.2 L843.4,425.9 L840.5,427.5 L837.7,429.0 L834.8,430.5 L831.8,431.9 L828.8,433.2 L825.9,434.5 L822.9,435.9 L820.0,437.2 L817.0,438.5 L814.0,439.7 L811.0,440.9 L807.9,442.0 L804.9,443.1 L801.8,444.1 L798.7,445.0 L795.6,445.9 L792.5,446.8 L789.3,447.6 L786.2,448.3 L783.0,449.0 L779.8,449.6 L776.6,450.1 L773.4,450.6 L770.2,451.1 L767.0,451.5 L763.8,451.8 L760.5,452.1 L757.3,452.3 L754.0,452.4 L750.8,452.5 L747.6,452.6 L744.3,452.5 L741.1,452.4 L737.8,452.3 L734.6,452.1 L731.4,451.8 L728.1,451.5 L724.9,451.1 L721.7,450.7 L718.5,450.2 L715.3,449.6 L712.1,449.0 L709.0,448.4 L705.8,447.6 L702.6,446.8 L699.5,446.0 L696.4,445.1 L693.3,444.1 L690.2,443.1 L687.2,442.0 L684.2,440.9 L681.1,439.7 L678.2,438.4 L675.2,437.0 L672.3,435.7 L669.4,434.2 L666.5,432.7 L663.7,431.1 L660.9,429.5 L658.2,427.8 L655.5,426.0 L652.8,424.2 L650.1,422.4 L647.5,420.6 L644.9,418.8 L642.2,416.9 L639.6,415.1 L637.0,413.2 L634.4,411.2 L631.9,409.2 L627.7,418.4 L607.5,376.1 L656.5,385.8 L645.1,393.7 L647.5,395.3 L649.9,396.9 L652.3,398.4 L654.8,399.8 L657.3,401.2 L659.8,402.6 L662.3,403.9 L664.9,405.1 L667.4,406.3 L670.0,407.5 L672.6,408.6 L675.2,409.7 L677.8,410.7 L680.4,411.7 L683.1,412.6 L685.7,413.5 L688.4,414.4 L691.0,415.2 L693.7,416.0 L696.4,416.7 L699.0,417.4 L701.7,418.1 L704.4,418.7 L707.1,419.2 L709.8,419.8 L712.5,420.2 L715.2,420.7 L717.9,421.1 L720.7,421.4 L723.4,421.7 L726.1,421.9 L728.8,422.1 L731.5,422.3 L734.3,422.4 L737.0,422.5 L739.7,422.5 L742.4,422.5 L745.1,422.4 L747.8,422.3 L750.5,422.1 L753.2,421.9 L755.9,421.7 L758.6,421.4 L761.3,421.0 L763.9,420.6 L766.6,420.2 L769.2,419.7 L771.9,419.2 L774.5,418.5 L777.1,417.8 L779.6,417.0 L782.2,416.2 L784.7,415.4 L787.3,414.7 L789.9,413.9 L792.4,413.0 L794.9,412.2 L797.4,411.2 L799.9,410.3 L802.3,409.3 L804.8,408.2 L807.2,407.2 L809.6,406.0 L812.0,404.9 L814.4,403.7 L816.7,402.4 L819.1,401.2 L821.4,399.8 L823.7,398.5 L825.9,397.1 L828.2,395.7 L830.4,394.2 L832.6,392.7 L834.7,391.1 L836.9,389.6 L839.1,388.1 L841.2,386.5 L843.3,384.9 L845.4,383.2 L847.5,381.5 L849.5,379.8 L851.5,378.0 L853.4,376.2 L855.4,374.3 L857.3,372.4 L859.1,370.5 L860.9,368.5 L862.7,366.5 L864.5,364.5 L866.2,362.4 L867.8,360.3 L869.5,358.2 L871.1,356.0 L872.6,353.8 L874.1,351.6 L875.5,349.3 L876.9,347.0 L878.3,344.7 L879.6,342.4 L880.9,340.0 L882.1,337.6 L883.2,335.2 L884.3,332.7 L885.4,330.3 L886.4,327.8 L887.4,325.3 L888.3,322.7 L889.2,320.2 L890.0,317.6 L890.8,315.1 L891.5,312.5 L892.2,309.9 L892.9,307.3 L893.4,304.7 L894.0,302.0 L894.5,299.4 L894.9,296.7 L895.3,294.1 L895.7,291.4 L896.0,288.8 L896.2,286.1 L896.4,283.4 L896.6,280.8 L896.7,278.1 L896.8,275.4 L896.8,272.7 L900.8,273.7 L904.8,274.3 L908.8,274.5 L912.9,274.2 L916.9,273.3 L920.9,271.9 L924.9,269.8Z" fill="none" stroke="#000" stroke-opacity=".12" stroke-width="1.2"/>
</g>
<!-- Feedback -->
<clipPath id="c6"><path d="M533.3,330.0 L531.3,327.7 L529.3,325.5 L527.3,323.2 L525.3,321.0 L523.3,318.7 L521.3,316.5 L519.3,314.2 L517.2,312.0 L515.2,309.7 L513.2,307.5 L511.2,305.2 L509.2,303.0 L507.2,300.7 L505.2,298.4 L503.2,296.2 L501.2,293.9 L499.2,291.7 L497.2,289.4 L495.2,287.2 L493.2,284.9 L491.2,282.6 L489.2,280.4 L487.2,278.1 L485.2,275.9 L483.2,273.6 L481.3,271.3 L479.3,269.0 L477.3,266.7 L475.4,264.4 L473.5,262.1 L471.5,259.7 L469.6,257.4 L467.7,255.1 L465.7,252.8 L463.7,250.5 L461.7,248.2 L459.7,246.0 L457.6,243.8 L455.5,241.7 L453.4,239.5 L451.4,237.3 L449.3,235.1 L447.2,233.0 L445.1,230.8 L443.0,228.7 L440.8,226.5 L438.7,224.4 L436.6,222.3 L434.4,220.2 L432.3,218.1 L430.1,216.0 L427.9,214.0 L425.8,211.9 L423.6,209.8 L421.4,207.8 L419.2,205.7 L417.0,203.7 L414.8,201.6 L412.6,199.6 L410.4,197.5 L408.2,195.5 L405.9,193.5 L403.7,191.4 L401.5,189.4 L399.3,187.4 L397.0,185.4 L394.7,183.5 L392.4,181.5 L390.1,179.6 L387.7,177.7 L385.4,175.8 L383.0,173.9 L380.7,172.0 L378.3,170.1 L376.0,168.2 L373.7,166.3 L371.3,164.4 L368.9,162.6 L366.5,160.7 L364.2,159.0 L362.0,157.4 L359.8,155.8 L357.5,154.2 L355.3,152.7 L353.0,151.1 L350.8,149.6 L348.6,148.0 L346.4,146.4 L344.1,144.9 L341.9,143.3 L339.7,141.8 L337.4,140.3 L335.2,138.8 L332.9,137.3 L330.6,135.8 L328.3,134.3 L326.0,132.8 L323.6,131.4 L321.3,129.9 L319.0,128.2 L317.1,125.6 L315.2,122.7 L313.0,120.3 L310.5,118.9 L307.8,117.8 L305.1,116.7 L302.4,115.8 L299.7,114.9 L296.9,114.0 L294.1,113.3 L291.3,112.6 L288.5,111.9 L285.7,111.4 L282.8,110.8 L280.0,110.4 L277.1,110.0 L274.2,109.6 L271.4,109.3 L268.5,109.1 L265.6,108.9 L262.7,108.7 L259.8,108.6 L256.9,108.5 L263.5,127.7 L218.1,109.6 L270.2,72.1 L263.5,89.7 L266.7,89.6 L270.0,89.6 L273.2,89.6 L276.5,89.6 L279.8,89.8 L283.0,89.9 L286.3,90.2 L289.5,90.5 L292.8,90.9 L296.1,91.3 L299.3,91.8 L302.5,92.3 L305.8,93.0 L309.0,93.7 L312.2,94.4 L315.4,95.2 L318.6,96.1 L321.7,97.1 L324.9,98.1 L328.0,99.2 L331.1,100.3 L334.2,101.5 L337.3,102.8 L340.3,104.1 L343.3,105.4 L346.3,106.9 L349.3,108.3 L352.3,109.9 L355.2,111.4 L358.1,113.1 L361.0,114.7 L363.8,116.4 L366.7,118.2 L369.5,120.0 L372.3,121.9 L375.0,123.7 L377.8,125.7 L380.5,127.6 L383.2,129.6 L385.9,131.6 L388.5,133.8 L390.9,135.7 L393.3,137.7 L395.5,139.6 L397.8,141.6 L400.1,143.6 L402.3,145.6 L404.6,147.6 L406.8,149.6 L409.1,151.5 L411.3,153.5 L413.6,155.6 L415.8,157.6 L418.0,159.6 L420.2,161.6 L422.4,163.7 L424.6,165.8 L426.8,167.8 L428.9,169.9 L431.1,172.1 L433.2,174.2 L435.3,176.3 L437.5,178.4 L439.6,180.6 L441.7,182.8 L443.8,184.9 L445.8,187.1 L447.9,189.2 L450.0,191.4 L452.1,193.6 L454.2,195.8 L456.3,197.9 L458.3,200.1 L460.4,202.3 L462.4,204.5 L464.5,206.8 L466.5,209.0 L468.5,211.2 L470.5,213.5 L472.6,215.7 L474.6,217.9 L476.6,220.1 L478.7,222.4 L480.7,224.6 L482.8,226.8 L484.9,229.0 L486.9,231.1 L489.0,233.3 L491.1,235.5 L493.2,237.7 L495.2,239.9 L497.3,242.0 L499.4,244.2 L501.5,246.4 L503.5,248.6 L505.6,250.8 L507.7,253.0 L509.7,255.1 L511.8,257.3 L513.9,259.5 L515.9,261.7 L518.0,263.9 L520.1,266.1 L522.1,268.3 L524.2,270.5 L526.2,272.7 L528.3,274.9 L530.3,277.1 L532.3,279.4 L534.4,281.6 L536.4,283.8 L538.4,286.1 L540.4,288.4 L542.4,290.6 L544.4,292.9 L546.4,295.1 L548.4,297.4 L550.4,299.7 L552.4,301.9 L554.4,304.2Z"/></clipPath>
<path d="M533.3,330.0 L531.3,327.7 L529.3,325.5 L527.3,323.2 L525.3,321.0 L523.3,318.7 L521.3,316.5 L519.3,314.2 L517.2,312.0 L515.2,309.7 L513.2,307.5 L511.2,305.2 L509.2,303.0 L507.2,300.7 L505.2,298.4 L503.2,296.2 L501.2,293.9 L499.2,291.7 L497.2,289.4 L495.2,287.2 L493.2,284.9 L491.2,282.6 L489.2,280.4 L487.2,278.1 L485.2,275.9 L483.2,273.6 L481.3,271.3 L479.3,269.0 L477.3,266.7 L475.4,264.4 L473.5,262.1 L471.5,259.7 L469.6,257.4 L467.7,255.1 L465.7,252.8 L463.7,250.5 L461.7,248.2 L459.7,246.0 L457.6,243.8 L455.5,241.7 L453.4,239.5 L451.4,237.3 L449.3,235.1 L447.2,233.0 L445.1,230.8 L443.0,228.7 L440.8,226.5 L438.7,224.4 L436.6,222.3 L434.4,220.2 L432.3,218.1 L430.1,216.0 L427.9,214.0 L425.8,211.9 L423.6,209.8 L421.4,207.8 L419.2,205.7 L417.0,203.7 L414.8,201.6 L412.6,199.6 L410.4,197.5 L408.2,195.5 L405.9,193.5 L403.7,191.4 L401.5,189.4 L399.3,187.4 L397.0,185.4 L394.7,183.5 L392.4,181.5 L390.1,179.6 L387.7,177.7 L385.4,175.8 L383.0,173.9 L380.7,172.0 L378.3,170.1 L376.0,168.2 L373.7,166.3 L371.3,164.4 L368.9,162.6 L366.5,160.7 L364.2,159.0 L362.0,157.4 L359.8,155.8 L357.5,154.2 L355.3,152.7 L353.0,151.1 L350.8,149.6 L348.6,148.0 L346.4,146.4 L344.1,144.9 L341.9,143.3 L339.7,141.8 L337.4,140.3 L335.2,138.8 L332.9,137.3 L330.6,135.8 L328.3,134.3 L326.0,132.8 L323.6,131.4 L321.3,129.9 L319.0,128.2 L317.1,125.6 L315.2,122.7 L313.0,120.3 L310.5,118.9 L307.8,117.8 L305.1,116.7 L302.4,115.8 L299.7,114.9 L296.9,114.0 L294.1,113.3 L291.3,112.6 L288.5,111.9 L285.7,111.4 L282.8,110.8 L280.0,110.4 L277.1,110.0 L274.2,109.6 L271.4,109.3 L268.5,109.1 L265.6,108.9 L262.7,108.7 L259.8,108.6 L256.9,108.5 L263.5,127.7 L218.1,109.6 L270.2,72.1 L263.5,89.7 L266.7,89.6 L270.0,89.6 L273.2,89.6 L276.5,89.6 L279.8,89.8 L283.0,89.9 L286.3,90.2 L289.5,90.5 L292.8,90.9 L296.1,91.3 L299.3,91.8 L302.5,92.3 L305.8,93.0 L309.0,93.7 L312.2,94.4 L315.4,95.2 L318.6,96.1 L321.7,97.1 L324.9,98.1 L328.0,99.2 L331.1,100.3 L334.2,101.5 L337.3,102.8 L340.3,104.1 L343.3,105.4 L346.3,106.9 L349.3,108.3 L352.3,109.9 L355.2,111.4 L358.1,113.1 L361.0,114.7 L363.8,116.4 L366.7,118.2 L369.5,120.0 L372.3,121.9 L375.0,123.7 L377.8,125.7 L380.5,127.6 L383.2,129.6 L385.9,131.6 L388.5,133.8 L390.9,135.7 L393.3,137.7 L395.5,139.6 L397.8,141.6 L400.1,143.6 L402.3,145.6 L404.6,147.6 L406.8,149.6 L409.1,151.5 L411.3,153.5 L413.6,155.6 L415.8,157.6 L418.0,159.6 L420.2,161.6 L422.4,163.7 L424.6,165.8 L426.8,167.8 L428.9,169.9 L431.1,172.1 L433.2,174.2 L435.3,176.3 L437.5,178.4 L439.6,180.6 L441.7,182.8 L443.8,184.9 L445.8,187.1 L447.9,189.2 L450.0,191.4 L452.1,193.6 L454.2,195.8 L456.3,197.9 L458.3,200.1 L460.4,202.3 L462.4,204.5 L464.5,206.8 L466.5,209.0 L468.5,211.2 L470.5,213.5 L472.6,215.7 L474.6,217.9 L476.6,220.1 L478.7,222.4 L480.7,224.6 L482.8,226.8 L484.9,229.0 L486.9,231.1 L489.0,233.3 L491.1,235.5 L493.2,237.7 L495.2,239.9 L497.3,242.0 L499.4,244.2 L501.5,246.4 L503.5,248.6 L505.6,250.8 L507.7,253.0 L509.7,255.1 L511.8,257.3 L513.9,259.5 L515.9,261.7 L518.0,263.9 L520.1,266.1 L522.1,268.3 L524.2,270.5 L526.2,272.7 L528.3,274.9 L530.3,277.1 L532.3,279.4 L534.4,281.6 L536.4,283.8 L538.4,286.1 L540.4,288.4 L542.4,290.6 L544.4,292.9 L546.4,295.1 L548.4,297.4 L550.4,299.7 L552.4,301.9 L554.4,304.2Z" fill="#06101a" opacity=".55" filter="url(#sh)" transform="translate(1.4,2)"/>
<g clip-path="url(#c6)">
<path d="M533.3,330.0 L531.3,327.7 L529.3,325.5 L527.3,323.2 L525.3,321.0 L523.3,318.7 L521.3,316.5 L519.3,314.2 L517.2,312.0 L515.2,309.7 L513.2,307.5 L511.2,305.2 L509.2,303.0 L507.2,300.7 L505.2,298.4 L503.2,296.2 L501.2,293.9 L499.2,291.7 L497.2,289.4 L495.2,287.2 L493.2,284.9 L491.2,282.6 L489.2,280.4 L487.2,278.1 L485.2,275.9 L483.2,273.6 L481.3,271.3 L479.3,269.0 L477.3,266.7 L475.4,264.4 L473.5,262.1 L471.5,259.7 L469.6,257.4 L467.7,255.1 L465.7,252.8 L463.7,250.5 L461.7,248.2 L459.7,246.0 L457.6,243.8 L455.5,241.7 L453.4,239.5 L451.4,237.3 L449.3,235.1 L447.2,233.0 L445.1,230.8 L443.0,228.7 L440.8,226.5 L438.7,224.4 L436.6,222.3 L434.4,220.2 L432.3,218.1 L430.1,216.0 L427.9,214.0 L425.8,211.9 L423.6,209.8 L421.4,207.8 L419.2,205.7 L417.0,203.7 L414.8,201.6 L412.6,199.6 L410.4,197.5 L408.2,195.5 L405.9,193.5 L403.7,191.4 L401.5,189.4 L399.3,187.4 L397.0,185.4 L394.7,183.5 L392.4,181.5 L390.1,179.6 L387.7,177.7 L385.4,175.8 L383.0,173.9 L380.7,172.0 L378.3,170.1 L376.0,168.2 L373.7,166.3 L371.3,164.4 L368.9,162.6 L366.5,160.7 L364.2,159.0 L362.0,157.4 L359.8,155.8 L357.5,154.2 L355.3,152.7 L353.0,151.1 L350.8,149.6 L348.6,148.0 L346.4,146.4 L344.1,144.9 L341.9,143.3 L339.7,141.8 L337.4,140.3 L335.2,138.8 L332.9,137.3 L330.6,135.8 L328.3,134.3 L326.0,132.8 L323.6,131.4 L321.3,129.9 L319.0,128.2 L317.1,125.6 L315.2,122.7 L313.0,120.3 L310.5,118.9 L307.8,117.8 L305.1,116.7 L302.4,115.8 L299.7,114.9 L296.9,114.0 L294.1,113.3 L291.3,112.6 L288.5,111.9 L285.7,111.4 L282.8,110.8 L280.0,110.4 L277.1,110.0 L274.2,109.6 L271.4,109.3 L268.5,109.1 L265.6,108.9 L262.7,108.7 L259.8,108.6 L256.9,108.5 L263.5,127.7 L218.1,109.6 L270.2,72.1 L263.5,89.7 L266.7,89.6 L270.0,89.6 L273.2,89.6 L276.5,89.6 L279.8,89.8 L283.0,89.9 L286.3,90.2 L289.5,90.5 L292.8,90.9 L296.1,91.3 L299.3,91.8 L302.5,92.3 L305.8,93.0 L309.0,93.7 L312.2,94.4 L315.4,95.2 L318.6,96.1 L321.7,97.1 L324.9,98.1 L328.0,99.2 L331.1,100.3 L334.2,101.5 L337.3,102.8 L340.3,104.1 L343.3,105.4 L346.3,106.9 L349.3,108.3 L352.3,109.9 L355.2,111.4 L358.1,113.1 L361.0,114.7 L363.8,116.4 L366.7,118.2 L369.5,120.0 L372.3,121.9 L375.0,123.7 L377.8,125.7 L380.5,127.6 L383.2,129.6 L385.9,131.6 L388.5,133.8 L390.9,135.7 L393.3,137.7 L395.5,139.6 L397.8,141.6 L400.1,143.6 L402.3,145.6 L404.6,147.6 L406.8,149.6 L409.1,151.5 L411.3,153.5 L413.6,155.6 L415.8,157.6 L418.0,159.6 L420.2,161.6 L422.4,163.7 L424.6,165.8 L426.8,167.8 L428.9,169.9 L431.1,172.1 L433.2,174.2 L435.3,176.3 L437.5,178.4 L439.6,180.6 L441.7,182.8 L443.8,184.9 L445.8,187.1 L447.9,189.2 L450.0,191.4 L452.1,193.6 L454.2,195.8 L456.3,197.9 L458.3,200.1 L460.4,202.3 L462.4,204.5 L464.5,206.8 L466.5,209.0 L468.5,211.2 L470.5,213.5 L472.6,215.7 L474.6,217.9 L476.6,220.1 L478.7,222.4 L480.7,224.6 L482.8,226.8 L484.9,229.0 L486.9,231.1 L489.0,233.3 L491.1,235.5 L493.2,237.7 L495.2,239.9 L497.3,242.0 L499.4,244.2 L501.5,246.4 L503.5,248.6 L505.6,250.8 L507.7,253.0 L509.7,255.1 L511.8,257.3 L513.9,259.5 L515.9,261.7 L518.0,263.9 L520.1,266.1 L522.1,268.3 L524.2,270.5 L526.2,272.7 L528.3,274.9 L530.3,277.1 L532.3,279.4 L534.4,281.6 L536.4,283.8 L538.4,286.1 L540.4,288.4 L542.4,290.6 L544.4,292.9 L546.4,295.1 L548.4,297.4 L550.4,299.7 L552.4,301.9 L554.4,304.2Z" fill="#d0ecbc"/>
<path d="M526.2,343.3 L521.1,338.4 L572.1,284.8 L577.1,289.7Z" fill="#68a438"/>
<path d="M521.9,339.1 L516.8,334.3 L567.7,280.7 L572.8,285.5Z" fill="#68a438"/>
<path d="M517.5,335.0 L512.4,330.2 L563.4,276.6 L568.5,281.4Z" fill="#68a438"/>
<path d="M513.2,330.9 L508.1,326.0 L559.0,272.4 L564.1,277.3Z" fill="#68a438"/>
<path d="M508.8,326.7 L503.7,321.9 L554.7,268.3 L559.8,273.1Z" fill="#68a438"/>
<path d="M504.5,322.6 L499.4,317.8 L550.3,264.2 L555.4,269.0Z" fill="#68a438"/>
<path d="M500.1,318.5 L497.2,315.7 L548.2,262.1 L551.1,264.9Z" fill="#69a539"/>
<path d="M497.9,316.4 L495.4,314.0 L546.3,260.4 L548.9,262.8Z" fill="#6da73e"/>
<path d="M496.1,314.7 L494.0,312.6 L544.9,259.0 L547.1,261.1Z" fill="#70aa42"/>
<path d="M494.7,313.3 L492.2,310.9 L543.1,257.3 L545.6,259.7Z" fill="#73ac46"/>
<path d="M492.9,311.6 L490.3,309.1 L541.3,255.6 L543.8,258.0Z" fill="#77ae4a"/>
<path d="M491.1,309.8 L488.9,307.8 L539.8,254.2 L542.0,256.3Z" fill="#7ab04e"/>
<path d="M489.6,308.5 L487.1,306.0 L538.0,252.5 L540.5,254.9Z" fill="#7db352"/>
<path d="M487.8,306.7 L485.3,304.3 L536.2,250.7 L538.7,253.2Z" fill="#80b556"/>
<path d="M486.0,305.0 L483.8,302.9 L534.7,249.4 L536.9,251.4Z" fill="#83b75a"/>
<path d="M484.5,303.6 L482.0,301.2 L532.9,247.6 L535.5,250.1Z" fill="#86ba5e"/>
<path d="M482.7,301.9 L480.2,299.5 L531.1,245.9 L533.7,248.3Z" fill="#8abc62"/>
<path d="M480.9,300.2 L478.7,298.1 L529.7,244.5 L531.8,246.6Z" fill="#8dbe66"/>
<path d="M479.5,298.8 L476.9,296.4 L527.9,242.8 L530.4,245.2Z" fill="#90c06a"/>
<path d="M477.7,297.1 L475.5,295.0 L526.4,241.4 L528.6,243.5Z" fill="#93c36e"/>
<path d="M476.2,295.7 L473.7,293.3 L524.6,239.7 L527.1,242.1Z" fill="#96c572"/>
<path d="M474.4,294.0 L471.9,291.6 L522.8,238.0 L525.3,240.4Z" fill="#9ac776"/>
<path d="M472.6,292.3 L470.4,290.2 L521.3,236.6 L523.5,238.7Z" fill="#9dc97a"/>
<path d="M471.1,290.9 L468.6,288.5 L519.5,234.9 L522.1,237.3Z" fill="#a0cc7e"/>
<path d="M469.3,289.2 L466.8,286.8 L517.7,233.2 L520.3,235.6Z" fill="#a3ce82"/>
<path d="M467.5,287.4 L465.3,285.4 L516.3,231.8 L518.4,233.9Z" fill="#a6d086"/>
<path d="M466.1,286.1 L463.5,283.7 L514.5,230.1 L517.0,232.5Z" fill="#aad28a"/>
<path d="M464.2,284.3 L461.7,281.9 L512.6,228.4 L515.2,230.8Z" fill="#add58e"/>
<path d="M462.4,282.6 L460.3,280.6 L511.2,227.0 L513.4,229.0Z" fill="#b0d792"/>
<path d="M461.0,281.2 L458.4,278.8 L509.4,225.3 L511.9,227.7Z" fill="#b3d996"/>
<path d="M459.2,279.5 L456.6,277.1 L507.6,223.5 L510.1,225.9Z" fill="#b7dc9a"/>
<path d="M457.4,277.8 L455.2,275.7 L506.1,222.2 L508.3,224.2Z" fill="#bade9e"/>
<path d="M455.9,276.4 L453.4,274.0 L504.3,220.4 L506.8,222.8Z" fill="#bde0a2"/>
<path d="M454.1,274.7 L451.9,272.6 L502.9,219.1 L505.0,221.1Z" fill="#c0e2a6"/>
<path d="M452.7,273.3 L450.1,270.9 L501.0,217.3 L503.6,219.7Z" fill="#c3e5aa"/>
<path d="M450.8,271.6 L447.9,268.8 L498.9,215.3 L501.8,218.0Z" fill="#c7e7af"/>
<path d="M448.7,269.5 L443.6,264.7 L494.5,211.1 L499.6,216.0Z" fill="#c9e9b2"/>
<path d="M444.3,265.4 L439.2,260.6 L490.2,207.0 L495.2,211.8Z" fill="#cbeab5"/>
<path d="M440.0,261.3 L434.9,256.4 L485.8,202.9 L490.9,207.7Z" fill="#cdebb8"/>
<path d="M435.6,257.1 L430.5,252.3 L481.5,198.7 L486.5,203.6Z" fill="#cfecbc"/>
<path d="M431.3,253.0 L426.2,248.2 L477.1,194.6 L482.2,199.4Z" fill="#d1edbf"/>
<path d="M426.9,248.9 L421.8,244.0 L472.8,190.5 L477.9,195.3Z" fill="#d4eec2"/>
<path d="M422.6,244.7 L417.5,239.9 L468.4,186.3 L473.5,191.2Z" fill="#d6efc5"/>
<path d="M418.2,240.6 L413.1,235.8 L464.1,182.2 L469.2,187.0Z" fill="#d6efc5"/>
<path d="M413.9,236.5 L408.8,231.6 L459.7,178.1 L464.8,182.9Z" fill="#d5eec4"/>
<path d="M409.5,232.3 L404.5,227.5 L455.4,173.9 L460.5,178.7Z" fill="#d4eec3"/>
<path d="M405.2,228.2 L400.1,223.4 L451.0,169.8 L456.1,174.6Z" fill="#d4eec2"/>
<path d="M400.8,224.1 L395.8,219.2 L446.7,165.7 L451.8,170.5Z" fill="#d3eec1"/>
<path d="M396.5,219.9 L391.4,215.1 L442.3,161.5 L447.4,166.3Z" fill="#d3edc0"/>
<path d="M392.1,215.8 L387.1,211.0 L438.0,157.4 L443.1,162.2Z" fill="#d2edbf"/>
<path d="M387.8,211.7 L382.7,206.8 L433.6,153.3 L438.7,158.1Z" fill="#d1edbe"/>
<path d="M383.4,207.5 L378.4,202.7 L429.3,149.1 L434.4,153.9Z" fill="#d1ecbd"/>
<path d="M379.1,203.4 L374.0,198.6 L424.9,145.0 L430.0,149.8Z" fill="#d0ecbc"/>
<path d="M374.7,199.3 L371.8,196.5 L422.8,142.9 L425.7,145.7Z" fill="#ceebb9"/>
<path d="M372.6,197.2 L369.7,194.4 L420.6,140.9 L423.5,143.6Z" fill="#cbe8b5"/>
<path d="M370.4,195.1 L367.8,192.7 L418.8,139.1 L421.3,141.5Z" fill="#c7e6b1"/>
<path d="M368.6,193.4 L365.7,190.6 L416.6,137.1 L419.5,139.8Z" fill="#c4e4ad"/>
<path d="M366.4,191.3 L363.5,188.6 L414.4,135.0 L417.3,137.8Z" fill="#c1e2a9"/>
<path d="M364.2,189.3 L361.7,186.9 L412.6,133.3 L415.2,135.7Z" fill="#bedfa5"/>
<path d="M362.4,187.5 L359.5,184.8 L410.4,131.2 L413.3,134.0Z" fill="#bbdda1"/>
<path d="M360.2,185.5 L357.7,183.1 L408.6,129.5 L411.2,131.9Z" fill="#b8db9d"/>
<path d="M358.4,183.8 L355.5,181.0 L406.5,127.4 L409.4,130.2Z" fill="#b5d999"/>
<path d="M356.3,181.7 L353.7,179.3 L404.6,125.7 L407.2,128.1Z" fill="#b2d795"/>
<path d="M354.4,180.0 L351.5,177.2 L402.5,123.6 L405.4,126.4Z" fill="#aed591"/>
<path d="M352.3,177.9 L349.8,175.5 L400.6,121.9 L403.2,124.3Z" fill="#abd38d"/>
<path d="M350.5,176.2 L348.1,173.9 L397.9,119.4 L401.4,122.6Z" fill="#a8d089"/>
<path d="M348.6,174.5 L346.6,172.6 L395.7,117.3 L398.8,120.2Z" fill="#a5ce85"/>
<path d="M347.2,173.2 L344.9,171.1 L392.9,114.9 L396.6,118.1Z" fill="#a2cc81"/>
<path d="M345.4,171.6 L343.4,169.8 L390.6,113.0 L393.8,115.7Z" fill="#9fca7d"/>
<path d="M344.0,170.3 L341.5,168.4 L387.7,110.6 L391.5,113.7Z" fill="#9cc879"/>
<path d="M342.2,168.9 L339.7,166.9 L384.9,108.4 L388.7,111.4Z" fill="#99c675"/>
<path d="M340.3,167.4 L338.2,165.7 L382.4,106.5 L385.8,109.1Z" fill="#96c371"/>
<path d="M338.8,166.2 L336.3,164.4 L379.5,104.4 L383.4,107.3Z" fill="#92c16d"/>
<path d="M336.9,164.8 L334.7,163.2 L377.0,102.6 L380.5,105.1Z" fill="#8fbf69"/>
<path d="M335.3,163.7 L332.8,161.9 L374.0,100.5 L378.0,103.3Z" fill="#8cbd65"/>
<path d="M333.4,162.4 L331.1,160.8 L371.4,98.9 L375.0,101.2Z" fill="#89bb61"/>
<path d="M331.8,161.3 L329.2,159.6 L368.3,96.9 L372.4,99.5Z" fill="#86b95d"/>
<path d="M329.8,160.0 L327.5,158.6 L365.7,95.3 L369.4,97.5Z" fill="#83b759"/>
<path d="M328.2,159.0 L325.5,157.4 L362.6,93.4 L366.8,95.9Z" fill="#80b555"/>
<path d="M326.2,157.8 L323.8,156.4 L359.9,91.9 L363.6,94.0Z" fill="#7db251"/>
<path d="M324.5,156.8 L321.7,155.3 L356.7,90.2 L361.0,92.5Z" fill="#7ab04d"/>
<path d="M322.4,155.7 L319.7,154.2 L353.5,88.5 L357.8,90.7Z" fill="#76ae49"/>
<path d="M320.4,154.6 L317.9,153.3 L350.7,87.1 L354.6,89.0Z" fill="#73ac45"/>
<path d="M318.6,153.7 L315.8,152.3 L347.4,85.5 L351.8,87.6Z" fill="#70aa41"/>
<path d="M316.5,152.6 L314.1,151.5 L344.7,84.2 L348.5,86.0Z" fill="#6da73d"/>
<path d="M314.8,151.8 L309.8,149.6 L338.0,81.3 L345.8,84.7Z" fill="#6ba63a"/>
<path d="M310.5,149.9 L305.4,147.9 L331.1,78.6 L339.1,81.8Z" fill="#6aa63a"/>
<path d="M306.1,148.2 L301.0,146.4 L324.2,76.2 L332.3,79.0Z" fill="#6aa539"/>
<path d="M301.7,146.6 L296.5,145.0 L317.2,74.0 L325.4,76.6Z" fill="#6aa539"/>
<path d="M297.3,145.2 L292.0,143.8 L310.2,72.1 L318.4,74.4Z" fill="#69a539"/>
<path d="M292.8,143.9 L287.5,142.7 L303.0,70.4 L311.4,72.4Z" fill="#69a438"/>
<path d="M288.2,142.9 L282.9,141.8 L295.9,69.0 L304.2,70.7Z" fill="#69a438"/>
<path d="M283.7,141.9 L278.3,141.0 L288.6,67.9 L297.1,69.2Z" fill="#68a438"/>
<path d="M279.0,141.2 L273.6,140.5 L281.4,67.0 L289.8,68.0Z" fill="#68a337"/>
<path d="M274.4,140.6 L269.0,140.1 L274.1,66.3 L282.6,67.1Z" fill="#68a337"/>
<path d="M269.8,140.1 L264.3,139.8 L266.7,65.9 L275.3,66.4Z" fill="#67a337"/>
<path d="M265.1,139.9 L259.6,139.8 L259.4,65.8 L268.0,66.0Z" fill="#67a236"/>
<path d="M260.4,139.8 L255.0,139.9 L252.1,66.0 L260.6,65.8Z" fill="#66a236"/>
<path d="M255.7,139.8 L250.3,140.1 L244.8,66.4 L253.3,65.9Z" fill="#66a236"/>
<path d="M251.1,140.1 L245.6,140.6 L237.5,67.1 L246.0,66.3Z" fill="#66a135"/>
<path d="M246.4,140.5 L241.0,141.2 L230.2,68.0 L238.7,66.9Z" fill="#65a135"/>
<path d="M241.8,141.0 L236.4,141.9 L223.0,69.2 L231.4,67.8Z" fill="#65a135"/>
<path d="M237.1,141.8 L231.8,142.8 L215.8,70.7 L224.2,69.0Z" fill="#65a135"/>
<path d="M232.6,142.7 L227.3,143.9 L208.7,72.4 L217.0,70.4Z" fill="#64a034"/>
<path d="M228.0,143.7 L222.7,145.2 L201.6,74.3 L209.9,72.1Z" fill="#64a034"/>
<path d="M533.3,330.0 L531.3,327.7 L529.3,325.5 L527.3,323.2 L525.3,321.0 L523.3,318.7 L521.3,316.5 L519.3,314.2 L517.2,312.0 L515.2,309.7 L513.2,307.5 L511.2,305.2 L509.2,303.0 L507.2,300.7 L505.2,298.4 L503.2,296.2 L501.2,293.9 L499.2,291.7 L497.2,289.4 L495.2,287.2 L493.2,284.9 L491.2,282.6 L489.2,280.4 L487.2,278.1 L485.2,275.9 L483.2,273.6 L481.3,271.3 L479.3,269.0 L477.3,266.7 L475.4,264.4 L473.5,262.1 L471.5,259.7 L469.6,257.4 L467.7,255.1 L465.7,252.8 L463.7,250.5 L461.7,248.2 L459.7,246.0 L457.6,243.8 L455.5,241.7 L453.4,239.5 L451.4,237.3 L449.3,235.1 L447.2,233.0 L445.1,230.8 L443.0,228.7 L440.8,226.5 L438.7,224.4 L436.6,222.3 L434.4,220.2 L432.3,218.1 L430.1,216.0 L427.9,214.0 L425.8,211.9 L423.6,209.8 L421.4,207.8 L419.2,205.7 L417.0,203.7 L414.8,201.6 L412.6,199.6 L410.4,197.5 L408.2,195.5 L405.9,193.5 L403.7,191.4 L401.5,189.4 L399.3,187.4 L397.0,185.4 L394.7,183.5 L392.4,181.5 L390.1,179.6 L387.7,177.7 L385.4,175.8 L383.0,173.9 L380.7,172.0 L378.3,170.1 L376.0,168.2 L373.7,166.3 L371.3,164.4 L368.9,162.6 L366.5,160.7 L364.2,159.0 L362.0,157.4 L359.8,155.8 L357.5,154.2 L355.3,152.7 L353.0,151.1 L350.8,149.6 L348.6,148.0 L346.4,146.4 L344.1,144.9 L341.9,143.3 L339.7,141.8 L337.4,140.3 L335.2,138.8 L332.9,137.3 L330.6,135.8 L328.3,134.3 L326.0,132.8 L323.6,131.4 L321.3,129.9 L319.0,128.2 L317.1,125.6 L315.2,122.7 L313.0,120.3 L310.5,118.9 L307.8,117.8 L305.1,116.7 L302.4,115.8 L299.7,114.9 L296.9,114.0 L294.1,113.3 L291.3,112.6 L288.5,111.9 L285.7,111.4 L282.8,110.8 L280.0,110.4 L277.1,110.0 L274.2,109.6 L271.4,109.3 L268.5,109.1 L265.6,108.9 L262.7,108.7 L259.8,108.6 L256.9,108.5 L263.5,127.7 L218.1,109.6 L270.2,72.1 L263.5,89.7 L266.7,89.6 L270.0,89.6 L273.2,89.6 L276.5,89.6 L279.8,89.8 L283.0,89.9 L286.3,90.2 L289.5,90.5 L292.8,90.9 L296.1,91.3 L299.3,91.8 L302.5,92.3 L305.8,93.0 L309.0,93.7 L312.2,94.4 L315.4,95.2 L318.6,96.1 L321.7,97.1 L324.9,98.1 L328.0,99.2 L331.1,100.3 L334.2,101.5 L337.3,102.8 L340.3,104.1 L343.3,105.4 L346.3,106.9 L349.3,108.3 L352.3,109.9 L355.2,111.4 L358.1,113.1 L361.0,114.7 L363.8,116.4 L366.7,118.2 L369.5,120.0 L372.3,121.9 L375.0,123.7 L377.8,125.7 L380.5,127.6 L383.2,129.6 L385.9,131.6 L388.5,133.8 L390.9,135.7 L393.3,137.7 L395.5,139.6 L397.8,141.6 L400.1,143.6 L402.3,145.6 L404.6,147.6 L406.8,149.6 L409.1,151.5 L411.3,153.5 L413.6,155.6 L415.8,157.6 L418.0,159.6 L420.2,161.6 L422.4,163.7 L424.6,165.8 L426.8,167.8 L428.9,169.9 L431.1,172.1 L433.2,174.2 L435.3,176.3 L437.5,178.4 L439.6,180.6 L441.7,182.8 L443.8,184.9 L445.8,187.1 L447.9,189.2 L450.0,191.4 L452.1,193.6 L454.2,195.8 L456.3,197.9 L458.3,200.1 L460.4,202.3 L462.4,204.5 L464.5,206.8 L466.5,209.0 L468.5,211.2 L470.5,213.5 L472.6,215.7 L474.6,217.9 L476.6,220.1 L478.7,222.4 L480.7,224.6 L482.8,226.8 L484.9,229.0 L486.9,231.1 L489.0,233.3 L491.1,235.5 L493.2,237.7 L495.2,239.9 L497.3,242.0 L499.4,244.2 L501.5,246.4 L503.5,248.6 L505.6,250.8 L507.7,253.0 L509.7,255.1 L511.8,257.3 L513.9,259.5 L515.9,261.7 L518.0,263.9 L520.1,266.1 L522.1,268.3 L524.2,270.5 L526.2,272.7 L528.3,274.9 L530.3,277.1 L532.3,279.4 L534.4,281.6 L536.4,283.8 L538.4,286.1 L540.4,288.4 L542.4,290.6 L544.4,292.9 L546.4,295.1 L548.4,297.4 L550.4,299.7 L552.4,301.9 L554.4,304.2Z" fill="none" stroke="#000" stroke-opacity=".12" stroke-width="1.2"/>
</g>
<g opacity=".999">
<path id="tp0" d="M113.2,218.0 L114.2,215.4 L115.2,212.8 L116.3,210.2 L117.4,207.6 L118.5,205.1 L119.7,202.5 L120.9,200.0 L122.2,197.5 L123.6,195.1 L124.9,192.6 L126.4,190.2 L127.8,187.8 L129.3,185.5 L130.9,183.1 L132.5,180.8 L134.1,178.5 L135.8,176.3 L137.5,174.1 L139.2,171.9 L141.0,169.7" fill="none"/>
<text font-family="Liberation Sans, sans-serif" font-weight="bold" font-size="23" fill="#0a1018" opacity=".6" filter="url(#tsh)" transform="translate(1.5,1.8)"><textPath href="#tp0" textLength="56.0" lengthAdjust="spacingAndGlyphs">Plan</textPath></text>
<text font-family="Liberation Sans, sans-serif" font-weight="bold" font-size="23" fill="#cdcdcd"><textPath href="#tp0" textLength="56.0" lengthAdjust="spacingAndGlyphs">Plan</textPath></text>
<text font-family="Liberation Sans, sans-serif" font-weight="bold" font-size="23" fill="#f7f7f7" transform="translate(-.35,-.45)"><textPath href="#tp0" textLength="56.0" lengthAdjust="spacingAndGlyphs">Plan</textPath></text>
<text font-family="Liberation Sans, sans-serif" font-weight="bold" font-size="23" fill="none" stroke="#363636" stroke-width=".95" stroke-linejoin="round"><textPath href="#tp0" textLength="56.0" lengthAdjust="spacingAndGlyphs">Plan</textPath></text>
<path id="tp1" d="M112.9,373.7 L114.8,376.4 L116.8,379.1 L118.9,381.7 L120.9,384.3 L123.1,386.8 L125.3,389.4 L127.5,391.8 L129.8,394.3 L132.1,396.7 L134.4,399.0 L136.8,401.3 L139.3,403.6 L141.8,405.8 L144.3,407.9 L146.9,410.1 L149.5,412.1 L152.1,414.1 L154.8,416.1 L157.5,418.0 L160.3,419.9 L163.1,421.7 L165.9,423.5 L168.7,425.2" fill="none"/>
<text font-family="Liberation Sans, sans-serif" font-weight="bold" font-size="23.5" fill="#0a1018" opacity=".6" filter="url(#tsh)" transform="translate(1.5,1.8)"><textPath href="#tp1" textLength="76.6" lengthAdjust="spacingAndGlyphs">Build</textPath></text>
<text font-family="Liberation Sans, sans-serif" font-weight="bold" font-size="23.5" fill="#cdcdcd"><textPath href="#tp1" textLength="76.6" lengthAdjust="spacingAndGlyphs">Build</textPath></text>
<text font-family="Liberation Sans, sans-serif" font-weight="bold" font-size="23.5" fill="#f7f7f7" transform="translate(-.35,-.45)"><textPath href="#tp1" textLength="76.6" lengthAdjust="spacingAndGlyphs">Build</textPath></text>
<text font-family="Liberation Sans, sans-serif" font-weight="bold" font-size="23.5" fill="none" stroke="#363636" stroke-width=".95" stroke-linejoin="round"><textPath href="#tp1" textLength="76.6" lengthAdjust="spacingAndGlyphs">Build</textPath></text>
<path id="tp2" d="M291.8,445.9 L294.9,445.3 L298.1,444.7 L301.2,444.0 L304.3,443.2 L307.4,442.4 L310.5,441.5 L313.6,440.6 L316.7,439.6 L319.7,438.5 L322.7,437.4 L325.7,436.3 L328.7,435.0 L331.7,433.8 L334.6,432.5 L337.5,431.1 L340.4,429.7 L343.3,428.2 L346.1,426.7 L348.9,425.1 L351.7,423.5 L354.4,421.8 L357.1,420.1 L359.8,418.3 L362.5,416.5 L365.1,414.6 L367.7,412.7 L370.2,410.7 L372.7,408.7 L375.2,406.7 L377.6,404.6 L380.0,402.4 L382.4,400.2 L384.6,398.2 L386.8,396.1 L389.0,394.0 L391.2,392.0 L393.4,389.9 L395.6,387.8 L397.8,385.8 L400.0,383.7 L402.2,381.6 L404.4,379.5 L406.6,377.5 L408.8,375.4 L411.0,373.3 L413.2,371.3 L415.4,369.2 L417.6,367.1 L419.8,365.1 L421.9,363.0 L424.1,360.9 L426.3,358.9 L428.5,356.8 L430.7,354.7 L432.9,352.7 L435.1,350.6" fill="none"/>
<text font-family="Liberation Sans, sans-serif" font-weight="bold" font-size="25.5" fill="#0a1018" opacity=".6" filter="url(#tsh)" transform="translate(1.5,1.8)"><textPath href="#tp2" textLength="175.3" lengthAdjust="spacingAndGlyphs">Continuous</textPath></text>
<text font-family="Liberation Sans, sans-serif" font-weight="bold" font-size="25.5" fill="#cdcdcd"><textPath href="#tp2" textLength="175.3" lengthAdjust="spacingAndGlyphs">Continuous</textPath></text>
<text font-family="Liberation Sans, sans-serif" font-weight="bold" font-size="25.5" fill="#f7f7f7" transform="translate(-.35,-.45)"><textPath href="#tp2" textLength="175.3" lengthAdjust="spacingAndGlyphs">Continuous</textPath></text>
<text font-family="Liberation Sans, sans-serif" font-weight="bold" font-size="25.5" fill="none" stroke="#363636" stroke-width=".95" stroke-linejoin="round"><textPath href="#tp2" textLength="175.3" lengthAdjust="spacingAndGlyphs">Continuous</textPath></text>
<path id="tp3" d="M557.7,230.6 L559.9,228.5 L562.1,226.4 L564.3,224.4 L566.5,222.3 L568.7,220.2 L570.9,218.1 L573.1,216.1 L575.3,214.0 L577.5,211.9 L579.7,209.9 L581.9,207.8 L584.1,205.7 L586.3,203.6 L588.5,201.6 L590.7,199.5 L592.9,197.4 L595.1,195.4 L597.3,193.3 L599.5,191.2 L601.7,189.1 L603.9,187.1 L606.1,185.0 L608.3,182.9 L610.5,180.9 L612.7,178.8 L614.9,176.7 L617.1,174.7 L619.3,172.6 L621.5,170.5 L623.7,168.4 L625.9,166.4 L628.1,164.3 L630.3,162.2 L632.5,160.2 L634.7,158.1 L636.9,156.0 L639.1,154.0 L641.2,152.1 L643.4,150.2 L645.6,148.3 L647.8,146.5 L650.1,144.7 L652.4,143.0 L654.7,141.3 L657.1,139.6 L659.5,138.0" fill="none"/>
<text font-family="Liberation Sans, sans-serif" font-weight="bold" font-size="22" fill="#0a1018" opacity=".6" filter="url(#tsh)" transform="translate(1.5,1.8)"><textPath href="#tp3" textLength="137.7" lengthAdjust="spacingAndGlyphs">Integration</textPath></text>
<text font-family="Liberation Sans, sans-serif" font-weight="bold" font-size="22" fill="#cdcdcd"><textPath href="#tp3" textLength="137.7" lengthAdjust="spacingAndGlyphs">Integration</textPath></text>
<text font-family="Liberation Sans, sans-serif" font-weight="bold" font-size="22" fill="#f7f7f7" transform="translate(-.35,-.45)"><textPath href="#tp3" textLength="137.7" lengthAdjust="spacingAndGlyphs">Integration</textPath></text>
<text font-family="Liberation Sans, sans-serif" font-weight="bold" font-size="22" fill="none" stroke="#363636" stroke-width=".95" stroke-linejoin="round"><textPath href="#tp3" textLength="137.7" lengthAdjust="spacingAndGlyphs">Integration</textPath></text>
<path id="tp4" d="M780.4,118.2 L783.1,118.8 L785.9,119.5 L788.6,120.2 L791.3,120.9 L794.0,121.7 L796.7,122.6 L799.3,123.5 L802.0,124.5 L804.6,125.5 L807.2,126.5 L809.8,127.6 L812.4,128.8 L814.9,129.9 L817.5,131.2 L820.0,132.5 L822.5,133.8 L824.9,135.2 L827.4,136.6 L829.8,138.0 L832.2,139.5 L834.5,141.1 L836.9,142.6 L839.1,144.3 L841.4,145.9 L843.7,147.6 L845.9,149.4 L848.0,151.2 L850.2,153.0 L852.3,154.9 L854.4,156.8 L856.4,158.7" fill="none"/>
<text font-family="Liberation Sans, sans-serif" font-weight="bold" font-size="24" fill="#0a1018" opacity=".6" filter="url(#tsh)" transform="translate(1.5,1.8)"><textPath href="#tp4" textLength="87.3" lengthAdjust="spacingAndGlyphs">Deploy</textPath></text>
<text font-family="Liberation Sans, sans-serif" font-weight="bold" font-size="24" fill="#cdcdcd"><textPath href="#tp4" textLength="87.3" lengthAdjust="spacingAndGlyphs">Deploy</textPath></text>
<text font-family="Liberation Sans, sans-serif" font-weight="bold" font-size="24" fill="#f7f7f7" transform="translate(-.35,-.45)"><textPath href="#tp4" textLength="87.3" lengthAdjust="spacingAndGlyphs">Deploy</textPath></text>
<text font-family="Liberation Sans, sans-serif" font-weight="bold" font-size="24" fill="none" stroke="#363636" stroke-width=".95" stroke-linejoin="round"><textPath href="#tp4" textLength="87.3" lengthAdjust="spacingAndGlyphs">Deploy</textPath></text>
<path id="tp5" d="M774.3,444.8 L777.5,444.3 L780.6,443.7 L783.8,443.1 L786.9,442.4 L790.0,441.7 L793.1,440.9 L796.2,440.0 L799.3,439.1 L802.3,438.1 L805.3,437.1 L808.3,436.0 L811.3,434.9 L814.3,433.7 L817.3,432.4 L820.2,431.1 L823.1,429.8 L826.0,428.4 L828.8,426.9 L831.6,425.4 L834.4,423.9 L837.2,422.2 L839.9,420.6 L842.6,418.9 L845.3,417.1 L847.9,415.3 L850.5,413.4 L853.1,411.5 L855.6,409.6 L858.1,407.6 L860.6,405.6 L863.0,403.5 L865.4,401.3 L867.8,399.2 L870.1,397.0 L872.4,394.7 L874.6,392.4 L876.8,390.1 L878.9,387.7 L881.0,385.3 L883.1,382.8 L885.1,380.3 L887.0,377.8" fill="none"/>
<text font-family="Liberation Sans, sans-serif" font-weight="bold" font-size="27" fill="#0a1018" opacity=".6" filter="url(#tsh)" transform="translate(1.5,1.8)"><textPath href="#tp5" textLength="134.4" lengthAdjust="spacingAndGlyphs">Operate</textPath></text>
<text font-family="Liberation Sans, sans-serif" font-weight="bold" font-size="27" fill="#cdcdcd"><textPath href="#tp5" textLength="134.4" lengthAdjust="spacingAndGlyphs">Operate</textPath></text>
<text font-family="Liberation Sans, sans-serif" font-weight="bold" font-size="27" fill="#f7f7f7" transform="translate(-.35,-.45)"><textPath href="#tp5" textLength="134.4" lengthAdjust="spacingAndGlyphs">Operate</textPath></text>
<text font-family="Liberation Sans, sans-serif" font-weight="bold" font-size="27" fill="none" stroke="#363636" stroke-width=".95" stroke-linejoin="round"><textPath href="#tp5" textLength="134.4" lengthAdjust="spacingAndGlyphs">Operate</textPath></text>
<path id="tp6" d="M295.9,112.4 L298.7,113.1 L301.5,113.9 L304.3,114.7 L307.0,115.6 L309.8,116.5 L312.5,117.4 L315.2,118.4 L317.9,119.5 L320.6,120.6 L323.2,121.8 L325.9,123.0 L328.5,124.2 L331.1,125.5 L333.6,126.8 L336.2,128.2 L338.7,129.6 L341.2,131.1 L343.6,132.6 L346.1,134.2 L348.5,135.8 L350.8,137.4 L353.2,139.1 L355.5,140.8 L357.7,142.6 L360.0,144.4 L362.2,146.3 L364.4,148.1 L366.5,150.1 L368.6,152.0 L370.7,154.0 L372.8,156.1 L375.0,158.2 L377.1,160.3 L379.3,162.4 L381.4,164.5 L383.6,166.6 L385.7,168.7 L387.8,170.8 L390.0,172.9 L392.1,175.0 L394.3,177.1 L396.4,179.2 L398.6,181.3 L400.7,183.4 L402.9,185.5 L405.0,187.6 L407.1,189.7 L409.3,191.8 L411.4,193.9 L413.6,196.0 L415.7,198.1 L417.9,200.2 L420.0,202.3 L422.1,204.4 L424.3,206.5 L426.4,208.6 L428.6,210.7 L430.7,212.8 L432.9,214.9 L435.0,217.0 L437.1,219.1 L439.3,221.2 L441.4,223.3 L443.6,225.4 L445.7,227.5 L447.9,229.6 L450.0,231.7 L452.2,233.8 L454.3,235.9 L456.4,238.0 L458.6,240.1 L460.7,242.2 L462.9,244.3 L465.0,246.4 L467.2,248.5 L469.3,250.6 L471.4,252.7 L473.6,254.8 L475.7,256.9 L477.9,259.0 L480.0,261.1 L482.2,263.2 L484.3,265.3 L486.4,267.4 L488.6,269.5 L490.7,271.6 L492.9,273.7 L495.0,275.8 L497.2,277.9 L499.3,280.0 L501.5,282.1 L503.6,284.2 L505.7,286.3 L507.9,288.4 L510.0,290.5 L512.2,292.6 L514.3,294.7" fill="none"/>
<text font-family="Liberation Sans, sans-serif" font-weight="bold" font-size="25.3" fill="#0a1018" opacity=".6" filter="url(#tsh)" transform="translate(1.5,1.8)"><textPath href="#tp6" textLength="287.7" lengthAdjust="spacingAndGlyphs">Continuous Feedback</textPath></text>
<text font-family="Liberation Sans, sans-serif" font-weight="bold" font-size="25.3" fill="#cdcdcd"><textPath href="#tp6" textLength="287.7" lengthAdjust="spacingAndGlyphs">Continuous Feedback</textPath></text>
<text font-family="Liberation Sans, sans-serif" font-weight="bold" font-size="25.3" fill="#f7f7f7" transform="translate(-.35,-.45)"><textPath href="#tp6" textLength="287.7" lengthAdjust="spacingAndGlyphs">Continuous Feedback</textPath></text>
<text font-family="Liberation Sans, sans-serif" font-weight="bold" font-size="25.3" fill="none" stroke="#363636" stroke-width=".95" stroke-linejoin="round"><textPath href="#tp6" textLength="287.7" lengthAdjust="spacingAndGlyphs">Continuous Feedback</textPath></text>
</g>
</svg>
</body></html>
